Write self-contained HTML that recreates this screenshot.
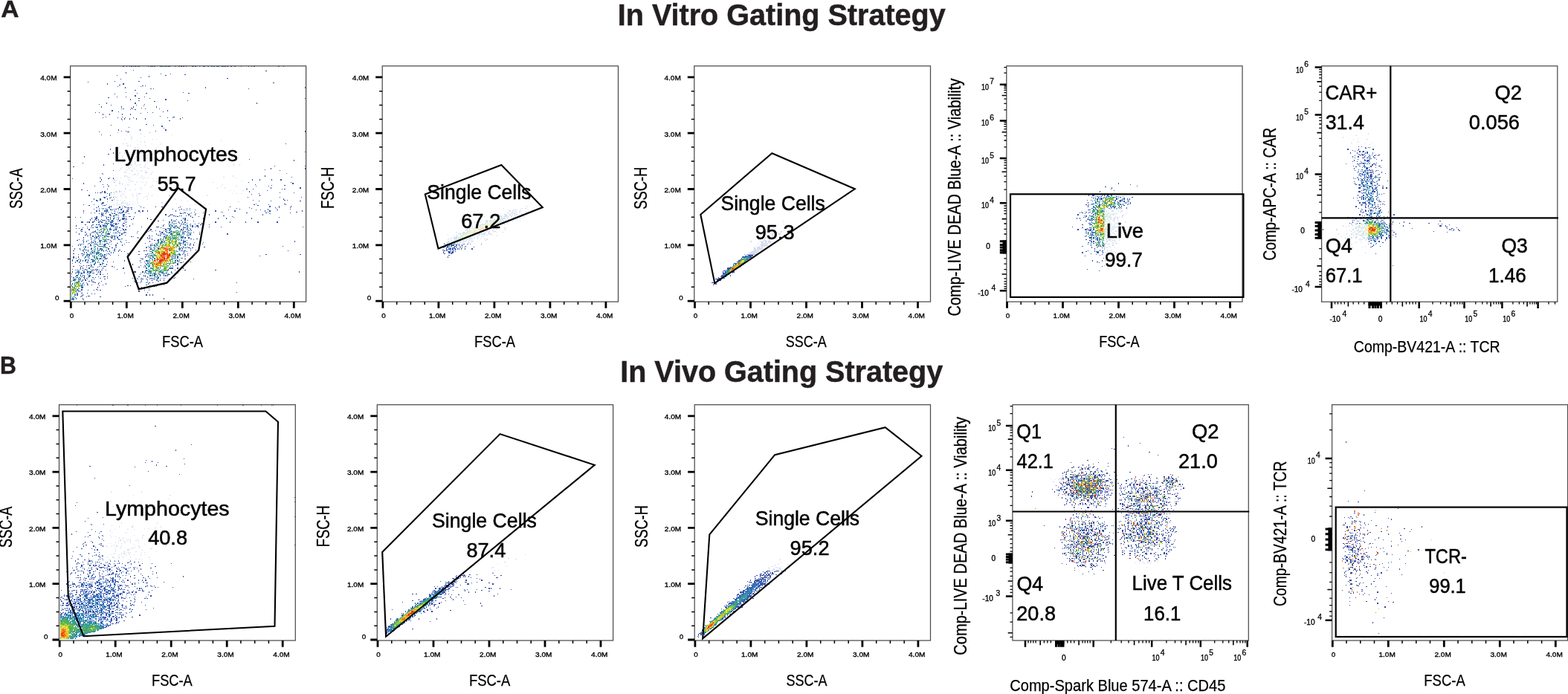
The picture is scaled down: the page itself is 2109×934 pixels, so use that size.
<!DOCTYPE html>
<html lang="en"><head><meta charset="utf-8"><title>Gating Strategy</title>
<style>html,body{margin:0;padding:0;background:#fff}body{width:2109px;height:934px;overflow:hidden}svg{display:block}</style></head>
<body>
<svg width="2109" height="934" viewBox="0 0 2109 934" font-family='"Liberation Sans", sans-serif'>
<style>.t{font-size:9.9px;stroke:#000;stroke-width:.35px}.g{font-size:28.1px;stroke:#000;stroke-width:.5px}.a{font-size:22.3px;stroke:#000;stroke-width:.25px}.v{font-size:23.4px;stroke:#000;stroke-width:.3px}.e{font-size:10.2px;stroke:#000;stroke-width:.35px}.x{font-size:10.3px;stroke:#000;stroke-width:.3px}</style>
<rect width="2109" height="934" fill="#fff"/>
<g font-weight="bold" fill="#231f20" stroke="#231f20" stroke-width=".5">
<text x="830.78" y="33.6" font-size="41.2" textLength="440.98" lengthAdjust="spacingAndGlyphs">In Vitro Gating Strategy</text>
<text x="834.28" y="514.4" font-size="40.8" textLength="433.93" lengthAdjust="spacingAndGlyphs">In Vivo Gating Strategy</text>
<text x="1.31" y="22.8" font-size="31.8" textLength="24.25" lengthAdjust="spacingAndGlyphs">A</text>
<text x="0.1" y="502.5" font-size="32.4" textLength="21.9" lengthAdjust="spacingAndGlyphs">B</text>
</g>
<g stroke-width="1" fill="none"><path stroke="#384698" d="M204 89.5h1M250 89.5h1M298 89.5h1M338 89.5h1M381 89.5h1M357 95.5h2M222 101.5h2M305 105.5h2M162 106.5h1M154 109.5h1M118 110.5h1M367 111.5h2M160 114.5h2M206 119.5h1M334 119.5h1M169 124.5h1M246 124.5h1M196 125.5h2M253 125.5h2M154 126.5h1M145 131.5h2M186 132.5h2M201 132.5h1M252 135.5h1M207 136.5h2M133 140.5h1M183 141.5h1M193 142.5h1M176 145.5h2M190 145.5h1M163 146.5h1M178 146.5h1M195 146.5h1M214 146.5h1M181 147.5h2M219 150.5h1M128 151.5h1M133 151.5h1M205 151.5h1M164 157.5h1M233 157.5h2M138 158.5h1M158 158.5h1M168 158.5h1M179 158.5h1M149 168.5h1M169 176.5h1M410 176.5h1M133 177.5h1M173 177.5h1M158 178.5h1M136 181.5h1M148 182.5h1M194 183.5h1M167 187.5h1M205 187.5h1M184 189.5h1M297 189.5h1M170 192.5h1M384 193.5h1M185 194.5h1M215 194.5h1M185 198.5h1M210 198.5h1M181 202.5h2M191 202.5h2M171 203.5h2M179 204.5h1M410 204.5h1M179 207.5h1M204 207.5h1M185 208.5h1M159 209.5h1M191 209.5h2M198 209.5h1M176 212.5h2M181 212.5h2M217 212.5h2M260 212.5h1M165 213.5h2M167 214.5h1M335 214.5h1M181 218.5h2M111 219.5h1M152 220.5h1M180 220.5h1M181 220.5h2M314 220.5h1M195 224.5h1M164 225.5h1M170 225.5h1M169 228.5h1M178 228.5h1M356 228.5h1M170 229.5h1M190 229.5h1M195 229.5h1M376 229.5h1M178 230.5h1M190 230.5h1M137 233.5h1M174 233.5h1M185 233.5h1M181 234.5h2M202 234.5h2M185 235.5h1M193 238.5h1M300 238.5h2M152 239.5h1M188 239.5h1M199 239.5h1M97 240.5h1M157 240.5h1M160 244.5h2M178 244.5h1M153 245.5h1M173 245.5h1M196 245.5h2M334 245.5h1M391 245.5h1M138 248.5h1M144 248.5h1M164 248.5h1M171 248.5h2M195 248.5h1M343 248.5h1M155 249.5h2M194 249.5h1M205 249.5h1M365 249.5h1M382 249.5h2M127 250.5h1M145 250.5h2M297 250.5h1M139 251.5h1M202 251.5h2M144 254.5h1M331 254.5h2M154 255.5h1M190 255.5h1M117 256.5h1M326 256.5h2M359 256.5h1M128 259.5h1M140 259.5h2M158 260.5h1M164 260.5h1M178 260.5h1M312 260.5h1M318 260.5h1M147 261.5h1M199 261.5h1M253 261.5h2M338 261.5h1M154 264.5h1M169 264.5h1M198 264.5h1M152 265.5h1M155 265.5h2M157 265.5h1M179 265.5h1M333 265.5h1M376 265.5h1M405 265.5h1M129 269.5h2M134 269.5h2M150 269.5h2M167 269.5h1M243 269.5h2M382 269.5h2M386 269.5h1M131 270.5h1M157 270.5h1M252 270.5h1M364 270.5h1M403 270.5h2M320 271.5h2M136 274.5h1M137 274.5h1M170 274.5h1M171 274.5h2M237 274.5h1M266 274.5h1M281 274.5h1M112 275.5h1M157 275.5h1M262 275.5h1M274 275.5h2M341 275.5h2M361 275.5h1M119 276.5h2M138 276.5h1M140 276.5h2M186 276.5h2M255 276.5h1M346 276.5h2M160 279.5h2M169 279.5h1M193 279.5h1M370 279.5h1M139 280.5h1M164 280.5h1M338 280.5h1M126 281.5h1M155 281.5h2M171 281.5h2M173 281.5h1M232 281.5h1M322 281.5h1M360 281.5h1M390 281.5h1M149 282.5h1M163 282.5h1M241 282.5h1M247 282.5h1M344 282.5h1M350 282.5h1M188 285.5h1M247 285.5h1M261 285.5h1M398 285.5h2M112 286.5h1M136 286.5h1M160 286.5h2M248 286.5h2M273 286.5h1M390 286.5h1M133 287.5h1M138 287.5h1M142 287.5h1M153 287.5h1M162 287.5h1M173 287.5h1M152 290.5h1M233 290.5h2M241 290.5h1M300 290.5h2M142 291.5h1M236 291.5h1M238 291.5h2M267 291.5h1M312 291.5h1M101 292.5h1M143 292.5h1M148 292.5h1M375 292.5h1M121 295.5h1M132 295.5h1M136 295.5h1M248 295.5h2M121 296.5h1M138 296.5h1M230 296.5h1M248 296.5h2M127 297.5h1M212 297.5h2M260 297.5h1M165 300.5h2M167 300.5h1M235 300.5h1M241 300.5h1M267 300.5h1M271 300.5h1M155 301.5h2M243 301.5h2M262 301.5h1M129 302.5h2M144 302.5h1M155 302.5h2M164 302.5h1M211 305.5h1M246 305.5h1M262 305.5h1M266 305.5h1M124 306.5h2M160 306.5h2M216 306.5h1M102 307.5h1M117 307.5h1M137 307.5h1M201 310.5h1M209 310.5h1M257 310.5h1M185 311.5h1M199 311.5h1M214 311.5h1M248 311.5h2M102 312.5h1M114 312.5h2M168 312.5h1M196 312.5h2M247 312.5h1M252 312.5h1M268 312.5h1M215 313.5h1M217 313.5h2M114 316.5h2M160 316.5h2M168 316.5h1M212 316.5h2M271 316.5h1M117 317.5h1M124 317.5h2M132 317.5h1M200 317.5h1M201 317.5h1M153 318.5h1M154 321.5h1M256 321.5h1M106 322.5h1M112 322.5h1M152 322.5h1M159 322.5h1M212 322.5h2M103 323.5h2M118 323.5h1M173 326.5h1M261 326.5h1M157 327.5h1M209 327.5h1M107 328.5h1M112 328.5h1M246 328.5h1M147 331.5h1M199 331.5h1M380 331.5h1M118 332.5h1M155 332.5h2M246 332.5h1M252 332.5h1M253 333.5h2M267 333.5h1M111 336.5h1M154 336.5h1M263 336.5h1M111 337.5h1M194 337.5h1M256 337.5h1M387 337.5h1M139 338.5h1M163 338.5h1M167 338.5h1M186 338.5h2M247 338.5h1M251 338.5h1M98 341.5h2M171 341.5h2M200 341.5h1M252 341.5h1M119 342.5h2M186 342.5h2M195 342.5h1M245 342.5h1M357 342.5h2M111 343.5h1M111 344.5h1M349 344.5h1M102 347.5h1M142 347.5h1M245 347.5h1M140 348.5h2M191 348.5h2M248 348.5h2M144 352.5h1M152 352.5h1M256 352.5h1M101 353.5h1M242 353.5h1M243 353.5h2M250 354.5h1M112 357.5h1M122 357.5h1M98 358.5h2M139 358.5h1M140 358.5h2M150 358.5h2M122 359.5h1M186 359.5h2M235 363.5h1M248 363.5h2M241 364.5h1M167 367.5h1M96 368.5h1M144 368.5h1M188 369.5h1M225 369.5h1M139 372.5h1M140 372.5h2M144 372.5h1M198 372.5h1M128 373.5h1M116 374.5h1M190 374.5h1M221 374.5h1M113 375.5h1M185 375.5h1M201 375.5h1M227 375.5h2M136 378.5h1M189 378.5h1M124 379.5h2M133 380.5h1M185 380.5h1M205 380.5h1M318 380.5h1M123 383.5h1M220 383.5h1M133 384.5h1M171 384.5h2M201 384.5h1M168 385.5h1M205 385.5h1M207 385.5h2M194 388.5h1M109 389.5h2M103 390.5h2M105 390.5h1M118 390.5h1M131 390.5h1M194 390.5h1M200 390.5h1M117 394.5h1M123 395.5h1M127 395.5h1M109 398.5h2M119 398.5h2M108 399.5h1M116 399.5h1M112 403.5h1"/><path stroke="#3851a4" d="M170 89.5h1M174 89.5h1M176 89.5h2M179 89.5h1M215 89.5h1M226 89.5h1M243 89.5h2M246 89.5h1M263 89.5h1M273 89.5h1M305 89.5h2M310 89.5h2M334 89.5h1M341 89.5h2M179 94.5h1M216 99.5h1M229 99.5h1M248 100.5h2M157 101.5h1M195 115.5h1M181 121.5h2M184 125.5h1M157 130.5h1M169 130.5h1M194 130.5h1M410 132.5h1M194 140.5h1M149 141.5h1M175 147.5h1M159 150.5h1M189 152.5h1M215 156.5h1M142 157.5h1M225 158.5h1M232 158.5h1M245 158.5h1M164 161.5h1M206 168.5h1M163 176.5h1M209 176.5h1M171 177.5h2M410 177.5h1M201 178.5h1M175 181.5h1M231 181.5h1M176 187.5h2M170 193.5h1M181 198.5h2M219 202.5h1M194 203.5h1M214 204.5h1M145 207.5h2M220 209.5h1M157 212.5h1M194 212.5h1M196 212.5h2M193 213.5h1M165 217.5h2M180 217.5h1M188 217.5h1M194 217.5h1M159 218.5h1M167 219.5h1M198 219.5h1M211 219.5h1M272 219.5h1M206 223.5h1M369 223.5h1M410 223.5h1M98 224.5h2M193 224.5h1M194 224.5h1M173 225.5h1M175 225.5h1M188 225.5h1M190 225.5h1M198 225.5h1M152 229.5h1M176 229.5h2M183 229.5h1M185 230.5h1M188 230.5h1M178 235.5h1M180 235.5h1M171 238.5h2M175 238.5h1M392 238.5h1M134 239.5h2M147 239.5h1M162 239.5h1M173 239.5h1M195 239.5h1M317 239.5h1M145 240.5h2M191 240.5h2M155 243.5h2M174 243.5h1M325 243.5h1M134 244.5h2M206 244.5h1M210 244.5h1M183 245.5h1M286 245.5h1M181 248.5h2M299 248.5h1M174 249.5h1M204 249.5h1M317 249.5h1M168 254.5h1M340 254.5h1M379 254.5h1M109 255.5h2M168 255.5h1M175 256.5h1M309 256.5h1M131 259.5h1M136 259.5h1M149 259.5h1M246 259.5h1M184 260.5h1M186 260.5h2M189 260.5h1M325 260.5h1M348 260.5h1M154 261.5h1M165 261.5h2M186 261.5h2M143 264.5h1M184 264.5h1M139 265.5h1M149 265.5h1M140 266.5h2M169 266.5h1M185 266.5h1M157 269.5h1M159 269.5h1M167 270.5h1M184 270.5h1M348 270.5h1M123 271.5h1M174 271.5h1M158 274.5h1M382 274.5h2M160 275.5h2M174 275.5h1M384 275.5h1M157 276.5h1M171 276.5h2M147 279.5h1M176 279.5h2M240 279.5h1M375 279.5h1M133 280.5h1M137 280.5h1M158 280.5h1M159 280.5h1M251 280.5h1M255 280.5h1M142 281.5h1M153 281.5h1M162 281.5h1M176 281.5h2M243 281.5h2M251 282.5h1M255 282.5h1M262 282.5h1M149 285.5h1M164 285.5h1M165 285.5h2M169 285.5h1M299 285.5h1M360 285.5h1M122 286.5h1M127 286.5h1M154 286.5h1M163 286.5h1M164 286.5h1M181 286.5h2M242 286.5h1M357 286.5h2M150 287.5h2M246 287.5h1M252 287.5h1M137 290.5h1M139 290.5h1M149 290.5h1M153 290.5h1M227 290.5h2M250 290.5h1M256 290.5h1M136 291.5h1M165 291.5h2M169 291.5h1M173 291.5h1M174 291.5h1M175 291.5h1M226 291.5h1M108 292.5h1M145 292.5h2M258 292.5h2M145 295.5h2M157 295.5h1M165 295.5h2M176 295.5h2M202 295.5h2M230 295.5h1M237 295.5h1M132 296.5h1M140 296.5h2M150 296.5h2M160 296.5h2M252 296.5h1M126 297.5h1M134 297.5h2M145 297.5h2M152 297.5h1M160 297.5h2M155 300.5h2M251 300.5h1M178 301.5h1M256 301.5h1M114 302.5h2M133 302.5h1M138 302.5h1M220 302.5h1M269 302.5h2M155 305.5h2M157 305.5h1M170 305.5h1M190 305.5h1M212 305.5h2M236 305.5h1M258 305.5h2M281 305.5h1M297 305.5h1M407 305.5h1M122 306.5h1M247 306.5h1M106 307.5h1M143 307.5h1M225 307.5h1M241 307.5h1M246 307.5h1M255 307.5h1M128 310.5h1M139 310.5h1M159 310.5h1M162 310.5h1M224 310.5h1M109 311.5h2M126 311.5h1M136 311.5h1M124 312.5h2M217 312.5h2M224 312.5h1M260 312.5h1M129 313.5h2M138 313.5h1M154 313.5h1M167 313.5h1M224 313.5h1M253 313.5h2M128 316.5h1M215 316.5h1M224 316.5h1M256 316.5h1M118 317.5h1M134 317.5h2M204 317.5h1M215 317.5h1M143 318.5h1M220 318.5h1M246 318.5h1M163 321.5h1M189 321.5h1M200 321.5h1M216 321.5h1M122 322.5h1M154 322.5h1M148 323.5h1M169 323.5h1M207 323.5h2M211 323.5h1M122 326.5h1M124 326.5h2M170 326.5h1M250 326.5h1M252 326.5h1M195 327.5h1M118 328.5h1M129 328.5h2M134 328.5h2M210 328.5h1M252 328.5h1M134 331.5h2M139 332.5h1M201 332.5h1M274 332.5h2M150 333.5h2M196 333.5h2M200 333.5h1M246 333.5h1M258 333.5h2M118 336.5h1M133 336.5h1M138 336.5h1M98 337.5h2M136 337.5h1M153 337.5h1M193 337.5h1M196 337.5h2M245 337.5h1M112 338.5h1M147 338.5h1M159 338.5h1M111 341.5h1M132 341.5h1M136 341.5h1M198 341.5h1M241 341.5h1M105 342.5h1M118 342.5h1M403 342.5h2M159 343.5h1M200 343.5h1M242 343.5h1M252 343.5h1M134 344.5h2M248 344.5h2M144 347.5h1M201 347.5h1M202 347.5h2M207 347.5h2M133 348.5h1M142 348.5h1M108 349.5h1M116 349.5h1M201 349.5h1M194 352.5h1M106 353.5h1M118 353.5h1M133 353.5h1M189 353.5h1M236 353.5h1M108 354.5h1M138 354.5h1M199 354.5h1M232 354.5h1M107 357.5h1M116 357.5h1M236 357.5h1M133 358.5h1M195 358.5h1M124 359.5h2M131 359.5h1M153 359.5h1M129 362.5h2M157 362.5h1M101 363.5h1M113 363.5h1M116 363.5h1M133 363.5h1M289 363.5h2M123 364.5h1M124 364.5h2M102 367.5h1M194 367.5h1M236 367.5h1M134 368.5h2M199 368.5h1M117 369.5h1M129 369.5h2M138 369.5h1M101 372.5h1M119 372.5h2M186 372.5h2M195 372.5h1M103 373.5h2M107 373.5h1M118 373.5h1M124 373.5h2M198 373.5h1M235 373.5h1M178 374.5h1M202 374.5h2M204 374.5h1M211 374.5h1M100 375.5h1M126 375.5h1M189 375.5h1M211 375.5h1M260 375.5h1M96 378.5h1M109 378.5h2M119 378.5h2M123 378.5h1M126 379.5h1M181 379.5h2M201 380.5h1M117 383.5h1M138 383.5h1M196 383.5h2M175 384.5h1M211 384.5h1M200 388.5h1M129 389.5h2M109 390.5h2M126 390.5h1M134 390.5h2M198 393.5h1M318 393.5h1M109 394.5h2M134 399.5h2M101 400.5h1"/><path stroke="#385cb0" d="M165 89.5h2M181 89.5h2M184 89.5h1M186 89.5h2M199 89.5h1M205 89.5h1M207 89.5h2M224 89.5h1M227 89.5h2M240 89.5h1M241 89.5h1M247 89.5h1M258 89.5h2M262 89.5h1M274 89.5h2M284 89.5h2M299 89.5h1M302 89.5h1M315 89.5h2M324 89.5h1M374 89.5h1M189 104.5h1M186 109.5h2M191 115.5h2M158 116.5h1M189 116.5h1M227 162.5h2M196 167.5h2M173 171.5h1M220 172.5h1M210 187.5h1M165 193.5h2M183 202.5h1M196 203.5h2M210 204.5h1M199 207.5h1M164 209.5h1M159 212.5h1M174 213.5h1M174 217.5h1M175 219.5h1M183 223.5h1M307 223.5h1M178 224.5h1M241 225.5h1M160 229.5h2M175 229.5h1M214 239.5h1M152 240.5h1M205 240.5h1M176 243.5h2M215 244.5h1M168 249.5h1M361 250.5h1M318 251.5h1M257 254.5h1M382 254.5h2M174 255.5h1M160 256.5h2M314 256.5h1M134 259.5h2M153 259.5h1M376 259.5h1M395 259.5h1M144 260.5h1M147 260.5h1M188 260.5h1M163 264.5h1M168 264.5h1M196 264.5h2M140 265.5h2M164 265.5h1M193 265.5h1M147 266.5h1M162 269.5h1M303 269.5h1M340 269.5h1M154 270.5h1M164 271.5h1M163 274.5h1M174 274.5h1M178 274.5h1M126 275.5h1M153 275.5h1M163 276.5h1M165 276.5h2M145 279.5h2M171 279.5h2M173 279.5h1M335 279.5h1M390 279.5h1M318 280.5h1M163 281.5h1M143 282.5h1M144 282.5h1M148 282.5h1M159 282.5h1M162 282.5h1M307 282.5h1M360 282.5h1M372 282.5h2M143 285.5h1M158 285.5h1M297 285.5h1M138 286.5h1M142 286.5h1M168 286.5h1M170 286.5h1M331 286.5h2M136 287.5h1M242 287.5h1M243 287.5h2M255 287.5h1M263 287.5h1M154 290.5h1M159 290.5h1M129 291.5h2M152 291.5h1M167 291.5h1M256 291.5h1M127 292.5h1M129 292.5h2M314 292.5h1M127 295.5h1M128 295.5h1M159 295.5h1M164 295.5h1M168 295.5h1M170 295.5h1M137 296.5h1M139 296.5h1M219 296.5h1M231 296.5h1M243 296.5h2M143 297.5h1M150 297.5h2M158 297.5h1M233 297.5h2M235 297.5h1M236 297.5h1M142 300.5h1M145 300.5h2M153 300.5h1M159 300.5h1M237 300.5h1M247 300.5h1M133 301.5h1M140 301.5h2M143 301.5h1M149 301.5h1M158 301.5h1M230 301.5h1M271 301.5h1M124 302.5h2M132 302.5h1M150 302.5h2M169 302.5h1M229 302.5h1M246 302.5h1M248 302.5h2M251 302.5h1M281 302.5h1M117 305.5h1M128 305.5h1M134 305.5h2M158 305.5h1M210 305.5h1M252 305.5h1M111 306.5h1M139 306.5h1M148 306.5h1M233 306.5h2M248 306.5h2M147 307.5h1M164 307.5h1M219 307.5h1M226 307.5h1M229 307.5h1M235 307.5h1M108 310.5h1M133 310.5h1M152 310.5h1M167 310.5h1M245 310.5h1M253 310.5h2M128 311.5h1M137 311.5h1M143 311.5h1M157 311.5h1M204 311.5h1M215 311.5h1M222 311.5h2M229 311.5h1M231 311.5h1M246 311.5h1M134 312.5h2M139 312.5h1M159 312.5h1M167 312.5h1M229 312.5h1M250 312.5h1M123 313.5h1M126 313.5h1M152 313.5h1M160 313.5h2M169 313.5h1M184 313.5h1M226 313.5h1M246 313.5h1M121 316.5h1M132 316.5h1M225 316.5h1M241 316.5h1M253 316.5h2M139 317.5h1M150 317.5h2M252 317.5h1M124 318.5h2M145 318.5h2M148 318.5h1M154 318.5h1M176 318.5h2M179 318.5h1M221 318.5h1M240 318.5h1M243 318.5h2M132 321.5h1M159 321.5h1M204 321.5h1M240 321.5h1M257 321.5h1M264 321.5h2M142 322.5h1M145 322.5h2M160 322.5h2M204 322.5h1M241 322.5h1M260 322.5h1M134 323.5h2M136 323.5h1M212 323.5h2M243 323.5h2M251 323.5h1M112 326.5h1M128 326.5h1M131 326.5h1M147 326.5h1M240 326.5h1M246 326.5h1M247 326.5h1M273 326.5h1M123 327.5h1M143 327.5h1M144 327.5h1M158 327.5h1M204 327.5h1M128 328.5h1M140 328.5h2M142 328.5h1M167 328.5h1M248 328.5h2M272 328.5h1M128 331.5h1M112 332.5h1M126 332.5h1M127 332.5h1M207 332.5h2M241 332.5h1M143 333.5h1M250 333.5h1M112 336.5h1M114 336.5h2M136 336.5h1M153 336.5h1M160 336.5h2M206 336.5h1M118 337.5h1M123 337.5h1M139 337.5h1M142 337.5h1M147 337.5h1M159 337.5h1M243 337.5h2M247 337.5h1M248 337.5h2M126 338.5h1M144 338.5h1M204 338.5h1M237 338.5h1M109 341.5h2M121 341.5h1M123 341.5h1M129 341.5h2M145 341.5h2M246 341.5h1M122 342.5h1M137 342.5h1M140 342.5h2M147 342.5h1M241 342.5h1M242 342.5h1M248 342.5h2M117 343.5h1M127 343.5h1M137 343.5h1M140 343.5h2M148 343.5h1M206 343.5h1M241 343.5h1M116 344.5h1M119 344.5h2M124 344.5h2M136 344.5h1M138 344.5h1M196 344.5h2M199 344.5h1M236 344.5h1M134 347.5h2M189 347.5h1M238 347.5h2M106 348.5h1M131 348.5h1M134 348.5h2M136 348.5h1M138 348.5h1M143 348.5h1M190 348.5h1M231 348.5h1M97 349.5h1M118 349.5h1M123 349.5h1M124 349.5h2M241 349.5h1M101 352.5h1M124 352.5h2M131 352.5h1M200 352.5h1M240 352.5h1M246 352.5h1M128 353.5h1M198 353.5h1M235 353.5h1M127 354.5h1M128 354.5h1M195 354.5h1M238 354.5h2M118 357.5h1M189 357.5h1M194 357.5h1M231 357.5h1M122 358.5h1M201 358.5h1M229 358.5h1M232 358.5h1M108 359.5h1M116 359.5h1M193 359.5h1M97 362.5h1M108 362.5h1M114 362.5h2M122 362.5h1M124 362.5h2M128 362.5h1M226 362.5h1M106 363.5h1M111 363.5h1M127 363.5h1M136 363.5h1M137 363.5h1M142 363.5h1M226 363.5h1M105 364.5h1M117 364.5h1M129 364.5h2M196 364.5h2M225 364.5h1M101 367.5h1M105 367.5h1M108 367.5h1M109 367.5h2M112 367.5h1M113 367.5h1M117 367.5h1M121 367.5h1M124 367.5h2M126 367.5h1M207 367.5h2M217 367.5h2M231 367.5h1M238 367.5h2M119 368.5h2M180 368.5h1M205 368.5h1M212 368.5h2M219 368.5h1M221 368.5h1M226 368.5h1M105 369.5h1M134 369.5h2M207 369.5h2M215 369.5h1M220 369.5h1M226 369.5h1M227 369.5h2M96 372.5h1M113 372.5h1M132 372.5h1M112 373.5h1M113 373.5h1M212 373.5h2M144 374.5h1M184 374.5h1M212 374.5h2M219 374.5h1M107 375.5h1M117 375.5h1M140 375.5h2M191 375.5h2M206 375.5h1M207 375.5h2M106 378.5h1M180 378.5h1M212 378.5h2M190 379.5h1M198 379.5h1M112 380.5h1M116 380.5h1M127 380.5h1M128 380.5h1M188 380.5h1M200 380.5h1M96 383.5h1M118 383.5h1M111 384.5h1M118 398.5h1M96 403.5h1"/><path stroke="#3485ba" d="M202 89.5h2M219 89.5h1M221 89.5h1M235 89.5h1M260 89.5h1M268 89.5h1M279 89.5h2M287 89.5h1M288 89.5h1M291 89.5h1M292 89.5h1M293 89.5h1M294 89.5h1M303 89.5h1M375 89.5h1M202 119.5h2M186 135.5h2M165 146.5h2M198 151.5h1M170 182.5h1M188 186.5h1M216 193.5h1M201 217.5h1M385 233.5h1M138 234.5h1M154 245.5h1M191 245.5h2M261 250.5h1M344 250.5h1M169 254.5h1M181 255.5h2M148 266.5h1M168 266.5h1M129 270.5h2M129 279.5h2M175 279.5h1M142 280.5h1M147 280.5h1M371 280.5h1M138 281.5h1M144 281.5h1M148 281.5h1M133 282.5h1M150 282.5h2M257 286.5h1M154 287.5h1M159 287.5h1M362 287.5h2M148 290.5h1M236 290.5h1M243 290.5h2M180 291.5h1M154 292.5h1M157 292.5h1M159 292.5h1M144 295.5h1M148 295.5h1M152 295.5h1M162 295.5h1M129 296.5h2M169 296.5h1M167 297.5h1M144 301.5h1M152 301.5h1M227 301.5h2M246 301.5h1M149 302.5h1M255 302.5h1M129 305.5h2M131 305.5h1M136 305.5h1M142 305.5h1M152 305.5h1M233 305.5h2M235 305.5h1M238 305.5h2M247 305.5h1M250 305.5h1M129 306.5h2M131 306.5h1M230 306.5h1M240 306.5h1M252 306.5h1M266 306.5h1M139 307.5h1M155 307.5h2M157 307.5h1M221 307.5h1M251 307.5h1M252 307.5h1M144 310.5h1M153 310.5h1M230 310.5h1M242 310.5h1M127 311.5h1M139 311.5h1M158 311.5h1M230 311.5h1M236 311.5h1M240 311.5h1M252 311.5h1M131 312.5h1M142 312.5h1M148 312.5h1M219 312.5h1M227 312.5h2M233 312.5h2M137 313.5h1M155 313.5h2M227 313.5h2M245 313.5h1M247 313.5h1M257 313.5h1M137 316.5h1M153 316.5h1M222 316.5h2M242 316.5h1M251 316.5h1M121 317.5h1M137 317.5h1M144 317.5h1M149 317.5h1M153 317.5h1M160 317.5h2M221 317.5h1M224 317.5h1M237 317.5h1M128 318.5h1M132 318.5h1M140 318.5h2M144 318.5h1M158 318.5h1M242 318.5h1M245 318.5h1M123 321.5h1M128 321.5h1M143 321.5h1M164 321.5h1M215 321.5h1M219 321.5h1M229 321.5h1M230 321.5h1M237 321.5h1M127 322.5h1M232 322.5h1M111 323.5h1M216 323.5h1M246 323.5h1M163 326.5h1M212 326.5h2M215 326.5h1M216 326.5h1M220 326.5h1M119 327.5h2M126 327.5h1M216 327.5h1M242 327.5h1M243 327.5h2M246 327.5h1M256 327.5h1M109 328.5h2M121 328.5h1M133 328.5h1M137 328.5h1M149 328.5h1M255 328.5h1M256 328.5h1M97 331.5h1M114 331.5h2M122 331.5h1M132 331.5h1M133 331.5h1M136 331.5h1M137 331.5h1M209 331.5h1M214 331.5h1M236 331.5h1M246 331.5h1M114 332.5h2M138 332.5h1M202 332.5h2M210 332.5h1M131 333.5h1M144 333.5h1M206 333.5h1M212 333.5h2M241 333.5h1M243 333.5h2M248 333.5h2M255 333.5h1M108 336.5h1M127 336.5h1M137 336.5h1M143 336.5h1M201 336.5h1M204 336.5h1M241 336.5h1M127 337.5h1M133 337.5h1M235 337.5h1M241 337.5h1M118 338.5h1M123 338.5h1M127 338.5h1M154 338.5h1M201 338.5h1M238 338.5h2M117 341.5h1M126 341.5h1M143 341.5h1M202 341.5h2M113 342.5h1M117 342.5h1M129 342.5h2M134 342.5h2M196 342.5h2M198 342.5h1M207 342.5h2M233 342.5h2M236 342.5h1M238 342.5h2M240 342.5h1M132 343.5h1M139 343.5h1M143 343.5h1M171 343.5h2M204 343.5h1M235 343.5h1M117 344.5h1M132 344.5h1M202 344.5h2M204 344.5h1M205 344.5h1M238 344.5h2M98 347.5h2M113 347.5h1M119 347.5h2M127 347.5h1M131 347.5h1M233 347.5h2M235 347.5h1M204 348.5h1M207 348.5h2M105 349.5h1M114 349.5h2M122 349.5h1M128 349.5h1M229 349.5h1M231 349.5h1M107 352.5h1M117 352.5h1M123 352.5h1M128 352.5h1M198 352.5h1M121 353.5h1M131 353.5h1M137 353.5h1M200 353.5h1M97 354.5h1M139 354.5h1M198 354.5h1M229 354.5h1M119 357.5h2M123 357.5h1M198 357.5h1M200 357.5h1M205 357.5h1M220 357.5h1M225 357.5h1M109 358.5h2M136 358.5h1M200 358.5h1M195 359.5h1M131 362.5h1M103 363.5h2M196 363.5h2M212 363.5h2M217 363.5h2M195 364.5h1M202 364.5h2M216 364.5h1M122 367.5h1M131 367.5h1M189 367.5h1M196 367.5h2M219 367.5h1M222 367.5h2M230 367.5h1M105 368.5h1M109 368.5h2M200 368.5h1M207 368.5h2M214 368.5h1M224 368.5h1M214 369.5h1M209 372.5h1M211 372.5h1M98 373.5h2M102 373.5h1M106 373.5h1M207 373.5h2M210 373.5h1M98 374.5h2M113 374.5h1M134 374.5h2M205 374.5h1M216 374.5h1M233 374.5h2M102 375.5h1M106 375.5h1M108 375.5h1M196 375.5h2M105 378.5h1M100 379.5h1M103 380.5h2M196 380.5h2M109 383.5h2M113 383.5h1M101 384.5h1M109 384.5h2M210 385.5h1M105 388.5h1M103 394.5h2M97 395.5h1M103 395.5h2M96 399.5h1M98 403.5h2"/><path stroke="#3ca08c" d="M216 89.5h1M217 89.5h2M222 89.5h2M236 89.5h1M300 89.5h2M204 193.5h1M185 244.5h1M189 244.5h1M142 259.5h1M179 269.5h1M344 274.5h1M143 275.5h1M162 285.5h1M165 290.5h2M144 300.5h1M149 300.5h1M232 300.5h1M148 301.5h1M226 301.5h1M233 301.5h2M148 302.5h1M143 305.5h1M229 305.5h1M241 305.5h1M142 306.5h1M154 306.5h1M229 306.5h1M238 306.5h2M148 307.5h1M227 307.5h2M237 307.5h1M240 307.5h1M220 310.5h1M227 310.5h2M237 310.5h1M145 311.5h2M233 311.5h2M242 311.5h1M128 312.5h1M133 312.5h1M138 312.5h1M238 312.5h2M242 312.5h1M245 312.5h1M256 312.5h1M133 313.5h1M145 313.5h2M157 313.5h1M165 313.5h2M230 313.5h1M231 313.5h1M233 313.5h2M241 313.5h1M138 316.5h1M142 316.5h1M230 316.5h1M231 316.5h1M238 316.5h2M240 316.5h1M243 316.5h2M140 317.5h2M142 317.5h1M155 317.5h2M227 317.5h2M231 317.5h1M233 317.5h2M246 317.5h1M129 318.5h2M131 318.5h1M224 318.5h1M229 318.5h1M231 318.5h1M235 318.5h1M237 318.5h1M222 321.5h2M232 321.5h1M233 321.5h2M133 322.5h1M138 322.5h1M139 322.5h1M140 322.5h2M144 322.5h1M215 322.5h1M219 322.5h1M229 322.5h1M247 322.5h1M126 323.5h1M133 323.5h1M142 323.5h1M219 323.5h1M224 323.5h1M237 323.5h1M240 323.5h1M217 326.5h2M222 326.5h2M227 326.5h2M241 326.5h1M242 326.5h1M211 327.5h1M240 327.5h1M127 328.5h1M145 328.5h2M211 328.5h1M215 328.5h1M216 328.5h1M222 328.5h2M231 328.5h1M235 328.5h1M242 328.5h1M260 328.5h1M212 331.5h2M140 332.5h2M114 333.5h2M123 333.5h1M142 333.5h1M220 333.5h1M237 333.5h1M116 336.5h1M131 336.5h1M205 336.5h1M210 336.5h1M124 337.5h2M131 337.5h1M207 337.5h2M209 337.5h1M202 338.5h2M235 338.5h1M134 341.5h2M206 341.5h1M240 341.5h1M112 342.5h1M116 342.5h1M205 342.5h1M119 343.5h2M231 343.5h1M127 344.5h1M137 344.5h1M201 344.5h1M209 344.5h1M232 344.5h1M205 347.5h1M231 347.5h1M236 347.5h1M243 347.5h2M123 348.5h1M129 348.5h2M131 349.5h1M204 349.5h1M205 349.5h1M230 349.5h1M235 349.5h1M237 349.5h1M106 352.5h1M229 352.5h1M235 352.5h1M116 353.5h1M117 353.5h1M202 354.5h2M225 354.5h1M226 354.5h1M227 354.5h2M230 354.5h1M226 357.5h1M142 358.5h1M199 358.5h1M204 358.5h1M219 358.5h1M199 359.5h1M200 359.5h1M215 359.5h1M225 359.5h1M117 362.5h1M199 362.5h1M201 362.5h1M204 362.5h1M205 362.5h1M214 362.5h1M219 362.5h1M131 363.5h1M199 363.5h1M206 363.5h1M209 363.5h1M210 363.5h1M211 363.5h1M225 363.5h1M111 364.5h1M122 364.5h1M200 364.5h1M201 364.5h1M207 364.5h2M219 364.5h1M222 364.5h2M106 367.5h1M202 367.5h2M206 367.5h1M198 368.5h1M202 368.5h2M205 369.5h1M109 372.5h2M200 373.5h1M105 374.5h1M108 374.5h1M101 375.5h1M105 375.5h1M103 379.5h2M106 379.5h1M101 380.5h1M108 384.5h1M96 385.5h1M97 385.5h1M107 385.5h1M109 385.5h2M100 388.5h1M106 388.5h1M97 389.5h1M103 389.5h2M96 390.5h1M97 390.5h1M98 390.5h2M102 393.5h1M101 395.5h1M100 399.5h1M97 400.5h1M97 403.5h1"/><path stroke="#5ab252" d="M144 271.5h1M145 285.5h2M147 297.5h1M143 300.5h1M238 310.5h2M235 312.5h1M240 312.5h1M142 313.5h1M143 313.5h1M236 313.5h1M143 316.5h1M235 316.5h1M236 316.5h1M133 317.5h1M232 317.5h1M235 317.5h1M150 318.5h2M222 318.5h2M226 318.5h1M138 321.5h1M226 321.5h1M235 321.5h1M225 322.5h1M226 322.5h1M227 322.5h2M235 322.5h1M236 322.5h1M238 322.5h2M243 322.5h2M140 323.5h2M222 323.5h2M134 326.5h2M229 326.5h1M230 326.5h1M235 326.5h1M236 326.5h1M215 327.5h1M217 327.5h2M221 327.5h1M227 327.5h2M231 327.5h1M241 327.5h1M236 328.5h1M237 328.5h1M241 328.5h1M138 331.5h1M140 331.5h2M232 331.5h1M238 331.5h2M128 332.5h1M196 332.5h2M217 332.5h2M220 332.5h1M240 332.5h1M235 333.5h1M142 336.5h1M205 337.5h1M211 337.5h1M233 337.5h2M237 337.5h1M131 338.5h1M209 338.5h1M210 338.5h1M131 341.5h1M231 341.5h1M232 341.5h1M233 341.5h2M133 342.5h1M235 342.5h1M116 343.5h1M202 343.5h2M207 343.5h2M209 343.5h1M232 343.5h1M237 343.5h1M207 344.5h2M230 344.5h1M233 344.5h2M129 347.5h2M127 348.5h1M232 348.5h1M226 352.5h1M232 352.5h1M202 353.5h2M204 353.5h1M205 353.5h1M220 353.5h1M233 353.5h2M137 354.5h1M201 354.5h1M204 354.5h1M224 354.5h1M233 354.5h2M201 357.5h1M217 357.5h2M224 357.5h1M205 358.5h1M209 358.5h1M221 358.5h1M206 359.5h1M224 359.5h1M206 362.5h1M209 362.5h1M220 362.5h1M201 363.5h1M214 363.5h1M216 363.5h1M220 363.5h1M221 363.5h1M222 363.5h2M224 363.5h1M198 364.5h1M205 364.5h1M210 364.5h1M211 364.5h1M215 364.5h1M221 364.5h1M220 367.5h1M224 367.5h1M201 368.5h1M209 368.5h1M108 369.5h1M209 369.5h1M210 369.5h1M102 379.5h1M105 379.5h1M102 380.5h1M105 380.5h1M100 383.5h1M96 384.5h1M100 384.5h1M106 384.5h1M107 384.5h1M101 385.5h1M103 385.5h2M101 388.5h1M96 389.5h1M101 389.5h1M101 390.5h1M98 399.5h2"/><path stroke="#94c83f" d="M149 296.5h1M140 306.5h2M236 310.5h1M231 312.5h1M237 312.5h1M237 313.5h1M238 313.5h2M233 316.5h2M236 321.5h1M217 322.5h2M227 323.5h2M229 323.5h1M230 323.5h1M231 323.5h1M232 323.5h1M236 323.5h1M224 326.5h1M232 326.5h1M212 327.5h2M224 327.5h1M229 327.5h1M235 327.5h1M236 327.5h1M219 328.5h1M226 328.5h1M232 328.5h1M240 328.5h1M217 331.5h2M226 331.5h1M237 331.5h1M142 332.5h1M219 332.5h1M235 332.5h1M237 332.5h1M211 333.5h1M214 333.5h1M215 333.5h1M230 333.5h1M211 336.5h1M219 336.5h1M232 336.5h1M237 336.5h1M132 337.5h1M206 337.5h1M212 337.5h2M230 337.5h1M232 337.5h1M212 338.5h2M214 338.5h1M215 338.5h1M217 338.5h2M219 338.5h1M232 338.5h1M212 341.5h2M235 341.5h1M211 342.5h1M214 342.5h1M215 342.5h1M211 343.5h1M215 343.5h1M229 344.5h1M235 344.5h1M210 348.5h1M230 348.5h1M207 349.5h2M227 349.5h2M205 352.5h1M206 352.5h1M209 352.5h1M220 352.5h1M231 352.5h1M210 353.5h1M211 353.5h1M212 353.5h2M224 353.5h1M229 353.5h1M232 353.5h1M219 354.5h1M221 354.5h1M195 357.5h1M216 357.5h1M206 358.5h1M210 358.5h1M215 358.5h1M217 358.5h2M220 358.5h1M222 358.5h2M226 358.5h1M212 359.5h2M221 359.5h1M222 359.5h2M221 362.5h1M222 362.5h2M207 363.5h2M204 364.5h1M206 364.5h1M209 364.5h1M220 364.5h1M210 368.5h1M212 372.5h2M107 380.5h1M102 383.5h1M105 383.5h1M105 384.5h1M100 385.5h1M102 385.5h1M96 388.5h1M98 388.5h2M102 388.5h1M100 390.5h1M97 393.5h1M98 393.5h2M96 394.5h1M97 394.5h1M100 394.5h1"/><path stroke="#f0e137" d="M237 316.5h1M225 318.5h1M224 321.5h1M225 323.5h1M219 326.5h1M226 326.5h1M233 326.5h2M237 326.5h1M232 327.5h1M237 327.5h1M224 328.5h1M225 328.5h1M233 328.5h2M238 328.5h2M220 331.5h1M221 331.5h1M225 331.5h1M229 331.5h1M230 331.5h1M231 331.5h1M233 331.5h2M240 331.5h1M225 332.5h1M230 332.5h1M219 333.5h1M225 333.5h1M212 336.5h2M215 336.5h1M226 336.5h1M233 336.5h2M210 337.5h1M216 337.5h1M219 337.5h1M221 337.5h1M231 337.5h1M207 338.5h2M211 338.5h1M216 338.5h1M233 338.5h2M229 341.5h1M230 341.5h1M236 341.5h1M230 342.5h1M232 342.5h1M212 343.5h2M229 343.5h1M212 344.5h2M212 347.5h2M227 347.5h2M225 348.5h1M227 348.5h2M225 349.5h1M210 352.5h1M230 352.5h1M207 353.5h2M222 353.5h2M205 354.5h1M209 354.5h1M217 354.5h2M222 354.5h2M207 358.5h2M216 358.5h1M224 358.5h1M207 359.5h2M211 359.5h1M220 359.5h1M210 362.5h1M211 362.5h1M224 362.5h1M209 367.5h1M106 380.5h1M101 383.5h1M103 384.5h2M105 385.5h1M106 385.5h1M100 393.5h1M98 394.5h2M100 395.5h1"/><path stroke="#f4ab29" d="M236 312.5h1M227 328.5h2M222 331.5h2M224 331.5h1M232 332.5h1M233 332.5h2M216 333.5h1M227 333.5h2M233 333.5h2M216 336.5h1M222 336.5h2M231 336.5h1M217 337.5h2M224 337.5h1M225 337.5h1M221 338.5h1M230 338.5h1M209 341.5h1M215 341.5h1M226 342.5h1M229 342.5h1M210 343.5h1M214 343.5h1M224 343.5h1M210 344.5h1M215 344.5h1M217 347.5h2M219 348.5h1M209 349.5h1M210 349.5h1M226 349.5h1M217 352.5h2M222 352.5h2M216 353.5h1M221 353.5h1M206 354.5h1M211 357.5h1M214 357.5h1"/><path stroke="#ef7020" d="M225 321.5h1M227 331.5h2M226 332.5h1M229 332.5h1M221 333.5h1M222 333.5h2M229 333.5h1M231 333.5h1M232 333.5h1M225 336.5h1M227 336.5h2M229 336.5h1M230 336.5h1M229 337.5h1M220 338.5h1M225 338.5h1M214 341.5h1M216 342.5h1M217 342.5h2M224 342.5h1M217 343.5h2M224 344.5h1M225 344.5h1M226 344.5h1M214 347.5h1M219 347.5h1M212 348.5h2M215 348.5h1M216 348.5h1M217 348.5h2M212 349.5h2M214 349.5h1M215 349.5h1M220 349.5h1M222 349.5h2M224 349.5h1M212 352.5h2M206 353.5h1M214 353.5h1M217 353.5h2M207 354.5h2M210 354.5h1M211 354.5h1M212 354.5h2M215 354.5h1M206 357.5h1M209 357.5h1M212 357.5h2M211 358.5h1M209 359.5h1M106 383.5h1M98 389.5h2"/><path stroke="#e4321c" d="M224 332.5h1M217 333.5h2M224 336.5h1M222 337.5h2M227 337.5h2M224 338.5h1M217 341.5h2M219 341.5h1M220 341.5h1M221 341.5h1M222 341.5h2M224 341.5h1M225 341.5h1M227 341.5h2M219 342.5h1M220 342.5h1M221 342.5h1M222 342.5h2M225 342.5h1M227 342.5h2M216 343.5h1M219 343.5h1M220 343.5h1M221 343.5h1M225 343.5h1M226 343.5h1M227 343.5h2M216 344.5h1M217 344.5h2M220 344.5h1M222 344.5h2M227 344.5h2M211 347.5h1M215 347.5h1M220 347.5h1M221 347.5h1M222 347.5h2M224 347.5h1M225 347.5h1M226 347.5h1M211 348.5h1M220 348.5h1M221 348.5h1M224 348.5h1M211 349.5h1M216 349.5h1M217 349.5h2M219 349.5h1M221 349.5h1M214 352.5h1M215 352.5h1M216 352.5h1M215 353.5h1M214 354.5h1M216 354.5h1M215 357.5h1M210 359.5h1"/></g>
<g stroke-width="2" fill="none"><path stroke="#384698" d="M144 113h1M165 113h2M168 118h1M345 139h1M136 144h1M163 144h1M179 144h1M225 149h1M138 154h1M167 160h1M183 160h1M195 160h1M242 160h1M189 180h1M189 201h1M199 201h1M152 206h1M220 206h1M299 206h1M176 216h2M395 216h1M139 222h1M175 222h1M188 222h1M322 222h1M199 227h1M364 227h1M410 227h1M204 232h1M167 237h1M190 237h1M313 237h1M356 237h1M136 242h1M173 242h1M339 242h1M349 242h1M365 242h1M112 247h1M160 247h2M393 247h2M292 253h1M302 253h1M364 253h1M403 253h2M137 258h1M155 258h2M160 258h2M163 258h1M167 258h1M335 258h1M147 263h1M162 263h1M178 263h1M227 263h2M278 263h1M144 268h1M168 273h1M132 278h1M147 278h1M149 278h1M189 278h1M209 278h1M242 278h1M309 278h1M112 284h1M191 284h2M362 284h2M406 284h1M138 289h1M148 289h1M167 289h1M222 289h2M281 289h1M128 294h1M167 294h1M179 294h1M198 294h1M273 294h1M304 294h1M117 299h1M119 299h2M137 299h1M169 299h1M240 299h1M289 299h2M330 299h1M346 299h2M372 299h2M102 304h1M219 304h1M237 304h1M266 304h1M222 309h2M246 309h1M252 309h1M256 309h1M106 315h1M121 315h1M219 315h1M268 315h1M112 320h1M149 320h1M185 320h1M253 320h2M149 325h1M201 325h1M396 325h1M108 330h1M202 330h2M260 330h1M107 335h1M122 335h1M245 335h1M105 346h1M139 346h1M103 351h2M108 351h1M111 351h1M118 351h1M196 351h2M134 356h2M178 356h1M238 356h2M111 361h1M232 361h1M238 361h2M246 361h1M97 366h1M117 366h1M180 366h1M181 366h2M230 366h1M402 366h1M215 371h1M111 377h1M114 377h2M123 377h1M204 377h1M132 382h1M111 387h1M107 392h1M186 392h2M111 397h1M196 397h2M201 397h1M205 397h1M102 402h1M220 402h1"/><path stroke="#3851a4" d="M169 98h1M200 103h1M276 118h1M181 129h2M222 134h2M143 139h1M210 144h1M150 149h2M147 154h1M164 154h1M175 154h1M174 160h1M159 175h1M188 175h1M222 175h2M194 191h1M171 196h2M175 196h1M195 196h1M184 201h1M210 201h1M167 206h1M190 206h1M113 211h1M173 216h1M194 216h1M170 222h1M173 222h1M195 222h1M314 222h1M173 227h1M180 227h1M167 232h1M169 232h1M195 232h1M196 232h2M153 242h1M214 242h1M377 242h2M164 247h1M168 253h1M189 253h1M140 258h2M157 258h1M183 263h1M204 263h1M349 263h1M126 268h1M134 268h2M184 268h1M235 268h1M381 268h1M137 273h1M157 273h1M164 273h1M185 273h1M217 273h2M160 278h2M168 278h1M217 278h2M391 278h1M129 284h2M133 284h1M144 284h1M170 284h1M171 284h2M186 284h2M198 284h1M236 284h1M147 289h1M229 289h1M231 289h1M123 294h1M129 294h2M143 294h1M153 294h1M165 294h2M169 294h1M246 294h1M248 294h2M293 294h1M338 294h1M109 299h2M124 299h2M227 299h2M245 299h1M309 299h1M123 304h1M134 304h2M150 304h2M165 304h2M174 304h1M153 309h1M169 309h1M145 315h2M163 315h1M229 315h1M255 315h1M129 320h2M154 320h1M248 320h2M112 325h1M116 325h1M123 325h1M128 325h1M143 325h1M162 325h1M122 330h1M131 330h1M155 330h2M164 330h1M207 330h2M242 330h1M100 335h1M123 335h1M134 335h2M202 335h2M242 335h1M247 340h1M98 346h2M195 346h1M205 346h1M232 346h1M97 351h1M139 351h1M167 351h1M238 351h2M143 356h1M108 361h1M119 361h2M138 361h1M165 361h2M106 366h1M113 366h1M121 366h1M134 366h2M191 366h2M195 366h1M111 371h1M193 371h1M195 371h1M207 371h2M98 377h2M215 377h1M97 382h1M111 382h1M131 387h1M190 387h1M111 402h1"/><path stroke="#385cb0" d="M410 118h1M175 134h1M181 139h2M163 160h1M217 170h2M176 185h2M189 191h1M148 201h1M160 206h2M176 222h2M185 222h1M162 227h1M170 237h1M119 263h2M198 268h1M138 273h1M170 273h1M167 278h1M362 278h2M375 278h1M140 284h2M143 284h1M154 284h1M165 284h2M289 284h2M315 284h2M356 284h1M136 289h1M165 289h2M253 289h2M262 289h1M353 289h1M159 294h1M164 294h1M132 299h1M133 299h1M148 299h1M149 299h1M231 299h1M138 304h1M139 304h1M140 304h2M149 304h1M227 304h2M235 304h1M242 304h1M258 304h2M264 304h2M109 309h2M119 309h2M131 309h1M147 309h1M149 309h1M155 309h2M165 309h2M168 309h1M202 309h2M243 309h2M116 315h1M131 315h1M144 315h1M147 315h1M164 315h1M210 315h1M216 315h1M221 315h1M230 315h1M241 315h1M247 315h1M305 315h2M122 320h1M127 320h1M133 320h1M138 320h1M157 320h1M158 320h1M198 320h1M201 320h1M220 320h1M140 325h2M217 325h2M246 325h1M248 325h2M105 330h1M121 330h1M140 330h2M205 330h1M219 330h1M238 330h2M255 330h1M113 335h1M131 335h1M145 335h2M154 335h1M212 335h2M241 335h1M113 340h1M116 340h1M131 340h1M149 340h1M205 340h1M118 346h1M126 346h1M140 346h2M235 346h1M238 346h2M114 351h2M188 351h1M235 351h1M126 356h1M196 361h2M229 361h1M230 361h1M112 366h1M122 366h1M132 366h1M214 366h1M103 371h2M108 371h1M113 371h1M119 371h2M201 371h1M202 371h2M205 371h1M211 371h1M220 371h1M222 371h2M225 371h1M100 377h1M107 377h1M220 377h1M100 382h1M117 382h1M142 382h1M199 382h1M109 387h2M105 392h1M100 397h1M103 397h2"/><path stroke="#3485ba" d="M181 201h2M164 211h1M183 211h1M168 237h1M153 268h1M139 273h1M163 273h1M137 289h1M148 294h1M111 299h1M136 299h1M142 299h1M150 299h2M248 299h2M142 304h1M152 304h1M153 304h1M232 304h1M251 304h1M252 304h1M148 309h1M229 309h1M136 315h1M142 315h1M245 315h1M256 315h1M222 320h2M243 320h2M245 320h1M134 325h2M138 325h1M212 325h2M220 325h1M247 325h1M139 330h1M211 330h1M137 335h1M240 335h1M256 335h1M124 340h2M127 340h1M132 340h1M152 340h1M204 340h1M114 346h2M199 346h1M230 346h1M258 346h2M124 351h2M126 351h1M127 351h1M138 351h1M199 351h1M201 351h1M236 351h1M199 356h1M201 356h1M202 361h2M215 361h1M227 361h2M231 361h1M105 366h1M200 366h1M201 366h1M209 366h1M215 366h1M102 371h1M121 371h1M105 377h1M190 377h1M198 377h1M211 377h1M100 387h1M102 392h1M101 397h1M97 402h1M98 402h2"/><path stroke="#3ca08c" d="M142 284h1M155 289h2M157 289h1M152 294h1M143 304h1M230 304h1M231 304h1M256 304h1M136 309h1M139 309h1M144 309h1M227 309h2M250 309h1M237 315h1M238 315h2M240 315h1M252 315h1M150 320h2M231 320h1M233 320h2M236 320h1M246 320h1M126 325h1M133 325h1M235 325h1M126 330h1M248 330h2M126 335h1M128 335h1M136 335h1M207 335h2M121 340h1M123 340h1M129 340h2M133 340h1M129 346h2M136 346h1M206 346h1M132 351h1M198 351h1M229 351h1M122 356h1M127 356h1M137 356h1M196 356h2M205 356h1M205 361h1M221 361h1M103 366h2M118 366h1M119 366h2M199 366h1M202 366h2M216 366h1M217 366h2M219 366h1M210 377h1M108 382h1M97 387h1"/><path stroke="#5ab252" d="M165 273h2M164 278h1M140 309h2M231 315h1M232 315h1M227 320h2M229 320h1M235 320h1M221 325h1M236 325h1M237 325h1M210 330h1M215 330h1M221 330h1M233 330h2M215 335h1M227 335h2M230 340h1M235 340h1M127 346h1M201 346h1M210 346h1M205 351h1M225 351h1M232 351h1M241 351h1M204 356h1M220 356h1M211 361h1M212 361h2M222 361h2M224 366h1M101 377h1M96 392h1M96 402h1"/><path stroke="#94c83f" d="M134 309h2M140 320h2M226 320h1M232 320h1M237 320h1M238 320h2M216 325h1M226 325h1M227 325h2M230 325h1M231 325h1M222 330h2M227 330h2M226 335h1M229 335h1M209 340h1M211 340h1M217 340h2M229 340h1M231 340h1M233 340h2M214 346h1M219 356h1M222 356h2M224 356h1M227 356h2M204 361h1M206 361h1M210 361h1M220 361h1M212 366h2M102 382h1M103 382h2M105 382h1M98 387h2M102 387h1M105 387h1M101 392h1M96 397h1"/><path stroke="#f0e137" d="M143 309h1M225 320h1M225 325h1M233 325h2M225 330h1M231 330h1M216 335h1M217 335h2M233 335h2M215 340h1M216 340h1M226 340h1M232 340h1M212 346h2M221 351h1M214 356h1M221 356h1M209 361h1M100 392h1"/><path stroke="#f4ab29" d="M224 320h1M232 325h1M217 330h2M224 330h1M226 330h1M237 330h1M214 335h1M219 335h1M231 335h1M232 335h1M210 340h1M222 340h2M225 340h1M211 346h1M215 346h1M216 346h1M224 346h1M227 346h2M209 351h1M219 351h1M224 351h1M227 351h2M206 356h1M207 356h2M209 356h1M212 356h2M215 356h1M106 382h1M98 392h2"/><path stroke="#ef7020" d="M220 335h1M221 335h1M222 335h2M224 335h1M225 335h1M230 335h1M212 340h2M219 340h1M224 340h1M217 346h2M220 346h1M222 351h2M211 356h1M216 356h1"/><path stroke="#e4321c" d="M214 340h1M220 340h1M221 340h1M219 346h1M221 346h1M225 346h1M226 346h1M207 351h2M211 351h1M214 351h1M215 351h1M216 351h1M217 351h2M220 351h1M210 356h1"/></g>
<rect x="153.3" y="178.4" width="174.8" height="99.6" fill="#fff" opacity="0.8"/>
<rect x="94.6" y="88.8" width="317" height="317.3" fill="none" stroke="#4d4d4d" stroke-width="1.25"/>
<path d="M85.6 405.1H94.6M85.6 329.8H94.6M85.6 254.5H94.6M85.6 179.2H94.6M85.6 103.9H94.6" stroke="#000" stroke-width="2.8" fill="none"/>
<path d="M90.6 386.3H94.6M90.6 367.5H94.6M90.6 348.6H94.6M90.6 311H94.6M90.6 292.2H94.6M90.6 273.3H94.6M90.6 235.7H94.6M90.6 216.9H94.6M90.6 198H94.6M90.6 160.4H94.6M90.6 141.6H94.6M90.6 122.7H94.6" stroke="#000" stroke-width="1.5" fill="none"/>
<text class="t" x="76.6" y="334.1" text-anchor="end" textLength="22.4" lengthAdjust="spacingAndGlyphs">1.0M</text>
<text class="t" x="76.6" y="258.8" text-anchor="end" textLength="22.4" lengthAdjust="spacingAndGlyphs">2.0M</text>
<text class="t" x="76.6" y="183.5" text-anchor="end" textLength="22.4" lengthAdjust="spacingAndGlyphs">3.0M</text>
<text class="t" x="76.6" y="108.2" text-anchor="end" textLength="22.4" lengthAdjust="spacingAndGlyphs">4.0M</text>
<text class="t" x="79.6" y="403.8" text-anchor="end">0</text>
<path d="M95.3 406.1V414.8M170.3 406.1V414.8M245.3 406.1V414.8M320.3 406.1V414.8M395.3 406.1V414.8" stroke="#000" stroke-width="2.8" fill="none"/>
<path d="M114 406.1V410.1M132.8 406.1V410.1M151.6 406.1V410.1M189.1 406.1V410.1M207.8 406.1V410.1M226.6 406.1V410.1M264.1 406.1V410.1M282.8 406.1V410.1M301.6 406.1V410.1M339.1 406.1V410.1M357.8 406.1V410.1M376.6 406.1V410.1" stroke="#000" stroke-width="1.5" fill="none"/>
<text class="t" x="168.6" y="428" text-anchor="middle" textLength="22.4" lengthAdjust="spacingAndGlyphs">1.0M</text>
<text class="t" x="243.6" y="428" text-anchor="middle" textLength="22.4" lengthAdjust="spacingAndGlyphs">2.0M</text>
<text class="t" x="318.6" y="428" text-anchor="middle" textLength="22.4" lengthAdjust="spacingAndGlyphs">3.0M</text>
<text class="t" x="393.6" y="428" text-anchor="middle" textLength="22.4" lengthAdjust="spacingAndGlyphs">4.0M</text>
<text class="t" x="96.4" y="428" text-anchor="middle">0</text>
<polygon points="239.6,252.9 277.1,281.5 267.2,336.9 224.4,380.6 186.6,389.1 171.6,345.8" fill="none" stroke="#000" stroke-width="2.3" stroke-linejoin="miter"/>
<text x="153.5" y="217.2" class="g" textLength="166.43" lengthAdjust="spacingAndGlyphs">Lymphocytes</text>
<text x="211.69" y="256.8" class="g" textLength="51.73" lengthAdjust="spacingAndGlyphs">55.7</text>
<text x="218.12" y="467.3" class="a" textLength="54.91" lengthAdjust="spacingAndGlyphs">FSC-A</text>
<text class="v" transform="translate(30.4 280.77) rotate(-90)" textLength="54.27" lengthAdjust="spacingAndGlyphs">SSC-A</text>
<g stroke-width="1" fill="none"><path stroke="#384698" d="M714 274.5h1M677 280.5h1M701 280.5h2M706 280.5h2M684 282.5h1M695 282.5h1M698 285.5h1M706 285.5h2M692 290.5h1M704 291.5h1M659 292.5h2M688 295.5h1M658 296.5h1M699 297.5h1M678 307.5h1M667 312.5h1M675 312.5h2M613 316.5h2M654 316.5h2M662 316.5h1M667 317.5h1M646 321.5h1M606 322.5h1M623 328.5h2M628 328.5h2M626 331.5h1M625 332.5h1M612 336.5h1M597 337.5h2M610 337.5h1M608 338.5h2"/><path stroke="#3851a4" d="M692 282.5h1M693 282.5h1M700 282.5h1M690 285.5h2M694 285.5h1M682 286.5h1M683 286.5h1M687 286.5h1M688 286.5h1M692 286.5h1M668 290.5h1M673 290.5h1M674 290.5h1M700 290.5h1M651 291.5h1M663 291.5h1M693 291.5h1M695 291.5h1M670 292.5h2M688 292.5h1M690 292.5h2M694 292.5h1M705 292.5h1M683 295.5h1M684 295.5h1M689 295.5h1M690 295.5h2M659 296.5h2M694 296.5h1M651 297.5h1M654 297.5h2M679 297.5h1M680 297.5h2M688 297.5h1M689 297.5h1M631 300.5h1M678 300.5h1M682 300.5h1M678 301.5h1M634 305.5h2M638 305.5h1M679 305.5h1M631 306.5h1M662 306.5h1M679 306.5h1M631 307.5h1M626 310.5h1M662 310.5h1M663 310.5h1M657 311.5h1M658 311.5h1M664 311.5h1M665 311.5h2M613 312.5h2M623 312.5h2M657 312.5h1M657 313.5h1M658 313.5h1M602 316.5h1M647 316.5h1M669 316.5h1M610 317.5h1M615 317.5h1M641 317.5h1M642 317.5h1M613 318.5h2M643 318.5h1M647 318.5h1M649 318.5h2M603 321.5h2M610 321.5h1M642 321.5h1M651 321.5h1M652 321.5h1M654 321.5h2M602 322.5h1M654 322.5h2M631 323.5h1M636 323.5h1M652 323.5h1M653 323.5h1M620 326.5h1M630 326.5h1M596 327.5h1M597 327.5h2M622 327.5h1M637 327.5h1M597 328.5h2M615 328.5h1M617 328.5h1M632 328.5h1M647 328.5h1M597 331.5h2M606 331.5h1M611 331.5h1M621 331.5h1M597 332.5h2M601 332.5h1M613 332.5h2M618 332.5h2M637 332.5h1M596 333.5h1M621 333.5h1M600 336.5h1M601 336.5h1M602 336.5h1M600 337.5h1M596 338.5h1M602 338.5h1M603 338.5h2M612 338.5h1M597 341.5h2M606 341.5h1M607 341.5h1M603 343.5h2"/><path stroke="#385cb0" d="M690 282.5h2M695 285.5h1M699 285.5h1M684 287.5h1M690 287.5h2M692 287.5h1M693 287.5h1M701 287.5h2M672 290.5h1M684 290.5h1M687 290.5h1M688 290.5h1M673 291.5h1M677 291.5h1M678 291.5h1M683 291.5h1M687 291.5h1M684 292.5h1M679 295.5h1M654 296.5h2M677 296.5h1M679 296.5h1M653 297.5h1M656 297.5h1M677 297.5h1M673 300.5h1M677 300.5h1M673 301.5h1M677 301.5h1M682 301.5h1M646 302.5h1M669 302.5h1M672 302.5h1M678 302.5h1M639 305.5h2M664 305.5h1M669 305.5h1M665 306.5h2M628 307.5h2M632 307.5h1M634 307.5h2M628 310.5h2M654 310.5h2M656 310.5h1M627 312.5h1M663 312.5h1M617 313.5h1M621 313.5h1M622 313.5h1M623 313.5h2M651 313.5h1M652 313.5h1M656 313.5h1M620 316.5h1M642 316.5h1M644 316.5h2M651 316.5h1M634 321.5h2M628 322.5h2M607 323.5h1M627 323.5h1M633 323.5h1M600 326.5h1M601 326.5h1M617 326.5h1M618 326.5h2M631 326.5h1M603 327.5h2M630 327.5h1M602 328.5h1M612 328.5h1M596 331.5h1M599 331.5h1M601 331.5h1M602 331.5h1M607 331.5h1M612 331.5h1M602 332.5h1M603 332.5h2M611 332.5h1M600 333.5h1M601 333.5h1M606 333.5h1M610 333.5h1M611 333.5h1M595 336.5h1M596 336.5h1M605 336.5h1M606 337.5h1M605 338.5h1"/><path stroke="#3485ba" d="M689 285.5h1M689 286.5h1M687 287.5h1M679 290.5h1M680 290.5h2M682 290.5h1M672 291.5h1M674 291.5h1M680 291.5h2M688 291.5h1M673 292.5h1M674 292.5h1M678 292.5h1M680 292.5h2M664 295.5h1M665 295.5h2M669 295.5h1M670 295.5h2M662 296.5h1M663 296.5h1M658 297.5h1M659 297.5h2M653 300.5h1M648 301.5h1M649 301.5h2M667 302.5h1M642 305.5h1M659 306.5h2M663 306.5h1M637 307.5h1M657 307.5h1M659 307.5h2M631 310.5h1M653 310.5h1M628 311.5h2M630 311.5h1M654 311.5h2M628 312.5h2M649 312.5h2M652 312.5h1M625 313.5h1M646 313.5h1M639 316.5h2M617 317.5h1M637 318.5h1M612 321.5h1M630 321.5h1M631 321.5h1M632 321.5h1M633 321.5h1M627 322.5h1M632 322.5h1M602 326.5h1M603 326.5h2M606 326.5h1M607 326.5h1M611 326.5h1M613 326.5h2M615 326.5h1M601 327.5h1M605 327.5h1M610 327.5h1M611 327.5h1M615 327.5h1M601 328.5h1M603 328.5h2M606 328.5h1M607 328.5h1M610 328.5h1M611 328.5h1M608 333.5h2M608 336.5h2"/><path stroke="#3ca08c" d="M679 291.5h1M682 292.5h1M672 295.5h1M674 295.5h1M675 295.5h2M664 296.5h1M665 296.5h2M668 296.5h1M669 296.5h1M670 296.5h2M672 296.5h1M673 296.5h1M675 296.5h2M661 297.5h1M673 297.5h1M674 297.5h1M656 300.5h1M669 300.5h1M651 301.5h1M652 301.5h1M653 301.5h1M669 301.5h1M647 302.5h1M648 302.5h1M665 302.5h2M661 305.5h1M662 305.5h1M639 306.5h2M641 306.5h1M658 306.5h1M638 307.5h1M658 307.5h1M632 310.5h1M651 310.5h1M631 311.5h1M649 311.5h2M651 311.5h1M630 312.5h1M647 312.5h1M644 313.5h2M647 313.5h1M621 316.5h1M622 316.5h1M620 317.5h1M621 317.5h1M633 317.5h1M636 317.5h1M637 317.5h1M618 318.5h2M620 318.5h1M633 318.5h1M634 318.5h2M636 318.5h1M611 321.5h1M613 321.5h2M617 321.5h1M627 321.5h1M612 322.5h1M613 322.5h2M615 322.5h1M626 322.5h1M610 323.5h1M611 323.5h1M612 323.5h1M613 323.5h2M621 323.5h1M622 323.5h1M623 323.5h2M608 326.5h2M610 326.5h1M612 326.5h1M616 326.5h1M602 327.5h1M606 327.5h1M607 327.5h1"/><path stroke="#5ab252" d="M673 295.5h1M667 296.5h1M674 296.5h1M662 297.5h1M663 297.5h1M664 297.5h1M665 297.5h2M667 297.5h1M672 297.5h1M663 300.5h1M665 300.5h2M654 301.5h2M656 301.5h1M667 301.5h1M668 301.5h1M649 302.5h2M651 302.5h1M652 302.5h1M663 302.5h1M664 302.5h1M644 305.5h2M646 305.5h1M659 305.5h2M642 306.5h1M653 306.5h1M657 306.5h1M639 307.5h2M653 307.5h1M654 307.5h2M656 307.5h1M633 310.5h1M632 311.5h1M647 311.5h1M648 311.5h1M644 312.5h2M646 312.5h1M626 313.5h1M627 313.5h1M628 313.5h2M641 313.5h1M642 313.5h1M634 316.5h2M636 316.5h1M637 316.5h1M638 316.5h1M621 318.5h1M622 318.5h1M631 318.5h1M632 318.5h1M620 321.5h1M625 321.5h1M626 321.5h1M611 322.5h1M618 322.5h2M620 322.5h1M621 322.5h1M622 322.5h1M623 322.5h2M615 323.5h1M616 323.5h1M617 323.5h1M608 327.5h2"/><path stroke="#94c83f" d="M668 297.5h1M669 297.5h1M658 300.5h1M659 300.5h2M664 300.5h1M667 300.5h1M668 300.5h1M663 301.5h1M664 301.5h1M665 301.5h2M653 302.5h1M654 302.5h2M658 305.5h1M643 306.5h1M656 306.5h1M641 307.5h1M652 307.5h1M634 310.5h2M649 310.5h2M633 311.5h1M644 311.5h2M631 312.5h1M641 312.5h1M642 312.5h1M630 313.5h1M631 313.5h1M623 316.5h2M626 316.5h1M633 316.5h1M622 317.5h1M623 317.5h2M626 317.5h1M630 317.5h1M631 317.5h1M632 317.5h1M625 318.5h1M628 318.5h2M630 318.5h1M616 321.5h1M618 321.5h2M621 321.5h1M622 321.5h1M623 321.5h2M616 322.5h1M617 322.5h1M618 323.5h2M620 323.5h1"/><path stroke="#f0e137" d="M661 300.5h1M662 300.5h1M657 301.5h1M658 301.5h1M661 301.5h1M656 302.5h1M657 302.5h1M659 302.5h2M661 302.5h1M662 302.5h1M647 305.5h1M649 305.5h2M652 305.5h1M653 305.5h1M657 305.5h1M652 306.5h1M654 306.5h2M642 307.5h1M651 307.5h1M636 310.5h1M637 310.5h1M648 310.5h1M634 311.5h2M636 311.5h1M641 311.5h1M642 311.5h1M643 311.5h1M632 312.5h1M643 312.5h1M639 313.5h2M625 316.5h1M628 316.5h2M630 316.5h1M631 316.5h1M628 317.5h2M623 318.5h2M626 318.5h1M627 318.5h1"/><path stroke="#f4ab29" d="M659 301.5h2M658 302.5h1M651 305.5h1M654 305.5h2M656 305.5h1M646 306.5h1M643 307.5h1M639 310.5h2M641 310.5h1M642 310.5h1M643 310.5h1M644 310.5h2M646 310.5h1M647 310.5h1M646 311.5h1M633 312.5h1M634 312.5h2M632 313.5h1M633 313.5h1M627 316.5h1M632 316.5h1M625 317.5h1M627 317.5h1"/><path stroke="#ef7020" d="M648 305.5h1M647 306.5h1M648 306.5h1M651 306.5h1M644 307.5h2M647 307.5h1M649 307.5h2M638 310.5h1M638 311.5h1M639 311.5h2M636 312.5h1M638 312.5h1M639 312.5h2M634 313.5h2M636 313.5h1M638 313.5h1"/><path stroke="#e4321c" d="M649 306.5h2M646 307.5h1M648 307.5h1M637 311.5h1M637 312.5h1M637 313.5h1"/></g>
<g stroke-width="2" fill="none"><path stroke="#384698" d="M638 299h1M663 309h1M679 309h1M659 315h2M638 320h1M625 335h1M602 346h1"/><path stroke="#3851a4" d="M711 268h2M708 278h1M685 284h2M693 284h1M699 284h1M670 289h2M695 289h1M698 289h1M705 289h1M659 294h2M661 294h1M693 294h1M699 294h1M646 299h1M680 299h2M683 299h1M667 309h1M616 315h1M618 315h2M657 315h1M607 320h1M610 320h1M612 320h1M642 320h1M602 325h1M626 325h1M634 325h2M599 330h1M601 330h1M621 330h1M615 335h1M617 335h1M634 335h2M596 340h1M603 340h2M605 340h1M607 340h1M608 340h2"/><path stroke="#385cb0" d="M689 284h1M678 289h1M679 289h1M680 289h2M685 289h2M689 289h1M692 289h1M694 289h1M701 289h2M675 294h2M677 294h1M682 294h1M653 299h1M675 299h2M677 299h1M679 299h1M642 304h1M669 304h1M626 309h1M627 309h1M658 309h1M644 315h2M649 315h2M652 315h1M611 320h1M613 320h2M621 325h1M623 325h2M630 325h1M603 330h2M607 330h1M608 330h2M610 330h1M613 330h2M617 330h1M600 335h1M603 335h2M605 335h1M606 335h1M608 335h2M611 335h1M612 335h1M620 335h1"/><path stroke="#3485ba" d="M668 294h1M670 294h2M673 294h1M678 294h1M679 294h1M654 299h2M673 299h1M674 299h1M644 304h2M665 304h2M668 304h1M631 309h1M656 309h1M643 315h1M647 315h1M648 315h1M651 315h1M615 320h1M631 320h1M603 325h2M606 325h1M608 325h2M610 325h1M618 325h2"/><path stroke="#3ca08c" d="M672 294h1M674 294h1M670 299h2M672 299h1M646 304h1M664 304h1M653 309h1M654 309h2M622 315h1M623 315h2M642 315h1M616 320h1M632 320h1M633 320h1M611 325h1M615 325h1M617 325h1M606 330h1"/><path stroke="#5ab252" d="M658 299h1M661 299h1M669 299h1M659 304h2M662 304h1M663 304h1M636 309h1M637 309h1M652 309h1M625 315h1M626 315h1M617 320h1M618 320h2M621 320h1M622 320h1M626 320h1M628 320h2M630 320h1M612 325h1M616 325h1"/><path stroke="#94c83f" d="M659 299h2M662 299h1M663 299h1M664 299h1M668 299h1M647 304h1M648 304h1M649 304h2M661 304h1M639 309h2M627 315h1M628 315h2M638 315h1M620 320h1M625 320h1M627 320h1"/><path stroke="#f0e137" d="M665 299h2M667 299h1M651 304h1M652 304h1M653 304h1M657 304h1M658 304h1M638 309h1M642 309h1M651 309h1M630 315h1M631 315h1M634 315h2M636 315h1M637 315h1M623 320h2"/><path stroke="#f4ab29" d="M654 304h2M656 304h1M641 309h1M643 309h1M649 309h2M632 315h1M633 315h1"/><path stroke="#ef7020" d="M647 309h1M648 309h1"/><path stroke="#e4321c" d="M644 309h2M646 309h1"/></g>
<rect x="573.3" y="229.3" width="150" height="99" fill="#fff" opacity="0.8"/>
<rect x="514.2" y="88.8" width="317.3" height="317.3" fill="none" stroke="#4d4d4d" stroke-width="1.25"/>
<path d="M505.2 405.1H514.2M505.2 329.8H514.2M505.2 254.5H514.2M505.2 179.2H514.2M505.2 103.9H514.2" stroke="#000" stroke-width="2.8" fill="none"/>
<path d="M510.2 386.3H514.2M510.2 367.5H514.2M510.2 348.6H514.2M510.2 311H514.2M510.2 292.2H514.2M510.2 273.3H514.2M510.2 235.7H514.2M510.2 216.9H514.2M510.2 198H514.2M510.2 160.4H514.2M510.2 141.6H514.2M510.2 122.7H514.2" stroke="#000" stroke-width="1.5" fill="none"/>
<text class="t" x="496.2" y="334.1" text-anchor="end" textLength="22.4" lengthAdjust="spacingAndGlyphs">1.0M</text>
<text class="t" x="496.2" y="258.8" text-anchor="end" textLength="22.4" lengthAdjust="spacingAndGlyphs">2.0M</text>
<text class="t" x="496.2" y="183.5" text-anchor="end" textLength="22.4" lengthAdjust="spacingAndGlyphs">3.0M</text>
<text class="t" x="496.2" y="108.2" text-anchor="end" textLength="22.4" lengthAdjust="spacingAndGlyphs">4.0M</text>
<text class="t" x="499.2" y="403.8" text-anchor="end">0</text>
<path d="M514.9 406.1V414.8M589.9 406.1V414.8M664.9 406.1V414.8M739.9 406.1V414.8M814.9 406.1V414.8" stroke="#000" stroke-width="2.8" fill="none"/>
<path d="M533.7 406.1V410.1M552.4 406.1V410.1M571.2 406.1V410.1M608.7 406.1V410.1M627.4 406.1V410.1M646.2 406.1V410.1M683.7 406.1V410.1M702.4 406.1V410.1M721.2 406.1V410.1M758.7 406.1V410.1M777.4 406.1V410.1M796.2 406.1V410.1" stroke="#000" stroke-width="1.5" fill="none"/>
<text class="t" x="588.2" y="428" text-anchor="middle" textLength="22.4" lengthAdjust="spacingAndGlyphs">1.0M</text>
<text class="t" x="663.2" y="428" text-anchor="middle" textLength="22.4" lengthAdjust="spacingAndGlyphs">2.0M</text>
<text class="t" x="738.2" y="428" text-anchor="middle" textLength="22.4" lengthAdjust="spacingAndGlyphs">3.0M</text>
<text class="t" x="813.2" y="428" text-anchor="middle" textLength="22.4" lengthAdjust="spacingAndGlyphs">4.0M</text>
<text class="t" x="516" y="428" text-anchor="middle">0</text>
<polygon points="571.8,261.4 674.4,222 729.8,279.1 589.5,334.5" fill="none" stroke="#000" stroke-width="2.1" stroke-linejoin="miter"/>
<text x="574.36" y="268.1" class="g" textLength="140.03" lengthAdjust="spacingAndGlyphs">Single Cells</text>
<text x="620.18" y="306.8" class="g" textLength="53.17" lengthAdjust="spacingAndGlyphs">67.2</text>
<text x="638.12" y="467.3" class="a" textLength="54.91" lengthAdjust="spacingAndGlyphs">FSC-A</text>
<text class="v" transform="translate(449.2 280.9) rotate(-90)" textLength="56.29" lengthAdjust="spacingAndGlyphs">FSC-H</text>
<g stroke-width="1" fill="none"><path stroke="#384698" d="M1054 301.5h1M1040 306.5h2M1050 311.5h2M1032 312.5h1M1050 312.5h2M1035 313.5h2M1037 313.5h1M1033 316.5h1M1044 316.5h1M1038 317.5h1M1035 318.5h2M1042 318.5h1M1043 318.5h1M1028 321.5h1M1032 321.5h1M1039 321.5h1M1019 322.5h2M1027 322.5h1M1027 323.5h1M1029 323.5h2M1034 323.5h1M1024 326.5h2M1029 326.5h2M1035 326.5h2M1026 327.5h1M1027 327.5h1M1029 327.5h2M1033 327.5h1M1016 331.5h1M1021 331.5h1M1023 331.5h1M1024 331.5h2M1026 331.5h1M1027 331.5h1M1028 331.5h1M1021 332.5h1M1013 333.5h1M1014 333.5h2M1019 333.5h2M1022 333.5h1M1024 333.5h2M1014 336.5h2M1022 336.5h1M1023 337.5h1M1011 338.5h1M1013 338.5h1M1016 338.5h1M1019 338.5h2M1008 341.5h1M1001 342.5h1M1004 342.5h2M1009 342.5h2M1016 342.5h1M1008 343.5h1M1011 344.5h1M991 352.5h1M987 354.5h1M988 354.5h2M996 358.5h1M972 367.5h1M973 367.5h2M976 369.5h1M966 373.5h1M962 375.5h2M965 375.5h1M966 375.5h1M967 375.5h2M964 378.5h1M957 380.5h2M959 380.5h1M959 383.5h1"/><path stroke="#3851a4" d="M1053 297.5h1M1038 306.5h1M1054 310.5h1M1040 313.5h2M1047 313.5h1M1038 316.5h1M1033 318.5h1M1038 318.5h1M1034 322.5h1M1028 323.5h1M1026 326.5h1M1033 326.5h1M1024 327.5h2M1031 327.5h1M1032 327.5h1M1035 327.5h2M1019 328.5h2M1027 328.5h1M1028 328.5h1M1031 328.5h1M1018 332.5h1M1019 332.5h2M1022 332.5h1M1024 332.5h2M1018 333.5h1M1021 333.5h1M1014 337.5h2M1016 337.5h1M1018 337.5h1M1019 337.5h2M1012 338.5h1M1014 338.5h2M1007 341.5h1M1012 341.5h1M1017 341.5h1M1002 342.5h1M1007 342.5h1M1012 342.5h1M1009 343.5h2M1002 344.5h1M1007 344.5h1M997 347.5h1M997 348.5h1M1001 353.5h1M1000 354.5h1M978 362.5h2M990 362.5h1M976 363.5h1M980 363.5h1M973 364.5h2M975 364.5h1M977 364.5h1M975 367.5h1M972 368.5h1M975 369.5h1M977 369.5h1M970 372.5h1M971 372.5h1M972 372.5h1M970 373.5h1M972 373.5h1M967 374.5h2M969 374.5h1M970 374.5h1M969 375.5h1M965 378.5h1"/><path stroke="#385cb0" d="M1033 310.5h1M1039 316.5h1M1040 316.5h2M1022 317.5h1M1031 317.5h1M1034 318.5h1M1028 327.5h1M1023 328.5h1M1024 328.5h2M1032 331.5h1M1017 336.5h1M1019 336.5h2M1013 337.5h1M1017 337.5h1M1017 338.5h1M1009 341.5h2M1013 341.5h1M1014 341.5h2M1006 342.5h1M1011 342.5h1M1014 342.5h2M1006 343.5h1M1007 343.5h1M1011 343.5h1M1012 343.5h1M1003 344.5h1M1008 344.5h1M1009 344.5h2M1012 344.5h1M1008 347.5h1M1006 348.5h1M995 349.5h1M1004 349.5h2M992 352.5h1M1000 353.5h1M990 354.5h1M982 359.5h1M995 359.5h1M978 363.5h2M976 367.5h1M982 367.5h1M985 367.5h1M973 368.5h2M980 368.5h1M980 369.5h1M969 372.5h1M975 372.5h1M976 372.5h1M971 373.5h1M966 374.5h1M971 374.5h1M973 374.5h2M964 375.5h1"/><path stroke="#3485ba" d="M1016 336.5h1M1011 341.5h1M1008 342.5h1M1013 342.5h1M1004 344.5h2M1006 344.5h1M1006 347.5h1M998 348.5h2M1004 348.5h2M996 349.5h1M1003 349.5h1M993 352.5h2M1001 352.5h1M998 354.5h2M986 357.5h1M996 357.5h1M995 358.5h1M992 359.5h1M980 362.5h1M975 368.5h1M976 368.5h1M972 369.5h1M973 372.5h2"/><path stroke="#3ca08c" d="M1000 347.5h1M1001 347.5h1M1002 347.5h1M1007 347.5h1M997 349.5h1M1000 349.5h1M1002 349.5h1M991 354.5h1M987 357.5h1M995 357.5h1M985 358.5h1M986 358.5h1M993 358.5h2M983 359.5h2M981 362.5h1M988 362.5h2M981 363.5h1M987 363.5h1M978 364.5h2M977 367.5h1M980 367.5h1M981 367.5h1M977 368.5h1M978 368.5h2M973 369.5h2"/><path stroke="#5ab252" d="M1003 347.5h1M1004 347.5h2M1001 348.5h1M1003 348.5h1M998 349.5h2M1001 349.5h1M1000 352.5h1M992 353.5h1M993 353.5h2M993 357.5h2M986 363.5h1M980 364.5h1M985 364.5h1M978 367.5h2"/><path stroke="#94c83f" d="M1000 348.5h1M995 352.5h1M998 353.5h2M992 354.5h1M996 354.5h1M997 354.5h1M990 359.5h1M991 359.5h1M982 362.5h1M981 364.5h1"/><path stroke="#f0e137" d="M1002 348.5h1M997 352.5h1M998 352.5h2M995 353.5h1M997 353.5h1M990 357.5h1M992 357.5h1M991 358.5h1M985 359.5h1M986 359.5h1M987 362.5h1M982 364.5h1M983 364.5h2"/><path stroke="#f4ab29" d="M996 352.5h1M995 354.5h1M988 357.5h2M987 358.5h1M988 358.5h2M990 358.5h1M992 358.5h1M988 359.5h2M983 362.5h2M986 362.5h1M982 363.5h1M985 363.5h1"/><path stroke="#ef7020" d="M996 353.5h1M987 359.5h1M983 363.5h2"/><path stroke="#e4321c" d="M993 354.5h2M991 357.5h1M985 362.5h1"/></g>
<g stroke-width="2" fill="none"><path stroke="#384698" d="M1039 315h1M1047 315h1M1048 315h1M1049 315h1M1029 320h2M1032 320h1M1034 320h1M1038 320h1M1009 325h2M1022 325h1M1024 325h2M1029 325h2M1033 325h1M1035 325h2M1023 330h1M1028 330h1M1031 330h1M1014 335h2M1021 335h1M1023 335h1M1024 335h2M1027 335h1M1011 340h1M1017 340h1M998 356h2M980 361h1M972 366h1M985 366h1M987 366h1M982 371h1M965 377h1M966 377h1M967 377h2M969 377h1M960 382h1"/><path stroke="#3851a4" d="M1023 315h1M1038 315h1M1027 320h1M1027 325h1M1031 325h1M1034 325h1M1024 330h2M1027 330h1M1029 330h2M1019 335h2M1009 340h2M1018 340h1M1000 346h1M1009 346h2M993 351h2M986 356h1M978 361h2M981 361h1M975 366h1M976 371h1M962 382h2"/><path stroke="#385cb0" d="M1039 320h1M1026 330h1M1032 330h1M1016 335h1M1018 335h1M1022 335h1M1007 340h1M1012 340h1M1013 340h1M1014 340h2M998 346h2M1002 346h1M1008 346h1M982 361h1M991 361h1M976 366h1M986 366h1M970 371h1M971 371h1M972 371h1M964 377h1"/><path stroke="#3485ba" d="M1016 340h1M1003 346h1M1004 346h2M1006 346h1M1003 351h1M997 356h1M978 366h2M983 366h2M973 371h2M975 371h1"/><path stroke="#3ca08c" d="M1001 346h1M1007 346h1M995 351h1M996 351h1M988 356h2"/><path stroke="#5ab252" d="M1001 351h1M1002 351h1M990 356h1M996 356h1M983 361h2M977 366h1M980 366h1M981 366h1M982 366h1"/><path stroke="#94c83f" d="M997 351h1M988 361h2M990 361h1"/><path stroke="#f0e137" d="M998 351h2M1000 351h1M991 356h1"/><path stroke="#f4ab29" d="M992 356h1M995 356h1M987 361h1"/><path stroke="#ef7020" d="M993 356h2"/><path stroke="#e4321c" d="M985 361h1M986 361h1"/></g>
<rect x="968.4" y="244.6" width="149.7" height="98.1" fill="#fff" opacity="0.8"/>
<rect x="933.8" y="88.8" width="317.7" height="317.3" fill="none" stroke="#4d4d4d" stroke-width="1.25"/>
<path d="M924.8 405.1H933.8M924.8 329.8H933.8M924.8 254.5H933.8M924.8 179.2H933.8M924.8 103.9H933.8" stroke="#000" stroke-width="2.8" fill="none"/>
<path d="M929.8 386.3H933.8M929.8 367.5H933.8M929.8 348.6H933.8M929.8 311H933.8M929.8 292.2H933.8M929.8 273.3H933.8M929.8 235.7H933.8M929.8 216.9H933.8M929.8 198H933.8M929.8 160.4H933.8M929.8 141.6H933.8M929.8 122.7H933.8" stroke="#000" stroke-width="1.5" fill="none"/>
<text class="t" x="915.8" y="334.1" text-anchor="end" textLength="22.4" lengthAdjust="spacingAndGlyphs">1.0M</text>
<text class="t" x="915.8" y="258.8" text-anchor="end" textLength="22.4" lengthAdjust="spacingAndGlyphs">2.0M</text>
<text class="t" x="915.8" y="183.5" text-anchor="end" textLength="22.4" lengthAdjust="spacingAndGlyphs">3.0M</text>
<text class="t" x="915.8" y="108.2" text-anchor="end" textLength="22.4" lengthAdjust="spacingAndGlyphs">4.0M</text>
<text class="t" x="918.8" y="403.8" text-anchor="end">0</text>
<path d="M934.5 406.1V414.8M1009.5 406.1V414.8M1084.5 406.1V414.8M1159.5 406.1V414.8M1234.5 406.1V414.8" stroke="#000" stroke-width="2.8" fill="none"/>
<path d="M953.2 406.1V410.1M972 406.1V410.1M990.8 406.1V410.1M1028.2 406.1V410.1M1047 406.1V410.1M1065.8 406.1V410.1M1103.2 406.1V410.1M1122 406.1V410.1M1140.8 406.1V410.1M1178.2 406.1V410.1M1197 406.1V410.1M1215.8 406.1V410.1" stroke="#000" stroke-width="1.5" fill="none"/>
<text class="t" x="1007.8" y="428" text-anchor="middle" textLength="22.4" lengthAdjust="spacingAndGlyphs">1.0M</text>
<text class="t" x="1082.8" y="428" text-anchor="middle" textLength="22.4" lengthAdjust="spacingAndGlyphs">2.0M</text>
<text class="t" x="1157.8" y="428" text-anchor="middle" textLength="22.4" lengthAdjust="spacingAndGlyphs">3.0M</text>
<text class="t" x="1232.8" y="428" text-anchor="middle" textLength="22.4" lengthAdjust="spacingAndGlyphs">4.0M</text>
<text class="t" x="935.6" y="428" text-anchor="middle">0</text>
<polygon points="942.3,288.8 1038.4,206.2 1149.8,254.3 961.3,381.1" fill="none" stroke="#000" stroke-width="2.1" stroke-linejoin="miter"/>
<text x="969.45" y="283.4" class="g" textLength="140.34" lengthAdjust="spacingAndGlyphs">Single Cells</text>
<text x="1015.66" y="321.5" class="g" textLength="52.88" lengthAdjust="spacingAndGlyphs">95.3</text>
<text x="1056.72" y="467.3" class="a" textLength="54.98" lengthAdjust="spacingAndGlyphs">SSC-A</text>
<text class="v" transform="translate(869.8 281.7) rotate(-90)" textLength="57.07" lengthAdjust="spacingAndGlyphs">SSC-H</text>
<g stroke-width="1" fill="none"><path stroke="#384698" d="M1520 248.5h1M1486 251.5h2M1498 256.5h1M1491 264.5h2M1501 264.5h2M1506 265.5h2M1522 265.5h2M1473 266.5h1M1480 266.5h2M1462 269.5h1M1506 269.5h2M1505 270.5h1M1509 270.5h1M1470 274.5h2M1520 274.5h1M1460 275.5h2M1464 275.5h1M1510 275.5h1M1516 275.5h1M1498 279.5h1M1499 279.5h1M1504 279.5h1M1498 281.5h1M1499 281.5h1M1464 282.5h1M1490 282.5h1M1501 282.5h2M1460 285.5h2M1468 287.5h1M1515 287.5h1M1460 290.5h2M1468 290.5h1M1509 290.5h1M1457 292.5h1M1459 292.5h1M1501 292.5h2M1509 292.5h1M1453 296.5h1M1469 296.5h1M1498 296.5h1M1464 300.5h1M1505 301.5h1M1455 302.5h2M1465 302.5h2M1442 305.5h1M1500 305.5h1M1503 305.5h1M1455 306.5h2M1509 307.5h1M1500 310.5h1M1498 311.5h1M1500 311.5h1M1501 311.5h2M1496 313.5h2M1494 316.5h1M1500 316.5h1M1468 318.5h1M1493 318.5h1M1488 321.5h1M1505 321.5h1M1460 322.5h2M1465 323.5h2M1464 326.5h1M1488 326.5h1M1500 327.5h1M1501 327.5h2M1463 328.5h1M1491 328.5h2M1468 333.5h1M1482 333.5h1M1488 333.5h1M1499 333.5h1M1479 336.5h1M1489 336.5h1M1489 337.5h1M1494 337.5h1M1498 338.5h1M1482 342.5h1M1494 343.5h1M1459 344.5h1M1495 347.5h1M1498 348.5h1M1475 352.5h2M1478 353.5h1M1482 358.5h1M1462 362.5h1"/><path stroke="#3851a4" d="M1529 250.5h1M1478 264.5h1M1468 265.5h1M1477 265.5h1M1485 265.5h1M1470 266.5h2M1472 269.5h1M1500 270.5h1M1511 270.5h2M1473 271.5h1M1503 271.5h1M1511 271.5h2M1517 271.5h2M1503 274.5h1M1510 274.5h1M1479 275.5h1M1473 276.5h1M1474 276.5h1M1478 276.5h1M1498 276.5h1M1511 276.5h2M1472 279.5h1M1468 280.5h1M1473 280.5h1M1508 280.5h1M1486 281.5h2M1494 282.5h1M1490 285.5h1M1455 286.5h2M1464 286.5h1M1500 286.5h1M1459 287.5h1M1498 287.5h1M1501 287.5h2M1458 290.5h1M1465 290.5h2M1509 291.5h1M1464 292.5h1M1493 292.5h1M1503 292.5h1M1505 292.5h1M1468 295.5h1M1470 295.5h2M1486 295.5h2M1503 295.5h1M1468 296.5h1M1503 296.5h1M1501 300.5h2M1508 300.5h1M1503 301.5h1M1467 302.5h1M1498 302.5h1M1504 302.5h1M1496 305.5h2M1491 306.5h2M1499 306.5h1M1462 307.5h1M1493 307.5h1M1498 307.5h1M1465 310.5h2M1467 310.5h1M1504 311.5h1M1468 312.5h1M1493 312.5h1M1460 313.5h2M1467 313.5h1M1469 313.5h1M1470 316.5h2M1489 317.5h1M1491 317.5h2M1495 317.5h1M1504 317.5h1M1515 317.5h1M1459 318.5h1M1494 318.5h1M1490 321.5h1M1473 322.5h1M1488 322.5h1M1491 323.5h2M1496 323.5h2M1505 323.5h1M1473 326.5h1M1467 327.5h1M1470 327.5h2M1485 328.5h1M1477 331.5h1M1479 331.5h1M1491 331.5h2M1475 332.5h2M1485 332.5h1M1489 333.5h1M1493 333.5h1M1494 336.5h1M1472 337.5h1M1479 337.5h1M1483 337.5h1M1472 338.5h1M1475 338.5h2M1489 338.5h1M1467 341.5h1M1489 341.5h1M1484 347.5h1M1478 364.5h1"/><path stroke="#385cb0" d="M1494 254.5h1M1503 261.5h1M1475 264.5h2M1480 264.5h2M1488 264.5h1M1490 264.5h1M1488 265.5h1M1498 265.5h1M1477 266.5h1M1483 266.5h1M1484 266.5h1M1504 266.5h1M1479 269.5h1M1499 269.5h1M1500 269.5h1M1508 269.5h1M1469 270.5h1M1506 270.5h2M1516 270.5h1M1506 271.5h2M1468 274.5h1M1478 274.5h1M1488 274.5h1M1495 274.5h1M1478 275.5h1M1491 275.5h2M1506 275.5h2M1463 276.5h1M1479 276.5h1M1515 279.5h1M1491 280.5h2M1515 280.5h1M1485 281.5h1M1515 281.5h1M1465 282.5h2M1470 282.5h2M1454 285.5h1M1506 285.5h2M1452 286.5h1M1494 287.5h1M1468 291.5h1M1491 291.5h2M1500 291.5h1M1470 292.5h2M1462 295.5h1M1464 295.5h1M1473 295.5h1M1465 296.5h2M1486 296.5h2M1493 296.5h1M1460 297.5h2M1489 297.5h1M1465 300.5h2M1470 300.5h2M1494 300.5h1M1503 300.5h1M1467 301.5h1M1489 301.5h1M1493 302.5h1M1494 302.5h1M1490 305.5h1M1495 305.5h1M1501 305.5h2M1515 305.5h1M1465 306.5h2M1504 306.5h1M1486 307.5h2M1494 307.5h1M1464 310.5h1M1469 310.5h1M1494 310.5h1M1488 311.5h1M1495 311.5h1M1469 312.5h1M1463 313.5h1M1473 313.5h1M1506 313.5h2M1467 316.5h1M1468 316.5h1M1469 316.5h1M1503 316.5h1M1460 317.5h2M1474 317.5h1M1464 318.5h1M1474 318.5h1M1474 321.5h1M1475 321.5h2M1478 321.5h1M1491 321.5h2M1496 321.5h2M1498 321.5h1M1475 322.5h2M1494 322.5h1M1475 323.5h2M1484 323.5h1M1489 323.5h1M1499 323.5h1M1483 327.5h1M1486 327.5h2M1478 328.5h1M1490 328.5h1M1483 331.5h1M1484 331.5h1M1468 332.5h1M1463 337.5h1M1460 338.5h2M1474 342.5h1M1479 343.5h1"/><path stroke="#3485ba" d="M1473 264.5h1M1504 264.5h1M1478 266.5h1M1486 266.5h2M1491 266.5h2M1501 266.5h2M1511 266.5h2M1467 269.5h1M1509 269.5h1M1517 269.5h2M1482 270.5h1M1491 270.5h2M1477 271.5h1M1478 271.5h1M1479 271.5h1M1499 271.5h1M1500 274.5h1M1517 274.5h2M1467 275.5h1M1469 275.5h1M1488 275.5h1M1494 275.5h1M1503 275.5h1M1508 275.5h1M1485 276.5h1M1470 279.5h2M1473 279.5h1M1489 279.5h1M1494 279.5h1M1469 280.5h1M1494 280.5h1M1498 280.5h1M1501 280.5h2M1505 280.5h1M1470 281.5h2M1474 281.5h1M1484 281.5h1M1493 281.5h1M1494 281.5h1M1465 285.5h2M1469 285.5h1M1488 285.5h1M1474 286.5h1M1472 287.5h1M1473 287.5h1M1469 290.5h1M1510 290.5h1M1467 291.5h1M1486 291.5h2M1489 291.5h1M1499 292.5h1M1463 295.5h1M1465 295.5h2M1494 295.5h1M1496 295.5h2M1498 295.5h1M1467 296.5h1M1499 296.5h1M1473 297.5h1M1496 297.5h2M1469 300.5h1M1491 300.5h2M1499 301.5h1M1468 302.5h1M1491 302.5h2M1472 305.5h1M1493 305.5h1M1467 306.5h1M1468 307.5h1M1460 311.5h2M1468 311.5h1M1463 312.5h1M1470 313.5h2M1489 313.5h1M1491 313.5h2M1473 316.5h1M1475 316.5h2M1489 316.5h1M1490 317.5h1M1485 318.5h1M1499 318.5h1M1494 321.5h1M1501 321.5h2M1468 322.5h1M1478 322.5h1M1480 322.5h2M1493 322.5h1M1493 323.5h1M1498 323.5h1M1463 326.5h1M1477 326.5h1M1482 326.5h1M1483 326.5h1M1496 326.5h2M1478 327.5h1M1496 327.5h2M1455 331.5h2M1493 332.5h1M1482 337.5h1M1474 338.5h1M1477 338.5h1M1485 357.5h1"/><path stroke="#3ca08c" d="M1495 264.5h1M1510 264.5h1M1489 265.5h1M1494 265.5h1M1496 265.5h2M1499 265.5h1M1500 265.5h1M1496 266.5h2M1483 269.5h1M1489 269.5h1M1473 270.5h1M1484 270.5h1M1495 270.5h1M1498 270.5h1M1475 271.5h2M1485 271.5h1M1490 271.5h1M1469 274.5h1M1475 274.5h2M1482 274.5h1M1483 274.5h1M1505 274.5h1M1493 275.5h1M1498 275.5h1M1482 276.5h1M1491 276.5h2M1494 276.5h1M1504 276.5h1M1479 279.5h1M1506 279.5h2M1483 280.5h1M1473 281.5h1M1482 281.5h1M1501 281.5h2M1506 281.5h2M1463 282.5h1M1482 282.5h1M1470 285.5h2M1473 285.5h1M1475 285.5h2M1482 285.5h1M1495 285.5h1M1469 286.5h1M1473 286.5h1M1482 286.5h1M1490 286.5h1M1479 287.5h1M1486 287.5h2M1489 287.5h1M1490 287.5h1M1496 287.5h2M1473 290.5h1M1480 290.5h2M1483 290.5h1M1489 290.5h1M1491 290.5h2M1460 291.5h2M1469 291.5h1M1475 291.5h2M1485 291.5h1M1494 291.5h1M1473 292.5h1M1486 292.5h2M1491 292.5h2M1495 292.5h1M1474 295.5h1M1485 295.5h1M1491 295.5h2M1472 296.5h1M1474 296.5h1M1490 296.5h1M1488 297.5h1M1472 300.5h1M1493 300.5h1M1491 301.5h2M1483 302.5h1M1489 302.5h1M1495 302.5h1M1470 305.5h2M1475 305.5h2M1499 305.5h1M1488 306.5h1M1496 307.5h2M1473 310.5h1M1474 310.5h1M1489 310.5h1M1473 311.5h1M1486 311.5h2M1490 311.5h1M1470 312.5h2M1472 312.5h1M1489 312.5h1M1464 313.5h1M1475 313.5h2M1485 313.5h1M1488 313.5h1M1490 313.5h1M1465 316.5h2M1477 316.5h1M1480 316.5h2M1486 316.5h2M1468 317.5h1M1486 317.5h2M1472 318.5h1M1488 318.5h1M1470 321.5h2M1479 321.5h1M1489 321.5h1M1467 322.5h1M1483 322.5h1M1478 323.5h1M1468 326.5h1M1478 326.5h1M1479 326.5h1M1474 327.5h1M1477 327.5h1M1486 328.5h2M1480 331.5h2M1486 332.5h2M1482 338.5h1"/><path stroke="#5ab252" d="M1493 265.5h1M1490 266.5h1M1494 266.5h1M1475 269.5h2M1486 269.5h2M1491 269.5h2M1496 269.5h2M1475 270.5h2M1486 270.5h2M1494 270.5h1M1483 271.5h1M1484 271.5h1M1489 271.5h1M1493 271.5h1M1486 274.5h2M1494 274.5h1M1498 274.5h1M1499 274.5h1M1506 274.5h2M1480 275.5h2M1484 275.5h1M1496 275.5h2M1504 275.5h1M1477 276.5h1M1490 276.5h1M1493 276.5h1M1505 276.5h1M1475 279.5h2M1485 279.5h1M1495 279.5h1M1477 280.5h1M1480 281.5h2M1473 282.5h1M1474 282.5h1M1475 282.5h2M1478 282.5h1M1477 285.5h1M1484 285.5h1M1475 286.5h2M1479 286.5h1M1480 286.5h2M1491 286.5h2M1474 287.5h1M1475 287.5h2M1483 287.5h1M1484 287.5h1M1482 290.5h1M1486 290.5h2M1488 290.5h1M1493 290.5h1M1470 291.5h2M1482 291.5h1M1483 291.5h1M1484 291.5h1M1488 291.5h1M1484 292.5h1M1488 292.5h1M1484 295.5h1M1489 295.5h1M1485 296.5h1M1474 297.5h1M1484 297.5h1M1490 297.5h1M1491 297.5h2M1473 300.5h1M1474 300.5h1M1482 300.5h1M1472 301.5h1M1474 301.5h1M1482 301.5h1M1485 301.5h1M1486 302.5h2M1468 305.5h1M1473 305.5h1M1474 305.5h1M1477 305.5h1M1484 305.5h1M1486 305.5h2M1488 305.5h1M1470 306.5h2M1473 306.5h1M1486 306.5h2M1490 306.5h1M1470 307.5h2M1474 307.5h1M1488 307.5h1M1474 311.5h1M1473 312.5h1M1477 312.5h1M1486 312.5h2M1472 313.5h1M1474 313.5h1M1479 313.5h1M1479 316.5h1M1482 316.5h1M1484 317.5h1M1480 318.5h2M1483 318.5h1M1468 321.5h1M1483 321.5h1M1484 321.5h1M1479 322.5h1M1491 322.5h2M1475 326.5h2M1484 327.5h1M1475 328.5h2M1482 328.5h1M1484 328.5h1M1489 328.5h1"/><path stroke="#94c83f" d="M1493 266.5h1M1491 271.5h2M1485 274.5h1M1493 274.5h1M1485 275.5h1M1495 275.5h1M1483 276.5h1M1486 276.5h2M1489 276.5h1M1477 279.5h1M1478 279.5h1M1484 279.5h1M1480 280.5h2M1485 280.5h1M1479 281.5h1M1479 285.5h1M1480 285.5h2M1477 286.5h1M1484 286.5h1M1485 286.5h1M1491 287.5h2M1474 292.5h1M1490 292.5h1M1475 295.5h2M1475 296.5h2M1477 296.5h1M1482 296.5h1M1477 297.5h1M1486 297.5h2M1475 300.5h2M1479 301.5h1M1486 301.5h2M1472 302.5h1M1475 302.5h2M1478 302.5h1M1479 305.5h1M1482 305.5h1M1475 306.5h2M1477 306.5h1M1479 306.5h1M1483 306.5h1M1493 306.5h1M1475 307.5h2M1482 310.5h1M1485 310.5h1M1477 311.5h1M1482 311.5h1M1484 311.5h1M1485 311.5h1M1478 312.5h1M1483 313.5h1M1485 316.5h1M1477 317.5h1M1479 317.5h1M1485 317.5h1M1480 321.5h2M1479 323.5h1M1482 323.5h1"/><path stroke="#f0e137" d="M1495 266.5h1M1485 270.5h1M1489 270.5h1M1495 271.5h1M1491 274.5h2M1480 279.5h2M1479 280.5h1M1477 281.5h1M1478 281.5h1M1472 282.5h1M1478 290.5h1M1479 290.5h1M1474 291.5h1M1479 291.5h1M1490 291.5h1M1475 292.5h2M1482 292.5h1M1479 296.5h1M1485 297.5h1M1485 300.5h1M1475 301.5h2M1480 301.5h2M1470 302.5h2M1480 302.5h2M1482 302.5h1M1485 305.5h1M1480 306.5h2M1472 307.5h1M1479 307.5h1M1484 307.5h1M1477 310.5h1M1482 312.5h1M1484 316.5h1M1483 317.5h1"/><path stroke="#f4ab29" d="M1488 269.5h1M1493 269.5h1M1486 271.5h2M1494 271.5h1M1484 276.5h1M1488 276.5h1M1482 280.5h1M1478 285.5h1M1472 286.5h1M1478 286.5h1M1479 292.5h1M1479 295.5h1M1482 295.5h1M1478 297.5h1M1479 297.5h1M1480 297.5h2M1483 300.5h1M1477 301.5h1M1477 302.5h1M1484 302.5h1M1478 305.5h1M1480 305.5h2M1483 310.5h1M1479 311.5h1M1483 311.5h1M1483 312.5h1M1485 312.5h1M1484 313.5h1"/><path stroke="#ef7020" d="M1478 291.5h1M1477 292.5h1M1480 295.5h2M1483 296.5h1M1477 300.5h1M1479 300.5h1M1480 300.5h2M1483 301.5h1M1485 302.5h1M1478 310.5h1M1479 310.5h1M1480 312.5h2"/><path stroke="#e4321c" d="M1478 292.5h1M1477 295.5h1M1478 295.5h1M1478 296.5h1M1480 296.5h2M1482 297.5h1M1484 300.5h1M1480 307.5h2M1482 307.5h1M1483 307.5h1M1475 310.5h2M1480 310.5h2M1479 312.5h1"/></g>
<g stroke-width="2" fill="none"><path stroke="#384698" d="M1469 263h1M1485 263h1M1489 263h1M1501 268h2M1496 284h2M1509 284h1M1449 289h2M1510 289h1M1499 294h1M1503 294h1M1513 299h1M1505 304h1M1449 309h2M1467 309h1M1489 309h1M1504 309h1M1469 315h1M1493 315h1M1465 320h2M1467 320h1M1495 320h1M1500 320h1M1467 330h1M1474 330h1M1479 330h1M1496 330h2M1477 340h1M1469 351h1"/><path stroke="#3851a4" d="M1495 253h1M1479 258h1M1464 263h1M1490 263h1M1475 268h2M1480 268h2M1516 268h1M1513 273h1M1520 273h1M1463 278h1M1488 278h1M1496 278h2M1508 278h1M1488 284h1M1504 284h1M1508 284h1M1494 294h1M1504 299h1M1463 309h1M1511 309h2M1467 315h1M1499 315h1M1467 325h1M1470 325h2M1477 325h1M1500 325h1M1472 335h1M1483 340h1M1493 340h1M1482 351h1M1486 351h2M1489 351h1"/><path stroke="#385cb0" d="M1504 247h1M1470 263h2M1494 263h1M1509 268h1M1511 268h2M1519 268h1M1463 273h1M1473 273h1M1515 273h1M1478 278h1M1505 278h1M1482 284h1M1495 284h1M1473 289h1M1477 289h1M1448 294h1M1452 294h1M1468 294h1M1498 294h1M1468 299h1M1459 309h1M1460 309h2M1470 309h2M1490 309h1M1463 315h1M1470 320h2M1478 320h1M1489 320h1M1516 320h1M1488 325h1M1485 335h1M1455 340h2M1475 340h2M1499 351h1M1490 361h1"/><path stroke="#3485ba" d="M1482 263h1M1478 268h1M1474 273h1M1498 273h1M1499 273h1M1503 273h1M1470 278h2M1494 278h1M1499 278h1M1500 278h1M1475 284h2M1488 289h1M1496 289h2M1499 289h1M1463 294h1M1474 294h1M1499 299h1M1488 304h1M1493 304h1M1465 309h2M1486 309h2M1488 309h1M1491 309h2M1494 309h1M1486 315h2M1489 315h1M1475 320h2M1486 320h2M1479 325h1M1489 325h1M1495 325h1M1477 330h1M1484 330h1M1485 330h1M1486 340h2M1500 340h1"/><path stroke="#3ca08c" d="M1495 263h1M1473 268h1M1482 268h1M1494 268h1M1478 273h1M1483 273h1M1485 273h1M1486 273h2M1489 273h1M1504 273h1M1474 278h1M1477 278h1M1493 278h1M1469 284h1M1472 284h1M1477 284h1M1480 284h2M1483 284h1M1484 284h1M1485 284h1M1470 289h2M1484 289h1M1485 289h1M1489 289h1M1493 289h1M1494 289h1M1469 294h1M1484 294h1M1493 294h1M1484 299h1M1477 304h1M1480 304h2M1498 304h1M1496 309h2M1473 315h1M1477 315h1M1480 315h2M1490 315h1M1468 320h1M1473 320h1M1468 325h1M1482 325h1M1482 330h1"/><path stroke="#5ab252" d="M1488 268h1M1489 268h1M1495 268h1M1479 278h1M1490 278h1M1470 284h2M1479 284h1M1475 289h2M1490 289h1M1467 294h1M1485 294h1M1489 294h1M1490 294h1M1474 299h1M1485 299h1M1488 299h1M1469 304h1M1475 304h2M1482 304h1M1482 315h1M1483 315h1M1484 315h1M1483 320h1M1484 320h1M1498 325h1M1483 330h1"/><path stroke="#94c83f" d="M1486 268h2M1491 268h2M1493 268h1M1496 268h2M1495 273h1M1496 273h2M1505 273h1M1475 278h2M1479 289h1M1472 294h1M1479 294h1M1473 299h1M1475 299h2M1479 299h1M1491 299h2M1473 304h1M1483 304h1M1485 309h1M1474 315h1M1479 315h1M1485 315h1M1482 320h1M1475 330h2"/><path stroke="#f0e137" d="M1490 268h1M1493 273h1M1484 278h1M1486 278h2M1489 278h1M1478 284h1M1478 289h1M1482 289h1M1475 294h2M1483 294h1M1478 304h1M1485 304h1M1475 309h2M1479 309h1M1484 309h1M1475 315h2"/><path stroke="#f4ab29" d="M1488 273h1M1494 273h1M1483 278h1M1485 278h1M1498 278h1M1483 289h1M1478 294h1M1482 294h1M1480 299h2M1483 299h1M1474 304h1M1477 309h1M1478 309h1M1483 309h1"/><path stroke="#ef7020" d="M1477 294h1M1478 299h1M1484 304h1M1480 309h2"/><path stroke="#e4321c" d="M1477 299h1M1482 309h1"/></g>
<rect x="1485.4" y="280.8" width="60.7" height="99.3" fill="#fff" opacity="0.8"/>
<rect x="1353.8" y="88.8" width="317.2" height="317.3" fill="none" stroke="#4d4d4d" stroke-width="1.25"/>
<path d="M1344.8 113.8H1353.8M1344.8 162.5H1353.8M1344.8 213.1H1353.8M1344.8 273.3H1353.8M1344.8 391.2H1353.8" stroke="#000" stroke-width="2.5" fill="none"/>
<path d="M1350.4 98.2H1353.8M1350.4 90.6H1353.8M1350.4 255.2H1353.8M1350.4 244.6H1353.8M1350.4 237.1H1353.8M1350.4 226.5H1353.8M1350.4 222.4H1353.8M1350.4 218.9H1353.8M1350.4 215.9H1353.8M1350.4 197.9H1353.8M1350.4 189H1353.8M1350.4 182.6H1353.8M1350.4 173.7H1353.8M1350.4 170.3H1353.8M1350.4 167.4H1353.8M1350.4 164.8H1353.8M1350.4 147.8H1353.8M1350.4 139.3H1353.8M1350.4 133.2H1353.8M1350.4 124.6H1353.8M1350.4 121.3H1353.8M1350.4 118.5H1353.8M1350.4 116H1353.8M1350.4 277H1353.8M1350.4 280.4H1353.8M1350.4 283.7H1353.8M1350.4 287.5H1353.8M1350.4 301H1353.8M1350.4 308.3H1353.8M1350.4 315H1353.8M1350.4 347.8H1353.8M1350.4 355.1H1353.8M1350.4 362.6H1353.8M1350.4 374.8H1353.8M1350.4 378.8H1353.8M1350.4 382.1H1353.8M1350.4 385.7H1353.8M1350.4 388.4H1353.8" stroke="#000" stroke-width="1.3" fill="none"/>
<path d="M1347.6 231.2H1353.8M1347.6 177.7H1353.8M1347.6 128.5H1353.8M1347.6 294.6H1353.8M1347.6 369H1353.8" stroke="#000" stroke-width="1.6" fill="none"/>
<rect x="1348.6" y="323.4" width="5.2" height="18" fill="#000"/>
<path d="M1344.8 324.8H1353.8M1344.8 329.4H1353.8M1344.8 333H1353.8M1344.8 336.8H1353.8M1344.8 340H1353.8" stroke="#000" stroke-width="3.0" fill="none"/>
<text class="e" x="1330" y="120.6" text-anchor="end" textLength="10" lengthAdjust="spacingAndGlyphs">10</text>
<text class="x" x="1331.3" y="113.4">7</text>
<text class="e" x="1330" y="169.3" text-anchor="end" textLength="10" lengthAdjust="spacingAndGlyphs">10</text>
<text class="x" x="1331.3" y="162.1">6</text>
<text class="e" x="1330" y="219.9" text-anchor="end" textLength="10" lengthAdjust="spacingAndGlyphs">10</text>
<text class="x" x="1331.3" y="212.7">5</text>
<text class="e" x="1330" y="280.1" text-anchor="end" textLength="10" lengthAdjust="spacingAndGlyphs">10</text>
<text class="x" x="1331.3" y="272.9">4</text>
<text class="e" x="1329.8" y="398.1" text-anchor="end" textLength="14.6" lengthAdjust="spacingAndGlyphs">-10</text>
<text class="x" x="1333.4" y="390.9">4</text>
<text class="e" x="1331.8" y="335.4" text-anchor="end">0</text>
<path d="M1354.5 406.1V414.8M1429.5 406.1V414.8M1504.5 406.1V414.8M1579.5 406.1V414.8M1654.5 406.1V414.8" stroke="#000" stroke-width="2.8" fill="none"/>
<path d="M1373.2 406.1V410.1M1392 406.1V410.1M1410.8 406.1V410.1M1448.2 406.1V410.1M1467 406.1V410.1M1485.8 406.1V410.1M1523.2 406.1V410.1M1542 406.1V410.1M1560.8 406.1V410.1M1598.2 406.1V410.1M1617 406.1V410.1M1635.8 406.1V410.1" stroke="#000" stroke-width="1.5" fill="none"/>
<text class="t" x="1427.8" y="428" text-anchor="middle" textLength="22.4" lengthAdjust="spacingAndGlyphs">1.0M</text>
<text class="t" x="1502.8" y="428" text-anchor="middle" textLength="22.4" lengthAdjust="spacingAndGlyphs">2.0M</text>
<text class="t" x="1577.8" y="428" text-anchor="middle" textLength="22.4" lengthAdjust="spacingAndGlyphs">3.0M</text>
<text class="t" x="1652.8" y="428" text-anchor="middle" textLength="22.4" lengthAdjust="spacingAndGlyphs">4.0M</text>
<text class="t" x="1355.6" y="428" text-anchor="middle">0</text>
<rect x="1359" y="261.3" width="313.4" height="138.6" fill="none" stroke="#000" stroke-width="2.2"/>
<text x="1487.68" y="319.6" class="g" textLength="50.39" lengthAdjust="spacingAndGlyphs">Live</text>
<text x="1486.01" y="358.9" class="g" textLength="50.88" lengthAdjust="spacingAndGlyphs">99.7</text>
<text x="1478.13" y="467.3" class="a" textLength="54.39" lengthAdjust="spacingAndGlyphs">FSC-A</text>
<text class="v" transform="translate(1292.2 425.58) rotate(-90)" textLength="320.02" lengthAdjust="spacingAndGlyphs">Comp-LIVE DEAD Blue-A :: Viability</text>
<g stroke-width="1" fill="none"><path stroke="#384698" d="M1838 187.5h2M1836 193.5h1M1836 198.5h1M1840 198.5h1M1842 198.5h1M1837 199.5h1M1819 202.5h1M1822 203.5h1M1828 203.5h2M1833 203.5h2M1828 204.5h2M1827 207.5h1M1850 208.5h1M1854 208.5h2M1822 209.5h1M1853 209.5h1M1832 212.5h1M1838 212.5h2M1842 212.5h1M1826 214.5h1M1830 217.5h1M1841 220.5h1M1847 220.5h1M1843 223.5h2M1854 223.5h2M1823 224.5h2M1843 224.5h2M1835 225.5h1M1857 225.5h1M1822 229.5h1M1851 229.5h1M1853 229.5h1M1830 230.5h1M1830 233.5h1M1840 233.5h1M1825 239.5h1M1822 240.5h1M1866 243.5h1M1851 244.5h1M1823 248.5h2M1831 250.5h1M1831 256.5h1M1833 256.5h2M1836 259.5h1M1861 260.5h1M1828 265.5h2M1838 265.5h2M1820 266.5h1M1854 269.5h2M1827 270.5h1M1861 271.5h1M1842 274.5h1M1841 275.5h1M1853 275.5h1M1846 279.5h1M1856 279.5h1M1850 280.5h1M1851 280.5h1M1854 280.5h2M1856 282.5h1M1858 285.5h1M1830 292.5h1M1833 292.5h2M1869 292.5h2M1853 296.5h1M1810 305.5h1M1946 305.5h1M1959 306.5h1M1815 310.5h1M1872 310.5h1M1962 310.5h2M1928 311.5h1M1874 312.5h2M1819 313.5h1M1820 317.5h1M1804 318.5h1M1877 318.5h1M1810 321.5h1M1815 321.5h1M1828 322.5h2M1830 326.5h1M1859 326.5h2M1836 331.5h1M1856 331.5h1M1819 333.5h1M1850 341.5h1"/><path stroke="#3851a4" d="M1833 171.5h2M1823 182.5h2M1820 187.5h1M1817 192.5h2M1845 192.5h1M1827 197.5h1M1836 199.5h1M1838 204.5h2M1831 207.5h1M1832 207.5h1M1835 207.5h1M1833 208.5h2M1845 208.5h1M1830 209.5h1M1832 209.5h1M1836 209.5h1M1848 209.5h2M1822 212.5h1M1833 212.5h2M1848 212.5h2M1835 214.5h1M1851 214.5h1M1819 217.5h1M1825 217.5h1M1841 217.5h1M1830 219.5h1M1831 219.5h1M1836 219.5h1M1851 219.5h1M1828 220.5h2M1848 220.5h2M1820 223.5h1M1835 223.5h1M1856 223.5h1M1841 225.5h1M1850 225.5h1M1827 228.5h1M1831 228.5h1M1832 228.5h1M1842 228.5h1M1838 229.5h2M1840 229.5h1M1843 229.5h2M1827 230.5h1M1850 230.5h1M1838 233.5h2M1847 233.5h1M1863 233.5h1M1835 234.5h1M1836 234.5h1M1854 234.5h2M1828 235.5h2M1843 235.5h2M1826 238.5h1M1843 238.5h2M1820 239.5h1M1835 239.5h1M1836 239.5h1M1854 239.5h2M1830 240.5h1M1847 240.5h1M1821 244.5h1M1841 244.5h1M1845 244.5h1M1832 245.5h1M1828 248.5h2M1850 249.5h1M1854 249.5h2M1859 250.5h2M1830 251.5h1M1833 254.5h2M1848 254.5h2M1851 256.5h1M1843 259.5h2M1852 259.5h1M1837 260.5h1M1845 260.5h1M1847 260.5h1M1852 260.5h1M1858 261.5h1M1831 264.5h1M1846 264.5h1M1850 264.5h1M1831 265.5h1M1825 266.5h1M1841 271.5h1M1856 271.5h1M1857 271.5h1M1830 275.5h1M1831 275.5h1M1837 275.5h1M1856 275.5h1M1862 275.5h1M1846 276.5h1M1837 279.5h1M1827 280.5h1M1841 280.5h1M1831 281.5h1M1832 282.5h1M1836 282.5h1M1842 282.5h1M1850 282.5h1M1857 282.5h1M1830 285.5h1M1833 285.5h2M1852 285.5h1M1832 286.5h1M1845 286.5h1M1848 286.5h2M1857 286.5h1M1837 287.5h1M1848 287.5h2M1832 290.5h1M1835 290.5h1M1851 291.5h1M1854 291.5h2M1866 291.5h1M1812 292.5h2M1819 292.5h1M1842 295.5h1M1819 296.5h1M1821 296.5h1M1833 296.5h2M1827 297.5h1M1833 297.5h2M1936 297.5h2M1815 300.5h1M1825 300.5h1M1828 300.5h2M1858 300.5h1M1882 300.5h1M1895 300.5h2M1921 300.5h2M1817 301.5h2M1868 301.5h1M1872 301.5h1M1934 301.5h1M1939 301.5h1M1823 305.5h2M1866 305.5h1M1869 305.5h2M1945 305.5h1M1823 306.5h2M1823 307.5h2M1899 307.5h1M1946 307.5h1M1952 307.5h2M1811 310.5h1M1823 310.5h2M1954 310.5h1M1817 311.5h2M1821 311.5h1M1862 311.5h1M1866 311.5h1M1869 311.5h2M1826 312.5h1M1827 312.5h1M1859 312.5h2M1821 313.5h1M1828 316.5h2M1873 316.5h1M1825 317.5h1M1830 317.5h1M1823 318.5h2M1832 318.5h1M1843 318.5h2M1857 318.5h1M1830 321.5h1M1837 321.5h1M1843 321.5h2M1858 321.5h1M1852 322.5h1M1863 322.5h1M1836 323.5h1M1847 323.5h1M1863 323.5h1M1823 326.5h2M1843 327.5h2M1851 327.5h1M1817 328.5h2M1840 328.5h1"/><path stroke="#385cb0" d="M1826 186.5h1M1842 194.5h1M1831 197.5h1M1826 202.5h1M1832 204.5h1M1833 204.5h2M1828 208.5h2M1832 208.5h1M1841 208.5h1M1842 209.5h1M1841 213.5h1M1842 214.5h1M1838 217.5h2M1840 218.5h1M1832 219.5h1M1833 219.5h2M1835 219.5h1M1842 219.5h1M1825 220.5h1M1826 220.5h1M1833 220.5h2M1833 223.5h2M1836 224.5h1M1832 225.5h1M1838 225.5h2M1841 228.5h1M1845 228.5h1M1835 229.5h1M1836 229.5h1M1836 230.5h1M1846 230.5h1M1828 233.5h2M1832 233.5h1M1832 234.5h1M1838 234.5h2M1843 234.5h2M1845 234.5h1M1827 235.5h1M1832 235.5h1M1840 235.5h1M1853 235.5h1M1835 238.5h1M1838 238.5h2M1841 238.5h1M1848 238.5h2M1856 238.5h1M1838 239.5h2M1840 239.5h1M1841 239.5h1M1843 239.5h2M1827 240.5h1M1843 240.5h2M1846 240.5h1M1830 243.5h1M1840 243.5h1M1846 243.5h1M1852 243.5h1M1831 244.5h1M1847 244.5h1M1831 245.5h1M1833 245.5h2M1837 245.5h1M1848 245.5h2M1827 248.5h1M1836 248.5h1M1845 248.5h1M1852 248.5h1M1828 249.5h2M1833 249.5h2M1848 249.5h2M1842 250.5h1M1846 250.5h1M1842 251.5h1M1852 251.5h1M1835 254.5h1M1836 254.5h1M1846 254.5h1M1850 254.5h1M1835 255.5h1M1837 255.5h1M1851 255.5h1M1852 255.5h1M1837 256.5h1M1846 256.5h1M1847 256.5h1M1831 259.5h1M1833 259.5h2M1840 259.5h1M1841 259.5h1M1832 260.5h1M1837 261.5h1M1841 261.5h1M1846 261.5h1M1832 264.5h1M1836 264.5h1M1840 264.5h1M1851 264.5h1M1833 265.5h2M1841 265.5h1M1853 265.5h1M1831 266.5h1M1837 266.5h1M1846 266.5h1M1852 266.5h1M1826 269.5h1M1841 269.5h1M1842 269.5h1M1852 269.5h1M1838 270.5h2M1843 270.5h2M1845 270.5h1M1836 271.5h1M1845 271.5h1M1846 271.5h1M1854 271.5h2M1836 274.5h1M1837 274.5h1M1859 274.5h2M1832 275.5h1M1845 275.5h1M1846 275.5h1M1848 275.5h2M1831 276.5h1M1840 276.5h1M1836 279.5h1M1843 279.5h2M1848 279.5h2M1847 280.5h1M1843 282.5h2M1845 282.5h1M1867 285.5h1M1842 286.5h1M1847 287.5h1M1841 290.5h1M1851 290.5h1M1853 290.5h1M1856 290.5h1M1845 291.5h1M1861 291.5h1M1840 292.5h1M1841 292.5h1M1838 295.5h2M1843 295.5h2M1851 296.5h1M1858 296.5h1M1825 297.5h1M1835 297.5h1M1850 297.5h1M1857 297.5h1M1854 300.5h2M1859 300.5h2M1862 300.5h1M1863 300.5h1M1823 301.5h2M1856 301.5h1M1857 301.5h1M1861 301.5h1M1826 302.5h1M1854 302.5h2M1859 302.5h2M1864 302.5h2M1949 302.5h1M1864 305.5h2M1866 306.5h1M1868 306.5h1M1867 307.5h1M1826 310.5h1M1864 310.5h2M1866 310.5h1M1867 310.5h1M1867 311.5h1M1862 312.5h1M1864 312.5h2M1946 312.5h1M1863 313.5h1M1868 313.5h1M1820 316.5h1M1856 316.5h1M1859 316.5h2M1867 316.5h1M1868 316.5h1M1815 317.5h1M1831 317.5h1M1837 317.5h1M1852 317.5h1M1859 317.5h2M1868 317.5h1M1850 318.5h1M1854 318.5h2M1858 318.5h1M1867 318.5h1M1869 318.5h2M1841 321.5h1M1848 321.5h2M1853 321.5h1M1831 322.5h1M1837 322.5h1M1850 322.5h1M1830 323.5h1M1843 323.5h2M1848 323.5h2M1850 328.5h1M1845 331.5h1M1832 332.5h1M1873 357.5h1"/><path stroke="#3485ba" d="M1843 213.5h2M1810 220.5h1M1838 220.5h2M1828 223.5h2M1835 224.5h1M1837 225.5h1M1837 228.5h1M1842 229.5h1M1846 229.5h1M1832 230.5h1M1835 230.5h1M1831 234.5h1M1833 235.5h2M1835 235.5h1M1850 238.5h1M1850 239.5h1M1833 240.5h2M1832 243.5h1M1833 243.5h2M1836 243.5h1M1837 243.5h1M1845 243.5h1M1836 244.5h1M1843 244.5h2M1843 245.5h2M1838 249.5h2M1840 249.5h1M1845 249.5h1M1833 250.5h2M1836 250.5h1M1841 250.5h1M1843 250.5h2M1833 251.5h2M1835 251.5h1M1838 251.5h2M1843 251.5h2M1850 251.5h1M1840 254.5h1M1838 255.5h2M1842 255.5h1M1846 255.5h1M1847 255.5h1M1842 256.5h1M1835 259.5h1M1843 260.5h2M1838 261.5h2M1842 261.5h1M1852 261.5h1M1854 261.5h2M1845 264.5h1M1843 265.5h2M1833 266.5h2M1836 266.5h1M1843 266.5h2M1840 269.5h1M1845 269.5h1M1846 270.5h1M1847 270.5h1M1843 274.5h2M1836 276.5h1M1845 276.5h1M1854 285.5h2M1843 286.5h2M1854 286.5h2M1843 287.5h2M1851 287.5h1M1852 287.5h1M1853 287.5h1M1854 287.5h2M1842 290.5h1M1843 291.5h2M1838 292.5h2M1840 295.5h1M1852 295.5h1M1838 296.5h2M1840 296.5h1M1845 296.5h1M1847 296.5h1M1859 296.5h2M1841 297.5h1M1846 297.5h1M1836 300.5h1M1851 300.5h1M1831 301.5h1M1850 301.5h1M1858 301.5h1M1831 302.5h1M1848 302.5h2M1862 302.5h1M1826 305.5h1M1827 305.5h1M1831 305.5h1M1863 305.5h1M1826 306.5h1M1821 307.5h1M1859 307.5h2M1861 307.5h1M1863 307.5h1M1830 310.5h1M1858 310.5h1M1859 310.5h2M1861 310.5h1M1827 311.5h1M1830 311.5h1M1868 311.5h1M1822 312.5h1M1828 312.5h2M1853 312.5h1M1856 312.5h1M1858 312.5h1M1833 313.5h2M1854 313.5h2M1862 313.5h1M1822 316.5h1M1830 316.5h1M1835 316.5h1M1851 317.5h1M1856 317.5h1M1857 317.5h1M1846 318.5h1M1852 318.5h1M1835 321.5h1M1846 321.5h1M1864 321.5h2M1832 322.5h1M1841 322.5h1M1847 322.5h1M1845 323.5h1M1846 331.5h1M1843 332.5h2"/><path stroke="#3ca08c" d="M1851 238.5h1M1852 238.5h1M1837 244.5h1M1838 244.5h2M1846 245.5h1M1832 248.5h1M1833 248.5h2M1837 248.5h1M1835 249.5h1M1835 250.5h1M1837 250.5h1M1841 251.5h1M1840 256.5h1M1840 260.5h1M1841 260.5h1M1842 265.5h1M1845 265.5h1M1847 269.5h1M1850 286.5h1M1843 292.5h2M1836 297.5h1M1840 297.5h1M1838 300.5h2M1841 300.5h1M1848 300.5h2M1852 300.5h1M1836 301.5h1M1847 301.5h1M1853 301.5h1M1854 301.5h2M1833 302.5h2M1836 302.5h1M1837 302.5h1M1840 302.5h1M1841 302.5h1M1828 305.5h2M1835 305.5h1M1854 305.5h2M1857 305.5h1M1859 305.5h2M1862 305.5h1M1827 306.5h1M1831 306.5h1M1857 306.5h1M1830 307.5h1M1833 307.5h2M1856 307.5h1M1857 307.5h1M1825 310.5h1M1828 310.5h2M1832 310.5h1M1828 311.5h2M1832 311.5h1M1852 311.5h1M1854 311.5h2M1832 313.5h1M1857 313.5h1M1858 313.5h1M1831 316.5h1M1833 316.5h2M1857 316.5h1M1832 317.5h1M1840 317.5h1M1841 317.5h1M1842 317.5h1M1845 317.5h1M1846 317.5h1M1847 317.5h1M1850 317.5h1M1841 318.5h1M1838 321.5h2M1840 321.5h1M1840 322.5h1"/><path stroke="#5ab252" d="M1841 270.5h1M1845 297.5h1M1835 300.5h1M1837 300.5h1M1840 300.5h1M1843 300.5h2M1837 301.5h1M1838 301.5h2M1851 301.5h1M1835 302.5h1M1847 302.5h1M1851 302.5h1M1852 302.5h1M1856 302.5h1M1833 305.5h2M1853 305.5h1M1858 305.5h1M1828 306.5h2M1832 306.5h1M1833 306.5h2M1835 306.5h1M1852 306.5h1M1853 306.5h1M1854 306.5h2M1859 306.5h2M1831 307.5h1M1832 307.5h1M1858 307.5h1M1835 310.5h1M1833 311.5h2M1836 311.5h1M1856 311.5h1M1857 311.5h1M1833 312.5h2M1836 313.5h1M1840 316.5h1M1846 316.5h1M1848 316.5h2M1858 316.5h1M1853 317.5h1M1847 318.5h1"/><path stroke="#94c83f" d="M1842 300.5h1M1845 300.5h1M1842 301.5h1M1843 301.5h2M1852 301.5h1M1845 302.5h1M1846 302.5h1M1836 305.5h1M1848 305.5h2M1830 306.5h1M1836 306.5h1M1835 307.5h1M1852 307.5h1M1854 307.5h2M1856 310.5h1M1835 311.5h1M1835 312.5h1M1836 312.5h1M1837 312.5h1M1852 312.5h1M1854 312.5h2M1842 313.5h1M1845 313.5h1M1851 313.5h1M1852 313.5h1M1837 316.5h1M1838 316.5h2M1841 316.5h1M1845 316.5h1M1850 316.5h1M1852 316.5h1"/><path stroke="#f0e137" d="M1847 300.5h1M1845 301.5h1M1842 302.5h1M1843 302.5h2M1838 305.5h2M1840 305.5h1M1841 305.5h1M1847 305.5h1M1851 305.5h1M1852 305.5h1M1837 306.5h1M1840 306.5h1M1852 310.5h1M1853 310.5h1M1838 311.5h2M1842 311.5h1M1846 311.5h1M1850 311.5h1M1845 312.5h1M1846 312.5h1M1847 312.5h1M1850 312.5h1M1851 312.5h1M1840 313.5h1M1841 313.5h1M1847 313.5h1M1850 313.5h1"/><path stroke="#f4ab29" d="M1837 305.5h1M1845 305.5h1M1846 305.5h1M1838 306.5h2M1841 306.5h1M1842 306.5h1M1847 306.5h1M1836 307.5h1M1837 307.5h1M1838 307.5h2M1847 307.5h1M1848 307.5h2M1850 307.5h1M1836 310.5h1M1837 310.5h1M1841 310.5h1M1851 310.5h1M1841 311.5h1M1843 311.5h2M1848 311.5h2M1851 311.5h1M1840 312.5h1M1842 312.5h1M1848 312.5h2M1837 313.5h1M1838 313.5h2M1843 313.5h2M1846 313.5h1"/><path stroke="#ef7020" d="M1842 305.5h1M1843 305.5h2M1850 305.5h1M1846 306.5h1M1848 306.5h2M1850 306.5h1M1840 307.5h1M1841 307.5h1M1843 307.5h2M1845 307.5h1M1851 307.5h1M1838 310.5h2M1840 310.5h1M1845 310.5h1M1848 310.5h2M1840 311.5h1M1845 311.5h1M1847 311.5h1M1843 312.5h2"/><path stroke="#e4321c" d="M1843 306.5h2M1845 306.5h1M1842 307.5h1M1846 307.5h1M1843 310.5h2M1846 310.5h1M1847 310.5h1M1841 312.5h1"/></g>
<g stroke-width="2" fill="none"><path stroke="#384698" d="M1826 191h1M1812 201h2M1847 201h1M1816 206h1M1826 211h1M1847 211h1M1821 216h1M1835 216h1M1838 227h2M1832 242h1M1828 253h2M1850 253h1M1864 253h2M1827 258h1M1828 273h2M1836 278h1M1853 278h1M1830 284h1M1836 284h1M1828 289h2M1838 289h2M1823 294h2M1852 294h1M1857 294h1M1806 304h1M1887 304h1M1951 309h1M1800 315h1M1811 315h1M1817 315h2M1877 315h1M1809 320h1"/><path stroke="#3851a4" d="M1840 180h1M1846 201h1M1835 211h1M1842 211h1M1858 216h1M1845 222h1M1846 222h1M1850 222h1M1843 232h2M1846 232h1M1858 232h1M1830 237h1M1837 237h1M1843 237h2M1850 237h1M1831 242h1M1835 242h1M1843 247h2M1845 247h1M1846 253h1M1859 253h2M1828 258h2M1846 258h1M1848 258h2M1826 263h1M1833 263h2M1831 268h1M1840 268h1M1836 273h1M1840 273h1M1850 278h1M1840 284h1M1843 284h2M1845 294h1M1847 294h1M1850 294h1M1851 294h1M1862 294h1M1819 299h1M1853 299h1M1861 299h1M1873 299h1M1888 299h1M1814 304h1M1819 304h1M1936 304h2M1944 304h1M1779 309h1M1797 309h2M1819 309h1M1949 309h1M1955 309h1M1823 315h2M1825 315h1M1823 320h2M1833 320h2M1853 320h1M1864 320h2M1868 320h1M1841 325h1M1854 325h2M1836 340h1"/><path stroke="#385cb0" d="M1806 185h1M1827 201h1M1825 206h1M1836 206h1M1838 206h2M1819 211h1M1827 211h1M1840 211h1M1836 216h1M1838 216h2M1840 216h1M1841 216h1M1835 222h1M1821 227h1M1833 232h2M1841 232h1M1835 237h1M1840 237h1M1842 237h1M1845 237h1M1827 242h1M1838 242h2M1842 242h1M1845 242h1M1854 242h2M1822 247h1M1831 247h1M1832 247h1M1838 247h2M1852 247h1M1827 253h1M1841 253h1M1845 253h1M1845 258h1M1852 258h1M1852 263h1M1833 268h2M1836 268h1M1842 268h1M1851 268h1M1833 273h2M1835 273h1M1842 273h1M1848 273h2M1823 278h2M1840 278h1M1837 284h1M1846 284h1M1856 284h1M1841 289h1M1874 289h2M1830 294h1M1846 294h1M1848 299h2M1868 304h1M1869 304h2M1938 304h1M1820 309h1M1961 309h1M1827 315h1M1856 315h1M1858 315h1M1817 320h2M1835 320h1M1840 320h1M1842 320h1M1852 320h1M1857 320h1M1858 320h1M1850 325h1M1847 330h1"/><path stroke="#3485ba" d="M1846 206h1M1827 222h1M1837 227h1M1826 232h1M1836 232h1M1838 232h2M1838 253h2M1851 253h1M1837 258h1M1840 258h1M1838 263h2M1843 263h2M1843 268h2M1832 273h1M1841 273h1M1845 278h1M1854 284h2M1843 289h2M1852 289h1M1841 294h1M1861 294h1M1842 299h1M1857 299h1M1827 304h1M1828 304h2M1832 304h1M1854 304h2M1856 304h1M1862 304h1M1826 309h1M1827 309h1M1864 309h2M1866 309h1M1833 315h2M1854 315h2M1864 315h2M1838 320h2M1846 320h1M1847 320h1M1851 320h1M1848 325h2"/><path stroke="#3ca08c" d="M1847 258h1M1841 268h1M1846 268h1M1847 268h1M1853 289h1M1837 299h1M1838 299h2M1850 299h1M1858 304h1M1861 304h1M1858 309h1M1862 309h1M1831 315h1M1832 315h1M1845 320h1"/><path stroke="#5ab252" d="M1841 299h1M1843 299h2M1845 299h1M1835 304h1M1837 304h1M1838 304h2M1852 304h1M1853 304h1M1831 309h1M1852 309h1M1836 315h1M1847 315h1M1848 315h2M1852 315h1M1857 315h1"/><path stroke="#94c83f" d="M1846 299h1M1840 304h1M1846 304h1M1850 304h1M1832 309h1M1843 309h2M1854 309h2M1856 309h1M1837 315h1M1838 315h2M1840 315h1M1841 315h1M1843 315h2M1845 315h1M1850 315h1"/><path stroke="#f0e137" d="M1841 304h1M1842 304h1M1845 304h1M1851 304h1M1835 309h1M1853 309h1M1842 315h1M1846 315h1M1851 315h1"/><path stroke="#f4ab29" d="M1838 309h2M1840 309h1M1850 309h1"/><path stroke="#ef7020" d="M1847 304h1M1836 309h1M1841 309h1"/><path stroke="#e4321c" d="M1837 309h1M1842 309h1M1845 309h1M1846 309h1M1847 309h1M1848 309h2"/></g>
<rect x="1781.4" y="95.4" width="78.6" height="99.4" fill="#fff" opacity="0.8"/>
<rect x="1781.4" y="301.4" width="59.1" height="99.4" fill="#fff" opacity="0.8"/>
<rect x="1777.6" y="88.8" width="317.2" height="317.4" fill="none" stroke="#4d4d4d" stroke-width="1.25"/>
<path d="M1768.6 90.6H1777.6M1768.6 154.6H1777.6M1768.6 234.4H1777.6M1768.6 386.1H1777.6" stroke="#000" stroke-width="2.5" fill="none"/>
<path d="M1774.2 210.4H1777.6M1774.2 196.3H1777.6M1774.2 186.4H1777.6M1774.2 172.3H1777.6M1774.2 167H1777.6M1774.2 162.3H1777.6M1774.2 158.3H1777.6M1774.2 135.3H1777.6M1774.2 124.1H1777.6M1774.2 116.1H1777.6M1774.2 104.8H1777.6M1774.2 100.5H1777.6M1774.2 96.8H1777.6M1774.2 93.5H1777.6M1774.2 237.7H1777.6M1774.2 241.3H1777.6M1774.2 244.9H1777.6M1774.2 249.5H1777.6M1774.2 255H1777.6M1774.2 272.2H1777.6M1774.2 285.9H1777.6M1774.2 382.8H1777.6M1774.2 379.2H1777.6M1774.2 375.6H1777.6M1774.2 371H1777.6M1774.2 365.5H1777.6M1774.2 348.3H1777.6M1774.2 334.6H1777.6" stroke="#000" stroke-width="1.3" fill="none"/>
<path d="M1771.4 178.6H1777.6M1771.4 109.9H1777.6M1771.4 262.6H1777.6M1771.4 357.9H1777.6" stroke="#000" stroke-width="1.6" fill="none"/>
<rect x="1772.4" y="298" width="5.2" height="23.7" fill="#000"/>
<path d="M1768.6 299.4H1777.6M1768.6 304.2H1777.6M1768.6 310H1777.6M1768.6 315.6H1777.6M1768.6 320.3H1777.6" stroke="#000" stroke-width="3.0" fill="none"/>
<text class="e" x="1753" y="97.6" text-anchor="end" textLength="10" lengthAdjust="spacingAndGlyphs">10</text>
<text class="x" x="1754.3" y="90.4">6</text>
<text class="e" x="1753" y="161.6" text-anchor="end" textLength="10" lengthAdjust="spacingAndGlyphs">10</text>
<text class="x" x="1754.3" y="154.4">5</text>
<text class="e" x="1753" y="241.4" text-anchor="end" textLength="10" lengthAdjust="spacingAndGlyphs">10</text>
<text class="x" x="1754.3" y="234.2">4</text>
<text class="e" x="1752" y="393.2" text-anchor="end" textLength="14.6" lengthAdjust="spacingAndGlyphs">-10</text>
<text class="x" x="1756" y="386">4</text>
<text class="e" x="1755" y="314.2" text-anchor="end">0</text>
<path d="M1791 406.2V414.9M1908.7 406.2V414.9M1969.5 406.2V414.9M2020.4 406.2V414.9M2068.6 406.2V414.9" stroke="#000" stroke-width="2.5" fill="none"/>
<path d="M2083 406.2V409.6M2091.5 406.2V409.6M1927 406.2V409.6M1937.7 406.2V409.6M1945.3 406.2V409.6M1956 406.2V409.6M1960.1 406.2V409.6M1963.6 406.2V409.6M1966.7 406.2V409.6M1984.8 406.2V409.6M1993.8 406.2V409.6M2000.1 406.2V409.6M2009.1 406.2V409.6M2012.5 406.2V409.6M2015.5 406.2V409.6M2018.1 406.2V409.6M2034.9 406.2V409.6M2043.4 406.2V409.6M2049.4 406.2V409.6M2057.9 406.2V409.6M2061.1 406.2V409.6M2063.9 406.2V409.6M2066.4 406.2V409.6M1795.5 406.2V409.6M1799.5 406.2V409.6M1803.7 406.2V409.6M1808.3 406.2V409.6M1820.1 406.2V409.6M1827.4 406.2V409.6M1834.7 406.2V409.6M1904.2 406.2V409.6M1900.2 406.2V409.6M1896 406.2V409.6M1891.4 406.2V409.6M1879.6 406.2V409.6M1872.3 406.2V409.6M1865 406.2V409.6" stroke="#000" stroke-width="1.3" fill="none"/>
<path d="M1951.2 406.2V412.4M2005.1 406.2V412.4M2054.1 406.2V412.4M1813.4 406.2V412.4M1886.3 406.2V412.4" stroke="#000" stroke-width="1.6" fill="none"/>
<rect x="1840.5" y="406.2" width="18.4" height="5.2" fill="#000"/>
<path d="M1842 406.2V414.9M1846.5 406.2V414.9M1850 406.2V414.9M1853.5 406.2V414.9M1857.5 406.2V414.9" stroke="#000" stroke-width="3.0" fill="none"/>
<text class="e" x="1803" y="432.7" text-anchor="end" textLength="14.6" lengthAdjust="spacingAndGlyphs">-10</text>
<text class="x" x="1805.6" y="425.5">4</text>
<text class="e" x="1919.5" y="432.7" text-anchor="end" textLength="10" lengthAdjust="spacingAndGlyphs">10</text>
<text class="x" x="1920.8" y="425.5">4</text>
<text class="e" x="1980.3" y="432.7" text-anchor="end" textLength="10" lengthAdjust="spacingAndGlyphs">10</text>
<text class="x" x="1981.6" y="425.5">5</text>
<text class="e" x="2031.2" y="432.7" text-anchor="end" textLength="10" lengthAdjust="spacingAndGlyphs">10</text>
<text class="x" x="2032.5" y="425.5">6</text>
<text class="e" x="1856.7" y="433" text-anchor="middle">0</text>
<path d="M1870.3 88.8L1870.3 406.2" stroke="#000" stroke-width="2.2"/>
<path d="M1777.6 293.4L2095.8 293.4" stroke="#000" stroke-width="2.2"/>
<text x="1782.56" y="133.8" class="g" textLength="69.73" lengthAdjust="spacingAndGlyphs">CAR+</text>
<text x="1782.64" y="173.6" class="g" textLength="52.18" lengthAdjust="spacingAndGlyphs">31.4</text>
<text x="2010.45" y="133.8" class="g" textLength="36.51" lengthAdjust="spacingAndGlyphs">Q2</text>
<text x="1975.86" y="173.6" class="g" textLength="68.15" lengthAdjust="spacingAndGlyphs">0.056</text>
<text x="1782.66" y="339.9" class="g" textLength="36.18" lengthAdjust="spacingAndGlyphs">Q4</text>
<text x="1782.67" y="379.6" class="g" textLength="49.83" lengthAdjust="spacingAndGlyphs">67.1</text>
<text x="2019.39" y="339.9" class="g" textLength="35.32" lengthAdjust="spacingAndGlyphs">Q3</text>
<text x="2002.09" y="379.6" class="g" textLength="50.8" lengthAdjust="spacingAndGlyphs">1.46</text>
<text x="1820.85" y="474" class="a" textLength="196.83" lengthAdjust="spacingAndGlyphs">Comp-BV421-A :: TCR</text>
<text class="v" transform="translate(1716 350.65) rotate(-90)" textLength="179.03" lengthAdjust="spacingAndGlyphs">Comp-APC-A :: CAR</text>
<g stroke-width="1" fill="none"><path stroke="#384698" d="M257 598.5h1M195 622.5h1M212 622.5h1M248 624.5h1M181 628.5h1M127 643.5h1M228 666.5h2M226 671.5h1M148 675.5h1M396 675.5h1M130 689.5h2M138 696.5h1M114 701.5h1M150 707.5h1M123 712.5h1M154 712.5h1M102 715.5h1M118 716.5h1M120 720.5h2M148 720.5h1M211 725.5h1M175 727.5h1M111 732.5h1M133 732.5h1M153 733.5h1M396 733.5h1M103 736.5h1M187 736.5h2M161 737.5h2M204 737.5h1M123 738.5h1M202 738.5h2M182 742.5h2M210 742.5h1M194 743.5h1M160 746.5h1M127 747.5h1M154 751.5h1M119 752.5h1M173 753.5h1M201 753.5h1M111 756.5h1M150 763.5h1M97 764.5h1M202 764.5h2M128 768.5h1M176 768.5h1M156 769.5h2M137 772.5h1M205 772.5h1M108 773.5h1M191 774.5h1M104 777.5h2M108 777.5h1M148 777.5h1M211 777.5h1M112 783.5h1M220 783.5h1M204 789.5h1M92 790.5h1M94 790.5h2M168 790.5h1M173 790.5h1M174 804.5h1M170 809.5h1M195 814.5h1"/><path stroke="#3851a4" d="M103 545.5h1M151 545.5h2M195 545.5h1M211 545.5h1M243 545.5h1M292 545.5h1M351 545.5h1M367 545.5h1M208 573.5h2M247 617.5h1M196 619.5h1M120 627.5h2M223 627.5h2M199 634.5h1M241 638.5h1M174 653.5h1M179 666.5h1M396 669.5h1M171 674.5h2M215 674.5h1M190 675.5h1M103 676.5h1M101 680.5h1M151 681.5h2M142 685.5h1M170 689.5h1M173 690.5h1M190 694.5h1M396 695.5h1M118 697.5h1M122 705.5h1M139 705.5h1M123 706.5h1M179 707.5h1M208 710.5h2M194 711.5h1M199 711.5h1M171 712.5h2M180 712.5h1M201 712.5h1M128 715.5h1M150 716.5h1M168 716.5h1M232 716.5h1M133 717.5h1M170 717.5h1M223 717.5h2M137 720.5h1M180 720.5h1M138 721.5h1M191 721.5h1M216 721.5h1M114 722.5h1M118 722.5h1M132 722.5h1M149 722.5h1M155 722.5h1M205 722.5h1M137 725.5h1M165 725.5h1M170 725.5h1M173 725.5h1M185 725.5h1M199 725.5h1M161 726.5h2M175 726.5h1M200 726.5h1M139 727.5h1M161 727.5h2M171 727.5h2M182 727.5h2M185 727.5h1M122 728.5h1M159 728.5h1M166 728.5h2M186 728.5h1M135 731.5h2M148 731.5h1M159 731.5h1M163 731.5h1M195 732.5h1M115 733.5h2M135 733.5h2M180 733.5h1M128 736.5h1M144 736.5h1M181 736.5h1M154 737.5h1M177 737.5h2M180 737.5h1M109 738.5h2M176 738.5h1M98 742.5h1M155 742.5h1M166 742.5h2M127 743.5h1M133 743.5h1M169 743.5h1M173 743.5h1M175 743.5h1M190 743.5h1M107 746.5h1M108 746.5h1M129 746.5h1M133 746.5h1M149 746.5h1M180 746.5h1M189 746.5h1M195 746.5h1M137 747.5h1M163 747.5h1M169 747.5h1M190 747.5h1M97 748.5h1M109 748.5h2M124 748.5h1M132 748.5h1M133 748.5h1M138 748.5h1M159 748.5h1M96 751.5h1M137 751.5h1M159 751.5h1M104 752.5h2M134 752.5h1M182 752.5h2M187 752.5h2M113 753.5h1M114 753.5h1M132 753.5h1M138 753.5h1M146 753.5h2M158 753.5h1M191 753.5h1M118 756.5h1M124 756.5h1M128 756.5h1M130 756.5h2M133 756.5h1M173 756.5h1M180 756.5h1M181 756.5h1M186 756.5h1M104 757.5h2M160 757.5h1M171 757.5h2M103 758.5h1M106 758.5h1M118 758.5h1M122 758.5h1M135 758.5h2M146 758.5h2M153 758.5h1M160 758.5h1M164 758.5h1M191 758.5h1M204 758.5h1M230 758.5h1M103 759.5h1M112 759.5h1M118 759.5h1M148 759.5h1M176 759.5h1M103 762.5h1M109 762.5h2M127 762.5h1M132 762.5h1M145 762.5h1M146 762.5h2M153 762.5h1M208 762.5h2M102 763.5h1M108 763.5h1M123 763.5h1M134 763.5h1M135 763.5h2M138 763.5h1M159 763.5h1M163 763.5h1M165 763.5h1M179 763.5h1M111 764.5h1M119 764.5h1M122 764.5h1M129 764.5h1M140 764.5h2M156 764.5h2M166 764.5h2M173 764.5h1M98 767.5h1M99 767.5h2M117 767.5h1M134 767.5h1M150 767.5h1M186 767.5h1M104 768.5h2M107 768.5h1M109 768.5h2M120 768.5h2M138 768.5h1M156 768.5h2M171 768.5h2M89 769.5h2M112 769.5h1M125 769.5h2M139 769.5h1M144 769.5h1M148 769.5h1M165 769.5h1M186 769.5h1M205 769.5h1M94 772.5h2M117 772.5h1M125 772.5h2M146 772.5h2M149 772.5h1M151 772.5h2M155 772.5h1M156 772.5h2M160 772.5h1M189 772.5h1M91 773.5h1M133 773.5h1M146 773.5h2M149 773.5h1M159 773.5h1M104 774.5h2M119 774.5h1M123 774.5h1M124 774.5h1M165 774.5h1M169 774.5h1M180 774.5h1M181 774.5h1M102 777.5h1M113 777.5h1M122 777.5h1M127 777.5h1M138 777.5h1M151 777.5h2M161 777.5h2M192 777.5h2M115 778.5h2M149 778.5h1M168 778.5h1M180 778.5h1M195 778.5h1M201 778.5h1M91 779.5h1M108 779.5h1M112 779.5h1M120 779.5h2M123 779.5h1M125 779.5h2M135 779.5h2M139 779.5h1M118 782.5h1M129 782.5h1M146 782.5h2M151 782.5h2M156 782.5h2M158 782.5h1M163 782.5h1M92 783.5h1M97 783.5h1M106 783.5h1M122 783.5h1M124 783.5h1M142 783.5h1M146 783.5h2M158 783.5h1M159 783.5h1M164 783.5h1M166 783.5h2M175 783.5h1M192 783.5h2M106 784.5h1M138 784.5h1M181 784.5h1M186 784.5h1M196 784.5h1M197 784.5h2M94 787.5h2M101 787.5h1M106 787.5h1M109 787.5h2M115 787.5h2M117 787.5h1M145 787.5h1M155 787.5h1M158 787.5h1M160 787.5h1M161 787.5h2M163 787.5h1M168 787.5h1M98 788.5h1M104 788.5h2M124 788.5h1M142 788.5h1M145 788.5h1M148 788.5h1M169 788.5h1M170 788.5h1M171 788.5h2M197 788.5h2M202 788.5h2M207 788.5h1M98 789.5h1M102 789.5h1M107 789.5h1M154 789.5h1M158 789.5h1M181 789.5h1M195 789.5h1M196 789.5h1M102 790.5h1M106 790.5h1M127 790.5h1M128 790.5h1M208 790.5h2M212 790.5h1M232 790.5h1M109 793.5h2M118 793.5h1M128 793.5h1M140 793.5h2M143 793.5h1M164 793.5h1M166 793.5h2M191 793.5h1M82 794.5h1M98 794.5h1M99 794.5h2M103 794.5h1M113 794.5h1M124 794.5h1M153 794.5h1M158 794.5h1M159 794.5h1M171 794.5h2M186 794.5h1M187 794.5h2M191 794.5h1M204 794.5h1M93 795.5h1M108 795.5h1M109 795.5h2M117 795.5h1M123 795.5h1M129 795.5h1M165 795.5h1M191 795.5h1M192 795.5h2M94 798.5h2M108 798.5h1M120 798.5h2M139 798.5h1M158 798.5h1M163 798.5h1M171 798.5h2M174 798.5h1M93 799.5h1M97 799.5h1M102 799.5h1M124 799.5h1M142 799.5h1M153 799.5h1M161 799.5h2M181 799.5h1M86 800.5h1M91 800.5h1M106 800.5h1M107 800.5h1M111 800.5h1M170 800.5h1M176 800.5h1M179 800.5h1M199 800.5h1M82 803.5h1M83 803.5h1M104 803.5h2M122 803.5h1M150 803.5h1M163 803.5h1M169 803.5h1M181 803.5h1M196 803.5h1M93 804.5h1M111 804.5h1M118 804.5h1M120 804.5h2M165 804.5h1M84 805.5h2M137 805.5h1M149 805.5h1M168 805.5h1M180 805.5h1M194 805.5h1M197 805.5h2M82 808.5h1M112 808.5h1M144 808.5h1M158 808.5h1M159 808.5h1M165 808.5h1M175 808.5h1M176 808.5h1M82 809.5h1M181 809.5h1M91 810.5h1M140 810.5h2M180 810.5h1M190 810.5h1M101 813.5h1M103 813.5h1M106 813.5h1M143 813.5h1M149 813.5h1M155 813.5h1M158 813.5h1M83 814.5h1M84 814.5h2M88 814.5h1M99 814.5h2M118 814.5h1M175 814.5h1M176 814.5h1M179 814.5h1M180 814.5h1M83 815.5h1M103 815.5h1M122 815.5h1M143 815.5h1M150 815.5h1M169 815.5h1M83 818.5h1M96 818.5h1M158 818.5h1M160 818.5h1M170 818.5h1M206 818.5h1M87 819.5h1M93 819.5h1M103 819.5h1M132 819.5h1M151 819.5h2M168 819.5h1M174 819.5h1M175 819.5h1M83 820.5h1M84 820.5h2M96 820.5h1M148 820.5h1M161 820.5h2M163 820.5h1M174 820.5h1M177 820.5h2M196 820.5h1M82 821.5h1M94 821.5h2M98 821.5h1M142 821.5h1M160 821.5h1M155 824.5h1M158 824.5h1M163 824.5h1M169 824.5h1M174 824.5h1M151 825.5h2M170 825.5h1M149 826.5h1M158 826.5h1M160 826.5h1M165 826.5h1M146 829.5h2M151 829.5h2M153 829.5h1M168 829.5h1M151 830.5h2M169 830.5h1M177 830.5h2M132 831.5h1M156 831.5h2M160 831.5h1M163 831.5h1M164 831.5h1M123 834.5h1M145 834.5h1M150 834.5h1M156 834.5h2M149 835.5h1M150 835.5h1M156 835.5h2M166 835.5h2M142 836.5h1M160 836.5h1M151 839.5h2M155 839.5h1M148 840.5h1M145 841.5h1M146 841.5h2M148 841.5h1M140 844.5h2M139 845.5h1"/><path stroke="#385cb0" d="M171 545.5h2M326 545.5h2M365 545.5h1M191 695.5h1M135 715.5h2M192 720.5h2M112 731.5h1M168 746.5h1M174 746.5h1M129 747.5h1M137 748.5h1M148 753.5h1M144 756.5h1M142 757.5h1M128 758.5h1M158 758.5h1M176 758.5h1M139 759.5h1M133 763.5h1M137 763.5h1M139 763.5h1M144 763.5h1M175 763.5h1M181 763.5h1M135 764.5h2M143 764.5h1M180 764.5h1M184 764.5h1M120 767.5h2M142 767.5h1M144 767.5h1M146 767.5h2M161 767.5h2M119 768.5h1M160 768.5h1M161 768.5h2M170 768.5h1M150 772.5h1M173 772.5h1M118 773.5h1M124 773.5h1M144 773.5h1M155 773.5h1M134 774.5h1M142 774.5h1M145 774.5h1M155 774.5h1M158 774.5h1M107 777.5h1M124 777.5h1M125 777.5h2M181 777.5h1M114 778.5h1M123 778.5h1M134 778.5h1M138 778.5h1M142 778.5h1M150 778.5h1M151 778.5h2M134 779.5h1M143 779.5h1M151 779.5h2M160 779.5h1M93 782.5h1M130 782.5h2M138 782.5h1M155 782.5h1M108 783.5h1M130 783.5h2M132 783.5h1M134 783.5h1M140 783.5h2M144 783.5h1M150 783.5h1M151 783.5h2M155 783.5h1M108 784.5h1M112 784.5h1M113 784.5h1M115 784.5h2M127 784.5h1M128 784.5h1M129 784.5h1M130 784.5h2M134 784.5h1M139 784.5h1M153 784.5h1M155 784.5h1M92 787.5h1M111 787.5h1M112 787.5h1M114 787.5h1M119 787.5h1M123 787.5h1M130 787.5h2M132 787.5h1M148 787.5h1M149 787.5h1M153 787.5h1M154 787.5h1M93 788.5h1M109 788.5h2M112 788.5h1M115 788.5h2M119 788.5h1M122 788.5h1M123 788.5h1M130 788.5h2M137 788.5h1M139 788.5h1M144 788.5h1M146 788.5h2M161 788.5h2M164 788.5h1M103 789.5h1M109 789.5h2M112 789.5h1M120 789.5h2M122 789.5h1M123 789.5h1M124 789.5h1M132 789.5h1M135 789.5h2M137 789.5h1M138 789.5h1M142 789.5h1M144 789.5h1M153 789.5h1M159 789.5h1M160 789.5h1M111 790.5h1M115 790.5h2M119 790.5h1M120 790.5h2M135 790.5h2M140 790.5h2M146 790.5h2M149 790.5h1M150 790.5h1M153 790.5h1M159 790.5h1M108 793.5h1M111 793.5h1M113 793.5h1M114 793.5h1M115 793.5h2M134 793.5h1M135 793.5h2M142 793.5h1M144 793.5h1M149 793.5h1M150 793.5h1M151 793.5h2M154 793.5h1M155 793.5h1M161 793.5h2M102 794.5h1M111 794.5h1M129 794.5h1M132 794.5h1M137 794.5h1M140 794.5h2M145 794.5h1M146 794.5h2M149 794.5h1M96 795.5h1M97 795.5h1M111 795.5h1M113 795.5h1M115 795.5h2M120 795.5h2M127 795.5h1M137 795.5h1M140 795.5h2M145 795.5h1M146 795.5h2M149 795.5h1M151 795.5h2M153 795.5h1M154 795.5h1M179 795.5h1M96 798.5h1M112 798.5h1M114 798.5h1M118 798.5h1M132 798.5h1M134 798.5h1M137 798.5h1M140 798.5h2M144 798.5h1M146 798.5h2M148 798.5h1M151 798.5h2M161 798.5h2M164 798.5h1M170 798.5h1M112 799.5h1M113 799.5h1M117 799.5h1M118 799.5h1M125 799.5h2M129 799.5h1M130 799.5h2M133 799.5h1M134 799.5h1M135 799.5h2M139 799.5h1M143 799.5h1M146 799.5h2M151 799.5h2M160 799.5h1M94 800.5h2M101 800.5h1M102 800.5h1M109 800.5h2M114 800.5h1M119 800.5h1M124 800.5h1M129 800.5h1M130 800.5h2M139 800.5h1M142 800.5h1M144 800.5h1M156 800.5h2M158 800.5h1M159 800.5h1M161 800.5h2M164 800.5h1M93 803.5h1M94 803.5h2M96 803.5h1M102 803.5h1M107 803.5h1M112 803.5h1M124 803.5h1M128 803.5h1M130 803.5h2M134 803.5h1M137 803.5h1M139 803.5h1M143 803.5h1M144 803.5h1M149 803.5h1M155 803.5h1M159 803.5h1M81 804.5h1M97 804.5h1M104 804.5h2M117 804.5h1M123 804.5h1M125 804.5h2M127 804.5h1M132 804.5h1M133 804.5h1M135 804.5h2M140 804.5h2M153 804.5h1M154 804.5h1M155 804.5h1M159 804.5h1M163 804.5h1M164 804.5h1M97 805.5h1M103 805.5h1M107 805.5h1M108 805.5h1M113 805.5h1M115 805.5h2M117 805.5h1M123 805.5h1M128 805.5h1M142 805.5h1M144 805.5h1M145 805.5h1M148 805.5h1M163 805.5h1M166 805.5h2M195 805.5h1M94 808.5h2M96 808.5h1M103 808.5h1M107 808.5h1M117 808.5h1M120 808.5h2M124 808.5h1M125 808.5h2M130 808.5h2M137 808.5h1M140 808.5h2M143 808.5h1M148 808.5h1M151 808.5h2M155 808.5h1M83 809.5h1M92 809.5h1M97 809.5h1M99 809.5h2M104 809.5h2M108 809.5h1M109 809.5h2M113 809.5h1M118 809.5h1M124 809.5h1M132 809.5h1M133 809.5h1M135 809.5h2M139 809.5h1M144 809.5h1M146 809.5h2M158 809.5h1M101 810.5h1M102 810.5h1M106 810.5h1M108 810.5h1M112 810.5h1M114 810.5h1M117 810.5h1M123 810.5h1M133 810.5h1M137 810.5h1M144 810.5h1M146 810.5h2M149 810.5h1M153 810.5h1M159 810.5h1M92 813.5h1M97 813.5h1M108 813.5h1M109 813.5h2M112 813.5h1M118 813.5h1M123 813.5h1M124 813.5h1M130 813.5h2M132 813.5h1M135 813.5h2M138 813.5h1M148 813.5h1M154 813.5h1M164 813.5h1M177 813.5h2M81 814.5h1M89 814.5h2M91 814.5h1M92 814.5h1M94 814.5h2M106 814.5h1M112 814.5h1M115 814.5h2M117 814.5h1M119 814.5h1M125 814.5h2M133 814.5h1M144 814.5h1M145 814.5h1M146 814.5h2M153 814.5h1M154 814.5h1M158 814.5h1M163 814.5h1M164 814.5h1M165 814.5h1M89 815.5h2M91 815.5h1M94 815.5h2M96 815.5h1M97 815.5h1M101 815.5h1M108 815.5h1M112 815.5h1M113 815.5h1M115 815.5h2M120 815.5h2M123 815.5h1M130 815.5h2M144 815.5h1M146 815.5h2M149 815.5h1M151 815.5h2M153 815.5h1M158 815.5h1M164 815.5h1M176 815.5h1M87 818.5h1M89 818.5h2M93 818.5h1M97 818.5h1M99 818.5h2M106 818.5h1M113 818.5h1M114 818.5h1M115 818.5h2M119 818.5h1M132 818.5h1M135 818.5h2M139 818.5h1M144 818.5h1M145 818.5h1M146 818.5h2M153 818.5h1M166 818.5h2M98 819.5h1M102 819.5h1M104 819.5h2M129 819.5h1M130 819.5h2M137 819.5h1M138 819.5h1M140 819.5h2M146 819.5h2M148 819.5h1M149 819.5h1M91 820.5h1M93 820.5h1M99 820.5h2M106 820.5h1M107 820.5h1M108 820.5h1M111 820.5h1M114 820.5h1M118 820.5h1M122 820.5h1M124 820.5h1M127 820.5h1M129 820.5h1M135 820.5h2M137 820.5h1M142 820.5h1M143 820.5h1M158 820.5h1M88 821.5h1M89 821.5h2M97 821.5h1M99 821.5h2M104 821.5h2M106 821.5h1M107 821.5h1M109 821.5h2M114 821.5h1M118 821.5h1M120 821.5h2M124 821.5h1M133 821.5h1M134 821.5h1M135 821.5h2M137 821.5h1M144 821.5h1M145 821.5h1M146 821.5h2M155 821.5h1M165 821.5h1M81 824.5h1M84 824.5h2M88 824.5h1M91 824.5h1M92 824.5h1M93 824.5h1M96 824.5h1M99 824.5h2M101 824.5h1M103 824.5h1M104 824.5h2M114 824.5h1M115 824.5h2M118 824.5h1M124 824.5h1M125 824.5h2M127 824.5h1M134 824.5h1M135 824.5h2M137 824.5h1M139 824.5h1M140 824.5h2M142 824.5h1M144 824.5h1M146 824.5h2M150 824.5h1M156 824.5h2M160 824.5h1M161 824.5h2M83 825.5h1M87 825.5h1M91 825.5h1M94 825.5h2M97 825.5h1M101 825.5h1M102 825.5h1M108 825.5h1M115 825.5h2M117 825.5h1M119 825.5h1M133 825.5h1M137 825.5h1M138 825.5h1M142 825.5h1M144 825.5h1M148 825.5h1M150 825.5h1M81 826.5h1M82 826.5h1M83 826.5h1M87 826.5h1M89 826.5h2M102 826.5h1M111 826.5h1M113 826.5h1M118 826.5h1M122 826.5h1M124 826.5h1M125 826.5h2M127 826.5h1M130 826.5h2M132 826.5h1M135 826.5h2M137 826.5h1M139 826.5h1M142 826.5h1M143 826.5h1M145 826.5h1M146 826.5h2M161 826.5h2M82 829.5h1M102 829.5h1M122 829.5h1M124 829.5h1M125 829.5h2M128 829.5h1M129 829.5h1M130 829.5h2M132 829.5h1M139 829.5h1M144 829.5h1M156 829.5h2M163 829.5h1M81 830.5h1M101 830.5h1M114 830.5h1M115 830.5h2M118 830.5h1M128 830.5h1M134 830.5h1M135 830.5h2M137 830.5h1M138 830.5h1M140 830.5h2M142 830.5h1M155 830.5h1M163 830.5h1M81 831.5h1M114 831.5h1M124 831.5h1M134 831.5h1M138 831.5h1M139 831.5h1M140 831.5h2M142 831.5h1M149 831.5h1M155 831.5h1M159 831.5h1M103 834.5h1M114 834.5h1M124 834.5h1M132 834.5h1M133 834.5h1M134 834.5h1M142 834.5h1M143 834.5h1M144 834.5h1M148 834.5h1M149 834.5h1M155 834.5h1M112 835.5h1M125 835.5h2M132 835.5h1M112 836.5h1M132 836.5h1M137 836.5h1M138 836.5h1M146 836.5h2M148 836.5h1M149 836.5h1M128 839.5h1M133 839.5h1M138 839.5h1M143 839.5h1M144 839.5h1M150 839.5h1M134 840.5h1M139 840.5h1M142 840.5h1M144 840.5h1M143 841.5h1M144 841.5h1M142 844.5h1M138 845.5h1M135 846.5h2M102 856.5h1M106 856.5h1M107 856.5h1"/><path stroke="#3485ba" d="M154 779.5h1M142 782.5h1M133 783.5h1M154 783.5h1M133 784.5h1M143 784.5h1M120 787.5h2M122 787.5h1M133 787.5h1M135 788.5h2M148 789.5h1M138 793.5h1M159 793.5h1M151 794.5h2M133 795.5h1M134 795.5h1M143 795.5h1M148 795.5h1M145 798.5h1M115 799.5h2M119 799.5h1M132 799.5h1M115 800.5h2M117 800.5h1M134 800.5h1M143 800.5h1M114 803.5h1M115 803.5h2M125 803.5h2M127 803.5h1M132 803.5h1M135 803.5h2M153 803.5h1M115 804.5h2M130 804.5h2M146 804.5h2M149 804.5h1M124 805.5h1M133 805.5h1M146 805.5h2M156 805.5h2M108 808.5h1M114 808.5h1M115 808.5h2M119 808.5h1M128 808.5h1M129 808.5h1M139 808.5h1M149 808.5h1M102 809.5h1M119 809.5h1M120 809.5h2M125 809.5h2M128 809.5h1M138 809.5h1M145 809.5h1M118 810.5h1M119 810.5h1M120 810.5h2M128 810.5h1M129 810.5h1M130 810.5h2M138 810.5h1M150 810.5h1M93 813.5h1M107 813.5h1M111 813.5h1M114 813.5h1M128 813.5h1M134 813.5h1M137 813.5h1M139 813.5h1M146 813.5h2M113 814.5h1M127 814.5h1M128 814.5h1M129 814.5h1M134 814.5h1M135 814.5h2M137 814.5h1M138 814.5h1M139 814.5h1M107 815.5h1M109 815.5h2M114 815.5h1M124 815.5h1M125 815.5h2M135 815.5h2M137 815.5h1M139 815.5h1M140 815.5h2M145 815.5h1M154 815.5h1M91 818.5h1M108 818.5h1M109 818.5h2M111 818.5h1M122 818.5h1M125 818.5h2M128 818.5h1M101 819.5h1M108 819.5h1M111 819.5h1M114 819.5h1M117 819.5h1M120 819.5h2M122 819.5h1M135 819.5h2M139 819.5h1M115 820.5h2M119 820.5h1M128 820.5h1M156 820.5h2M92 821.5h1M111 821.5h1M130 821.5h2M94 824.5h2M97 824.5h1M98 824.5h1M112 824.5h1M119 824.5h1M122 824.5h1M130 824.5h2M133 824.5h1M82 825.5h1M88 825.5h1M98 825.5h1M103 825.5h1M104 825.5h2M106 825.5h1M109 825.5h2M111 825.5h1M112 825.5h1M114 825.5h1M127 825.5h1M128 825.5h1M143 825.5h1M86 826.5h1M88 826.5h1M96 826.5h1M97 826.5h1M103 826.5h1M106 826.5h1M107 826.5h1M109 826.5h2M114 826.5h1M128 826.5h1M81 829.5h1M83 829.5h1M84 829.5h2M91 829.5h1M92 829.5h1M93 829.5h1M98 829.5h1M99 829.5h2M101 829.5h1M104 829.5h2M106 829.5h1M108 829.5h1M112 829.5h1M113 829.5h1M119 829.5h1M120 829.5h2M123 829.5h1M127 829.5h1M82 830.5h1M84 830.5h2M87 830.5h1M88 830.5h1M91 830.5h1M92 830.5h1M94 830.5h2M99 830.5h2M104 830.5h2M107 830.5h1M108 830.5h1M111 830.5h1M112 830.5h1M117 830.5h1M119 830.5h1M122 830.5h1M123 830.5h1M125 830.5h2M129 830.5h1M139 830.5h1M146 830.5h2M160 830.5h1M91 831.5h1M94 831.5h2M97 831.5h1M98 831.5h1M99 831.5h2M103 831.5h1M104 831.5h2M107 831.5h1M108 831.5h1M109 831.5h2M111 831.5h1M112 831.5h1M117 831.5h1M119 831.5h1M120 831.5h2M123 831.5h1M125 831.5h2M127 831.5h1M91 834.5h1M98 834.5h1M99 834.5h2M102 834.5h1M107 834.5h1M111 834.5h1M112 834.5h1M115 834.5h2M117 834.5h1M118 834.5h1M119 834.5h1M135 834.5h2M139 834.5h1M92 835.5h1M99 835.5h2M102 835.5h1M103 835.5h1M104 835.5h2M106 835.5h1M107 835.5h1M108 835.5h1M113 835.5h1M114 835.5h1M115 835.5h2M120 835.5h2M122 835.5h1M129 835.5h1M137 835.5h1M81 836.5h1M97 836.5h1M103 836.5h1M104 836.5h2M106 836.5h1M107 836.5h1M108 836.5h1M111 836.5h1M117 836.5h1M119 836.5h1M120 836.5h2M122 836.5h1M123 836.5h1M124 836.5h1M127 836.5h1M128 836.5h1M135 836.5h2M102 839.5h1M107 839.5h1M108 839.5h1M111 839.5h1M112 839.5h1M117 839.5h1M120 839.5h2M129 839.5h1M132 839.5h1M135 839.5h2M137 839.5h1M102 840.5h1M106 840.5h1M108 840.5h1M109 840.5h2M111 840.5h1M112 840.5h1M113 840.5h1M129 840.5h1M132 840.5h1M138 840.5h1M102 841.5h1M104 841.5h2M106 841.5h1M111 841.5h1M134 841.5h1M135 841.5h2M138 841.5h1M140 841.5h2M102 844.5h1M137 844.5h1M138 844.5h1M139 844.5h1M107 845.5h1M134 845.5h1M135 845.5h2M137 845.5h1M134 846.5h1M107 849.5h1M118 849.5h1M127 849.5h1M104 850.5h2M124 850.5h1M125 850.5h2M102 851.5h1M103 851.5h1M120 851.5h2M102 852.5h1M103 852.5h1M115 852.5h2M117 852.5h1M101 855.5h1M102 855.5h1M104 855.5h2M107 855.5h1M108 855.5h1M109 855.5h2M112 855.5h1M101 856.5h1M103 856.5h1M99 857.5h2M102 857.5h1M103 857.5h1"/><path stroke="#3ca08c" d="M88 829.5h1M94 829.5h2M97 829.5h1M111 829.5h1M86 830.5h1M89 830.5h2M97 830.5h1M98 830.5h1M82 831.5h1M83 831.5h1M84 831.5h2M86 831.5h1M87 831.5h1M88 831.5h1M89 831.5h2M92 831.5h1M93 831.5h1M96 831.5h1M106 831.5h1M81 834.5h1M82 834.5h1M89 834.5h2M93 834.5h1M97 834.5h1M106 834.5h1M109 834.5h2M81 835.5h1M82 835.5h1M93 835.5h1M96 835.5h1M97 835.5h1M98 835.5h1M109 835.5h2M83 836.5h1M89 836.5h2M91 836.5h1M94 836.5h2M96 836.5h1M98 836.5h1M99 836.5h2M101 836.5h1M109 836.5h2M114 836.5h1M115 836.5h2M118 836.5h1M96 839.5h1M97 839.5h1M98 839.5h1M99 839.5h2M101 839.5h1M103 839.5h1M114 839.5h1M115 839.5h2M119 839.5h1M122 839.5h1M123 839.5h1M124 839.5h1M125 839.5h2M127 839.5h1M130 839.5h2M96 840.5h1M101 840.5h1M103 840.5h1M104 840.5h2M114 840.5h1M115 840.5h2M117 840.5h1M118 840.5h1M119 840.5h1M120 840.5h2M123 840.5h1M125 840.5h2M127 840.5h1M103 841.5h1M107 841.5h1M109 841.5h2M112 841.5h1M114 841.5h1M115 841.5h2M117 841.5h1M118 841.5h1M119 841.5h1M120 841.5h2M123 841.5h1M124 841.5h1M128 841.5h1M129 841.5h1M130 841.5h2M132 841.5h1M107 844.5h1M108 844.5h1M109 844.5h2M113 844.5h1M114 844.5h1M115 844.5h2M117 844.5h1M118 844.5h1M119 844.5h1M120 844.5h2M122 844.5h1M130 844.5h2M133 844.5h1M134 844.5h1M135 844.5h2M94 845.5h2M113 845.5h1M115 845.5h2M117 845.5h1M118 845.5h1M132 845.5h1M133 845.5h1M104 846.5h2M106 846.5h1M107 846.5h1M108 846.5h1M111 846.5h1M112 846.5h1M115 846.5h2M130 846.5h2M133 846.5h1M98 849.5h1M99 849.5h2M102 849.5h1M103 849.5h1M106 849.5h1M108 849.5h1M109 849.5h2M112 849.5h1M114 849.5h1M115 849.5h2M123 849.5h1M124 849.5h1M125 849.5h2M128 849.5h1M96 850.5h1M98 850.5h1M99 850.5h2M101 850.5h1M102 850.5h1M103 850.5h1M106 850.5h1M107 850.5h1M108 850.5h1M109 850.5h2M111 850.5h1M114 850.5h1M117 850.5h1M118 850.5h1M119 850.5h1M120 850.5h2M122 850.5h1M123 850.5h1M127 850.5h1M97 851.5h1M98 851.5h1M101 851.5h1M104 851.5h2M107 851.5h1M108 851.5h1M109 851.5h2M112 851.5h1M113 851.5h1M114 851.5h1M115 851.5h2M117 851.5h1M118 851.5h1M119 851.5h1M96 852.5h1M99 852.5h2M107 852.5h1M108 852.5h1M109 852.5h2M112 852.5h1M113 852.5h1M114 852.5h1M94 855.5h2M97 855.5h1M98 855.5h1M106 855.5h1M94 856.5h2M96 856.5h1M97 856.5h1M99 856.5h2M96 857.5h1M97 857.5h1M98 857.5h1"/><path stroke="#5ab252" d="M83 834.5h1M84 834.5h2M86 834.5h1M87 834.5h1M88 834.5h1M83 835.5h1M84 835.5h2M86 835.5h1M87 835.5h1M88 835.5h1M89 835.5h2M91 835.5h1M82 836.5h1M84 836.5h2M86 836.5h1M87 836.5h1M88 836.5h1M92 836.5h1M81 839.5h1M82 839.5h1M83 839.5h1M84 839.5h2M89 839.5h2M91 839.5h1M92 839.5h1M93 839.5h1M94 839.5h2M81 840.5h1M84 840.5h2M91 840.5h1M92 840.5h1M94 840.5h2M97 840.5h1M98 840.5h1M99 840.5h2M124 840.5h1M93 841.5h1M96 841.5h1M97 841.5h1M98 841.5h1M99 841.5h2M113 841.5h1M122 841.5h1M127 841.5h1M81 844.5h1M93 844.5h1M94 844.5h2M96 844.5h1M97 844.5h1M98 844.5h1M99 844.5h2M101 844.5h1M104 844.5h2M111 844.5h1M112 844.5h1M123 844.5h1M124 844.5h1M127 844.5h1M128 844.5h1M129 844.5h1M132 844.5h1M93 845.5h1M96 845.5h1M97 845.5h1M98 845.5h1M101 845.5h1M102 845.5h1M103 845.5h1M108 845.5h1M111 845.5h1M112 845.5h1M114 845.5h1M120 845.5h2M123 845.5h1M128 845.5h1M129 845.5h1M130 845.5h2M93 846.5h1M94 846.5h2M96 846.5h1M97 846.5h1M98 846.5h1M99 846.5h2M101 846.5h1M102 846.5h1M103 846.5h1M109 846.5h2M114 846.5h1M117 846.5h1M118 846.5h1M119 846.5h1M120 846.5h2M125 846.5h2M127 846.5h1M128 846.5h1M132 846.5h1M94 849.5h2M96 849.5h1M97 849.5h1M104 849.5h2M111 849.5h1M113 849.5h1M117 849.5h1M119 849.5h1M120 849.5h2M122 849.5h1M94 850.5h2M97 850.5h1M113 850.5h1M115 850.5h2M92 851.5h1M93 851.5h1M94 851.5h2M111 851.5h1M93 852.5h1M94 852.5h2M98 852.5h1M93 855.5h1M99 855.5h2M98 856.5h1M93 857.5h1M94 857.5h2"/><path stroke="#94c83f" d="M86 839.5h1M87 839.5h1M88 839.5h1M82 840.5h1M83 840.5h1M86 840.5h1M87 840.5h1M89 840.5h2M93 840.5h1M83 841.5h1M84 841.5h2M86 841.5h1M87 841.5h1M88 841.5h1M89 841.5h2M91 841.5h1M94 841.5h2M86 844.5h1M91 844.5h1M92 844.5h1M125 844.5h2M91 845.5h1M92 845.5h1M99 845.5h2M119 845.5h1M124 845.5h1M125 845.5h2M127 845.5h1M81 846.5h1M91 846.5h1M113 846.5h1M122 846.5h1M124 846.5h1M129 846.5h1M81 849.5h1M91 849.5h1M92 849.5h1M93 849.5h1M92 850.5h1M93 850.5h1M92 852.5h1M92 855.5h1M92 856.5h1M93 856.5h1M81 857.5h1M91 857.5h1M92 857.5h1"/><path stroke="#f0e137" d="M88 840.5h1M81 841.5h1M82 841.5h1M82 844.5h1M83 844.5h1M84 844.5h2M87 844.5h1M88 844.5h1M89 844.5h2M81 845.5h1M82 845.5h1M83 845.5h1M86 845.5h1M87 845.5h1M88 845.5h1M89 845.5h2M89 846.5h2M92 846.5h1M81 850.5h1M89 850.5h2M91 850.5h1M81 851.5h1M91 851.5h1M91 852.5h1M91 855.5h1M81 856.5h1M91 856.5h1M88 857.5h1"/><path stroke="#f4ab29" d="M84 845.5h2M82 846.5h1M83 846.5h1M86 846.5h1M87 846.5h1M82 849.5h1M88 849.5h1M89 849.5h2M82 850.5h1M83 850.5h1M88 850.5h1M87 851.5h1M88 851.5h1M89 851.5h2M81 852.5h1M87 852.5h1M88 852.5h1M89 852.5h2M81 855.5h1M88 855.5h1M89 855.5h2M82 856.5h1M88 856.5h1M89 856.5h2M82 857.5h1M83 857.5h1M86 857.5h1M87 857.5h1M89 857.5h2"/><path stroke="#ef7020" d="M84 846.5h2M88 846.5h1M83 849.5h1M84 849.5h2M86 849.5h1M84 850.5h2M86 850.5h1M87 850.5h1M82 851.5h1M83 851.5h1M86 851.5h1M84 852.5h2M86 852.5h1M82 855.5h1M86 855.5h1M87 855.5h1M83 856.5h1M84 856.5h2M86 856.5h1M87 856.5h1M84 857.5h2"/><path stroke="#e4321c" d="M87 849.5h1M84 851.5h2M82 852.5h1M83 852.5h1M83 855.5h1M84 855.5h2"/></g>
<g stroke-width="2" fill="none"><path stroke="#384698" d="M210 626h1M156 683h2M196 693h1M211 704h1M114 730h1M138 735h1M186 735h1M222 735h1M173 740h1M112 771h1M175 776h1M171 781h2M91 797h1M182 797h2M202 802h2M87 807h1"/><path stroke="#3851a4" d="M236 606h1M204 621h1M149 662h1M190 662h1M194 683h1M159 693h1M163 704h1M160 709h1M177 709h2M216 709h1M148 714h1M96 719h1M206 719h1M133 724h1M160 724h1M165 724h1M191 724h1M124 730h1M168 730h1M175 730h1M112 735h1M125 735h2M143 735h1M150 735h1M156 735h2M163 735h1M127 740h1M130 740h2M155 740h1M171 740h2M191 740h1M119 745h1M153 745h1M163 745h1M166 745h2M134 750h1M144 750h1M151 750h2M160 750h1M165 750h1M175 750h1M200 750h1M101 755h1M119 755h1M120 755h2M123 755h1M148 755h1M154 755h1M159 755h1M175 755h1M109 761h2M120 761h2M129 761h1M133 761h1M140 761h2M145 761h1M155 761h1M168 761h1M187 761h2M103 766h1M113 766h1M123 766h1M130 766h2M146 766h2M158 766h1M160 766h1M169 766h1M189 766h1M101 771h1M120 771h2M163 771h1M170 771h1M210 771h1M137 776h1M139 776h1M158 776h1M199 776h1M246 776h1M107 781h1M114 781h1M145 781h1M186 781h1M191 781h1M195 781h1M196 781h1M89 786h2M97 786h1M98 786h1M99 786h2M111 786h1M123 786h1M128 786h1M154 786h1M177 786h2M181 786h1M163 792h1M184 792h1M187 792h2M190 792h1M112 797h1M122 797h1M125 797h2M127 797h1M155 797h1M165 797h1M173 797h1M177 797h2M200 797h1M86 802h1M89 802h2M98 802h1M108 802h1M113 802h1M122 802h1M156 802h2M81 807h1M89 807h2M93 807h1M96 807h1M113 807h1M151 807h2M159 807h1M181 807h1M84 812h2M101 812h1M104 812h2M156 812h2M175 812h1M99 817h2M112 817h1M169 817h1M115 823h2M139 823h1M151 823h2M165 828h1M187 828h2M129 833h1M144 833h1M156 838h2M159 838h1"/><path stroke="#385cb0" d="M155 730h1M173 745h1M125 761h2M128 761h1M154 761h1M144 766h1M148 766h1M168 766h1M170 766h1M180 766h1M96 771h1M133 771h1M151 771h2M169 771h1M118 776h1M119 776h1M123 776h1M128 776h1M134 776h1M155 776h1M160 776h1M132 781h1M133 781h1M142 781h1M144 781h1M148 781h1M150 781h1M151 781h2M154 781h1M155 781h1M165 781h1M109 786h2M118 786h1M120 786h2M133 786h1M135 786h2M143 786h1M148 786h1M153 786h1M117 792h1M122 792h1M130 792h2M133 792h1M134 792h1M139 792h1M140 792h2M149 792h1M151 792h2M159 792h1M160 792h1M102 797h1M103 797h1M108 797h1M119 797h1M123 797h1M135 797h2M142 797h1M143 797h1M148 797h1M153 797h1M166 797h2M93 802h1M97 802h1M107 802h1M114 802h1M115 802h2M117 802h1M125 802h2M132 802h1M134 802h1M135 802h2M139 802h1M151 802h2M158 802h1M159 802h1M99 807h2M102 807h1M104 807h2M114 807h1M118 807h1M119 807h1M120 807h2M123 807h1M130 807h2M132 807h1M133 807h1M134 807h1M135 807h2M139 807h1M143 807h1M146 807h2M148 807h1M149 807h1M154 807h1M89 812h2M91 812h1M93 812h1M98 812h1M99 812h2M106 812h1M109 812h2M111 812h1M120 812h2M130 812h2M138 812h1M139 812h1M144 812h1M148 812h1M149 812h1M150 812h1M153 812h1M160 812h1M96 817h1M98 817h1M102 817h1M103 817h1M106 817h1M107 817h1M117 817h1M118 817h1M120 817h2M122 817h1M123 817h1M124 817h1M127 817h1M128 817h1M134 817h1M140 817h2M146 817h2M150 817h1M156 817h2M158 817h1M164 817h1M94 823h2M97 823h1M106 823h1M111 823h1M112 823h1M118 823h1M120 823h2M122 823h1M124 823h1M125 823h2M128 823h1M146 823h2M150 823h1M176 823h1M81 828h1M86 828h1M94 828h2M106 828h1M115 828h2M118 828h1M124 828h1M129 828h1M135 828h2M142 828h1M143 828h1M146 828h2M148 828h1M155 828h1M163 828h1M101 833h1M120 833h2M133 833h1M135 833h2M138 833h1M140 833h2M149 833h1M150 833h1M153 833h1M156 833h2M112 838h1M128 838h1M135 838h2M148 838h1M142 843h1M143 843h1M145 843h1M113 854h1M101 859h1"/><path stroke="#3485ba" d="M113 786h1M134 786h1M132 792h1M114 797h1M115 797h2M134 797h1M144 797h1M145 797h1M127 802h1M128 802h1M129 802h1M130 802h2M153 802h1M154 802h1M106 807h1M107 807h1M108 807h1M122 807h1M124 807h1M128 807h1M129 807h1M140 807h2M142 807h1M144 807h1M115 812h2M118 812h1M119 812h1M123 812h1M124 812h1M128 812h1M129 812h1M133 812h1M109 817h2M114 817h1M130 817h2M137 817h1M138 817h1M139 817h1M142 817h1M92 823h1M119 823h1M129 823h1M130 823h2M133 823h1M135 823h2M137 823h1M82 828h1M88 828h1M89 828h2M92 828h1M93 828h1M97 828h1M102 828h1M103 828h1M104 828h2M107 828h1M109 828h2M111 828h1M112 828h1M120 828h2M122 828h1M128 828h1M81 833h1M83 833h1M91 833h1M99 833h2M102 833h1M103 833h1M104 833h2M106 833h1M107 833h1M108 833h1M109 833h2M112 833h1M117 833h1M122 833h1M128 833h1M106 838h1M107 838h1M108 838h1M113 838h1M114 838h1M118 838h1M120 838h2M122 838h1M123 838h1M125 838h2M129 838h1M137 838h1M106 843h1M109 843h2M128 843h1M134 843h1M135 843h2M137 843h1M138 843h1M139 843h1M102 854h1M103 854h1M106 854h1M108 854h1M114 854h1M94 859h2M96 859h1M98 859h1"/><path stroke="#3ca08c" d="M125 812h2M91 828h1M125 828h2M84 833h2M86 833h1M88 833h1M89 833h2M93 833h1M94 833h2M96 833h1M97 833h1M94 838h2M97 838h1M98 838h1M99 838h2M101 838h1M102 838h1M119 838h1M127 838h1M101 843h1M103 843h1M104 843h2M107 843h1M108 843h1M111 843h1M115 843h2M117 843h1M118 843h1M119 843h1M123 843h1M129 843h1M130 843h2M132 843h1M133 843h1M97 848h1M102 848h1M104 848h2M106 848h1M107 848h1M108 848h1M109 848h2M113 848h1M114 848h1M115 848h2M128 848h1M130 848h2M132 848h1M96 854h1M97 854h1M98 854h1M99 854h2M101 854h1M107 854h1M109 854h2M111 854h1M112 854h1M92 859h1M97 859h1"/><path stroke="#5ab252" d="M87 833h1M81 838h1M82 838h1M83 838h1M86 838h1M87 838h1M88 838h1M89 838h2M91 838h1M92 838h1M93 838h1M117 838h1M92 843h1M93 843h1M94 843h2M97 843h1M98 843h1M112 843h1M113 843h1M114 843h1M120 843h2M122 843h1M124 843h1M125 843h2M127 843h1M93 848h1M94 848h2M96 848h1M99 848h2M101 848h1M103 848h1M111 848h1M112 848h1M117 848h1M118 848h1M119 848h1M120 848h2M122 848h1M123 848h1M125 848h2M127 848h1M81 859h1"/><path stroke="#94c83f" d="M84 838h2M81 843h1M82 843h1M88 843h1M91 843h1M96 843h1M124 848h1M89 859h2M91 859h1"/><path stroke="#f0e137" d="M83 843h1M84 843h2M86 843h1M87 843h1M89 843h2M81 848h1M89 848h2M91 848h1M92 848h1M91 854h1M92 854h1M82 859h1M83 859h1M84 859h2M87 859h1M88 859h1"/><path stroke="#f4ab29" d="M82 848h1M83 848h1M87 848h1M88 848h1M81 854h1M88 854h1M89 854h2M86 859h1"/><path stroke="#ef7020" d="M84 848h2M86 848h1M82 854h1M84 854h2M86 854h1M87 854h1"/><path stroke="#e4321c" d="M83 854h1"/></g>
<rect x="141.2" y="655.4" width="175.7" height="99.1" fill="#fff" opacity="0.8"/>
<rect x="79.5" y="544.7" width="317.8" height="317.3" fill="none" stroke="#4d4d4d" stroke-width="1.25"/>
<path d="M70.5 861H79.5M70.5 785.7H79.5M70.5 710.4H79.5M70.5 635.1H79.5M70.5 559.8H79.5" stroke="#000" stroke-width="2.8" fill="none"/>
<path d="M75.5 842.2H79.5M75.5 823.4H79.5M75.5 804.5H79.5M75.5 766.9H79.5M75.5 748H79.5M75.5 729.2H79.5M75.5 691.6H79.5M75.5 672.8H79.5M75.5 653.9H79.5M75.5 616.3H79.5M75.5 597.5H79.5M75.5 578.6H79.5" stroke="#000" stroke-width="1.5" fill="none"/>
<text class="t" x="61.5" y="790" text-anchor="end" textLength="22.4" lengthAdjust="spacingAndGlyphs">1.0M</text>
<text class="t" x="61.5" y="714.7" text-anchor="end" textLength="22.4" lengthAdjust="spacingAndGlyphs">2.0M</text>
<text class="t" x="61.5" y="639.4" text-anchor="end" textLength="22.4" lengthAdjust="spacingAndGlyphs">3.0M</text>
<text class="t" x="61.5" y="564.1" text-anchor="end" textLength="22.4" lengthAdjust="spacingAndGlyphs">4.0M</text>
<text class="t" x="64.5" y="859.7" text-anchor="end">0</text>
<path d="M80.2 862V870.7M155.2 862V870.7M230.2 862V870.7M305.2 862V870.7M380.2 862V870.7" stroke="#000" stroke-width="2.8" fill="none"/>
<path d="M99 862V866M117.7 862V866M136.4 862V866M173.9 862V866M192.7 862V866M211.4 862V866M248.9 862V866M267.7 862V866M286.4 862V866M323.9 862V866M342.7 862V866M361.4 862V866" stroke="#000" stroke-width="1.5" fill="none"/>
<text class="t" x="153.5" y="883.9" text-anchor="middle" textLength="22.4" lengthAdjust="spacingAndGlyphs">1.0M</text>
<text class="t" x="228.5" y="883.9" text-anchor="middle" textLength="22.4" lengthAdjust="spacingAndGlyphs">2.0M</text>
<text class="t" x="303.5" y="883.9" text-anchor="middle" textLength="22.4" lengthAdjust="spacingAndGlyphs">3.0M</text>
<text class="t" x="378.5" y="883.9" text-anchor="middle" textLength="22.4" lengthAdjust="spacingAndGlyphs">4.0M</text>
<text class="t" x="81.3" y="883.9" text-anchor="middle">0</text>
<polygon points="84.3,553.5 357.4,553.5 374,567.7 369.5,842.8 112.4,856.2 91.8,803.7" fill="none" stroke="#000" stroke-width="2.1" stroke-linejoin="miter"/>
<text x="141.09" y="694.2" class="g" textLength="167.55" lengthAdjust="spacingAndGlyphs">Lymphocytes</text>
<text x="199.14" y="733.3" class="g" textLength="52.9" lengthAdjust="spacingAndGlyphs">40.8</text>
<text x="204.02" y="923.3" class="a" textLength="54.8" lengthAdjust="spacingAndGlyphs">FSC-A</text>
<text class="v" transform="translate(16.2 736.89) rotate(-90)" textLength="55.29" lengthAdjust="spacingAndGlyphs">SSC-A</text>
<g stroke-width="1" fill="none"><path stroke="#384698" d="M675 742.5h1M706 746.5h1M675 747.5h1M683 751.5h2M693 752.5h2M678 756.5h2M681 762.5h1M635 763.5h1M662 763.5h2M626 768.5h2M633 768.5h1M665 768.5h1M641 773.5h1M621 774.5h2M623 774.5h1M673 774.5h2M619 777.5h1M633 777.5h1M667 777.5h2M615 778.5h1M641 778.5h1M614 779.5h1M615 779.5h1M645 779.5h1M603 783.5h1M626 783.5h2M605 784.5h2M634 784.5h1M657 784.5h2M619 787.5h1M610 788.5h1M584 789.5h1M588 789.5h1M613 790.5h1M615 790.5h1M652 790.5h2M624 793.5h1M628 793.5h1M609 794.5h1M625 795.5h1M554 799.5h2M559 799.5h2M599 799.5h1M603 799.5h1M669 799.5h1M607 800.5h1M616 800.5h2M605 803.5h2M598 804.5h1M620 804.5h1M595 805.5h2M607 805.5h1M599 808.5h1M623 808.5h1M541 810.5h1M583 810.5h1M593 810.5h1M578 814.5h1M576 815.5h1M584 815.5h1M578 818.5h1M527 820.5h1M574 820.5h2M579 820.5h1M574 821.5h2M605 821.5h2M571 824.5h1M540 825.5h1M566 825.5h1M552 835.5h1M578 836.5h1M525 840.5h1M528 849.5h2M520 850.5h1M520 852.5h1M522 852.5h1"/><path stroke="#3851a4" d="M670 751.5h1M669 759.5h1M661 764.5h1M670 767.5h1M623 772.5h1M624 773.5h1M631 773.5h2M614 774.5h1M624 774.5h1M625 774.5h1M665 774.5h1M614 777.5h1M616 777.5h2M669 777.5h1M608 778.5h1M609 778.5h1M610 778.5h1M614 778.5h1M616 778.5h2M610 779.5h1M613 779.5h1M592 782.5h1M603 782.5h1M609 782.5h1M610 782.5h1M614 782.5h1M604 783.5h1M610 783.5h1M611 783.5h2M625 783.5h1M641 783.5h1M600 784.5h2M602 784.5h1M603 784.5h1M608 784.5h1M609 784.5h1M613 784.5h1M599 787.5h1M603 787.5h1M598 788.5h1M599 788.5h1M603 788.5h1M605 788.5h2M609 788.5h1M604 789.5h1M607 789.5h1M608 789.5h1M593 790.5h1M595 790.5h2M600 793.5h2M602 793.5h1M641 793.5h1M687 793.5h1M583 794.5h1M584 794.5h1M598 794.5h1M625 794.5h1M647 794.5h2M582 795.5h1M584 795.5h1M599 795.5h1M657 795.5h2M580 798.5h2M595 798.5h2M599 798.5h1M577 799.5h1M582 799.5h1M594 799.5h1M577 800.5h1M598 800.5h1M592 803.5h1M593 803.5h1M613 803.5h1M571 805.5h1M572 805.5h1M554 808.5h2M566 808.5h1M585 808.5h2M564 809.5h2M580 809.5h2M559 813.5h2M577 813.5h1M580 813.5h2M583 813.5h1M584 813.5h1M585 813.5h2M625 813.5h1M576 814.5h1M583 815.5h1M647 815.5h2M552 818.5h1M571 818.5h1M587 818.5h1M571 819.5h1M549 820.5h2M542 825.5h1M532 834.5h1M547 835.5h1M546 836.5h1M520 844.5h1M535 844.5h1M520 846.5h1M531 846.5h1M532 846.5h1M554 846.5h2M520 849.5h1M520 851.5h1"/><path stroke="#385cb0" d="M613 777.5h1M611 782.5h2M599 783.5h1M600 787.5h2M602 787.5h1M608 787.5h1M609 787.5h1M597 788.5h1M600 788.5h2M602 788.5h1M594 789.5h1M597 789.5h1M599 789.5h1M600 789.5h2M602 789.5h1M603 789.5h1M600 790.5h2M605 790.5h2M592 793.5h1M593 793.5h1M594 793.5h1M595 793.5h2M598 793.5h1M603 793.5h1M589 794.5h1M595 794.5h2M597 794.5h1M599 794.5h1M585 795.5h2M588 795.5h1M593 795.5h1M597 795.5h1M603 795.5h1M584 798.5h1M585 798.5h2M594 798.5h1M592 799.5h1M593 799.5h1M578 800.5h1M579 800.5h1M580 800.5h2M582 800.5h1M592 800.5h1M593 800.5h1M589 803.5h1M590 803.5h2M573 804.5h1M585 804.5h2M587 804.5h1M574 805.5h2M583 805.5h1M584 805.5h1M585 805.5h2M568 808.5h1M580 808.5h2M582 808.5h1M566 809.5h1M567 809.5h1M566 810.5h1M558 814.5h1M573 814.5h1M584 814.5h1M558 815.5h1M572 815.5h1M553 818.5h1M569 818.5h2M568 819.5h1M566 821.5h1M542 826.5h1M554 829.5h2M557 829.5h1M554 830.5h2M552 831.5h1M533 834.5h2M549 834.5h2M530 836.5h1M527 839.5h1M526 840.5h1M538 840.5h2M541 840.5h1M526 841.5h1M522 844.5h1M523 844.5h2M532 844.5h1M522 845.5h1M530 845.5h1M521 846.5h1M522 846.5h1M528 846.5h2M523 849.5h2M525 849.5h1M521 850.5h1M522 850.5h1M525 850.5h1"/><path stroke="#3485ba" d="M598 790.5h1M599 790.5h1M602 790.5h1M590 793.5h2M599 793.5h1M590 794.5h2M593 794.5h1M589 795.5h1M590 795.5h2M592 795.5h1M594 795.5h1M595 795.5h2M592 798.5h1M584 799.5h1M585 799.5h2M583 800.5h1M588 800.5h1M590 800.5h2M577 803.5h1M578 803.5h1M579 803.5h1M580 803.5h2M582 803.5h1M583 803.5h1M584 803.5h1M585 803.5h2M587 803.5h1M588 803.5h1M576 804.5h1M579 804.5h1M580 804.5h2M583 804.5h1M584 804.5h1M577 805.5h1M569 808.5h2M578 808.5h1M568 809.5h1M569 809.5h2M577 810.5h1M579 810.5h1M563 813.5h1M564 813.5h2M572 813.5h1M573 813.5h1M574 813.5h2M561 814.5h1M562 814.5h1M571 815.5h1M554 818.5h2M554 819.5h2M567 819.5h1M552 820.5h1M566 820.5h1M567 820.5h1M549 821.5h2M564 821.5h2M547 824.5h1M561 824.5h1M559 825.5h2M540 829.5h1M532 835.5h1M546 835.5h1M528 839.5h2M542 839.5h1M527 840.5h1M540 840.5h1M525 844.5h1M526 844.5h1M525 845.5h1M526 845.5h1M527 845.5h1M528 845.5h2M525 846.5h1M526 846.5h1M522 849.5h1"/><path stroke="#3ca08c" d="M594 794.5h1M587 798.5h1M588 798.5h1M590 798.5h2M587 799.5h1M588 799.5h1M589 799.5h1M590 799.5h2M584 800.5h1M585 800.5h2M587 800.5h1M589 800.5h1M578 804.5h1M582 804.5h1M576 805.5h1M578 805.5h1M579 805.5h1M580 805.5h2M582 805.5h1M571 808.5h1M572 808.5h1M577 808.5h1M579 808.5h1M568 810.5h1M571 810.5h1M572 810.5h1M574 810.5h2M576 810.5h1M563 814.5h1M571 814.5h1M572 814.5h1M559 815.5h2M561 815.5h1M569 815.5h2M556 818.5h1M553 819.5h1M553 820.5h1M564 820.5h2M551 821.5h1M559 824.5h2M546 825.5h1M545 826.5h1M541 829.5h1M540 830.5h1M551 830.5h1M552 830.5h1M538 831.5h2M551 831.5h1M535 834.5h1M547 834.5h1M545 835.5h1M532 836.5h1M543 836.5h2M530 839.5h1M537 839.5h1M540 839.5h1M528 840.5h2M536 840.5h1M537 840.5h1M527 841.5h1M528 841.5h2M535 841.5h1M536 841.5h1M527 844.5h1M528 844.5h2M530 844.5h1M531 844.5h1M531 845.5h1M523 846.5h2"/><path stroke="#5ab252" d="M589 798.5h1M573 808.5h1M574 808.5h2M576 808.5h1M571 809.5h1M572 809.5h1M573 809.5h1M574 809.5h2M576 809.5h1M577 809.5h1M569 810.5h2M573 810.5h1M566 813.5h1M569 813.5h2M571 813.5h1M564 814.5h2M562 815.5h1M557 818.5h1M567 818.5h1M556 819.5h1M552 821.5h1M562 821.5h1M563 821.5h1M548 824.5h1M547 825.5h1M558 825.5h1M557 826.5h1M542 829.5h1M548 831.5h1M549 831.5h2M536 834.5h1M546 834.5h1M533 835.5h2M535 835.5h1M533 836.5h2M535 836.5h1M542 836.5h1M531 839.5h1M538 839.5h2M530 840.5h1M533 840.5h2M535 840.5h1M533 841.5h2"/><path stroke="#94c83f" d="M567 813.5h1M568 813.5h1M568 814.5h1M569 814.5h2M563 815.5h1M568 815.5h1M562 818.5h1M566 818.5h1M557 819.5h1M554 820.5h2M563 820.5h1M553 821.5h1M558 824.5h1M557 825.5h1M556 826.5h1M551 829.5h1M552 829.5h1M541 830.5h1M549 830.5h2M540 831.5h1M537 834.5h1M545 834.5h1M536 835.5h1M543 835.5h2M536 836.5h1M541 836.5h1M532 839.5h1M533 839.5h2M535 839.5h1M536 839.5h1M531 840.5h1M532 840.5h1"/><path stroke="#f0e137" d="M566 814.5h1M567 814.5h1M564 815.5h2M566 815.5h1M567 815.5h1M558 818.5h1M559 818.5h2M561 818.5h1M563 818.5h1M564 818.5h2M558 819.5h1M561 819.5h1M562 819.5h1M563 819.5h1M564 819.5h2M556 820.5h1M562 820.5h1M559 821.5h2M561 821.5h1M549 824.5h2M551 824.5h1M548 825.5h1M546 826.5h1M547 826.5h1M554 826.5h2M543 829.5h2M549 829.5h2M542 830.5h1M546 830.5h1M548 830.5h1M547 831.5h1M538 834.5h2M537 835.5h1M541 835.5h1M537 836.5h1M540 836.5h1M530 841.5h1M531 841.5h1M532 841.5h1"/><path stroke="#f4ab29" d="M559 819.5h2M557 820.5h1M559 820.5h2M561 820.5h1M554 821.5h2M556 821.5h1M557 821.5h1M558 821.5h1M557 824.5h1M556 825.5h1M548 826.5h1M545 829.5h1M546 829.5h1M548 829.5h1M543 830.5h2M545 830.5h1M541 831.5h1M542 831.5h1M545 831.5h1M546 831.5h1M543 834.5h2M538 835.5h2M540 835.5h1M542 835.5h1M538 836.5h2"/><path stroke="#ef7020" d="M558 820.5h1M552 824.5h1M556 824.5h1M549 825.5h2M554 825.5h2M551 826.5h1M552 826.5h1M553 826.5h1M547 829.5h1M547 830.5h1M543 831.5h2M540 834.5h1M541 834.5h1M542 834.5h1"/><path stroke="#e4321c" d="M553 824.5h1M554 824.5h2M551 825.5h1M552 825.5h1M553 825.5h1M549 826.5h2"/></g>
<g stroke-width="2" fill="none"><path stroke="#384698" d="M636 761h2M662 771h2M625 776h1M630 776h1M626 781h2M647 781h2M662 786h2M660 792h1M582 797h1M598 797h1M630 797h1M664 802h1M563 807h1M609 807h1M558 812h1M580 812h2M573 817h1M589 817h1M569 823h2M580 823h2M525 833h1"/><path stroke="#3851a4" d="M635 761h1M630 766h1M623 771h1M613 776h1M616 776h2M619 776h1M623 776h1M610 781h1M613 781h1M599 786h1M603 786h1M607 786h1M608 786h1M610 786h1M628 786h1M629 786h1M630 786h1M585 792h2M590 792h2M597 792h1M604 792h1M657 792h2M672 792h1M584 797h1M597 797h1M639 797h1M577 802h1M578 802h1M569 807h2M561 812h1M562 812h1M578 812h1M590 812h2M646 812h1M554 817h2M545 823h1M540 828h1M563 833h1M587 833h1M536 843h1M537 843h1M520 848h1M527 848h1M530 848h1"/><path stroke="#385cb0" d="M609 786h1M592 792h1M594 792h1M595 792h2M599 792h1M603 792h1M587 797h1M595 797h2M579 802h1M571 807h1M582 807h1M577 812h1M564 823h2M541 828h1M557 828h1M558 828h1M535 833h1M551 833h1M522 843h1M523 843h2M526 843h1M521 848h1M526 848h1"/><path stroke="#3485ba" d="M598 792h1M585 797h2M588 797h1M589 797h1M590 797h2M592 797h1M594 797h1M582 802h1M583 802h1M585 802h2M587 802h1M579 807h1M580 807h2M564 812h2M557 817h1M548 823h1M563 823h1M533 833h2M549 833h2M530 838h1M543 838h2M525 843h1M533 843h2M522 848h1M523 848h2M525 848h1"/><path stroke="#3ca08c" d="M593 797h1M584 802h1M588 802h1M572 807h1M573 807h1M574 807h2M576 807h1M577 807h1M578 807h1M566 812h1M567 812h1M572 812h1M573 812h1M574 812h2M569 817h2M562 823h1M542 828h1M537 833h1M548 833h1M542 838h1"/><path stroke="#5ab252" d="M568 812h1M558 817h1M559 817h2M561 817h1M567 817h1M568 817h1M549 823h2M561 823h1M554 828h2M547 833h1M531 838h1M532 838h1M538 838h2M541 838h1M527 843h1M528 843h2M530 843h1M532 843h1"/><path stroke="#94c83f" d="M569 812h2M571 812h1M562 817h1M551 823h1M559 823h2M543 828h2M545 828h1M553 828h1M538 833h2M533 838h2M535 838h1M536 838h1M537 838h1M531 843h1"/><path stroke="#f0e137" d="M563 817h1M564 817h2M566 817h1M552 823h1M558 823h1M545 833h1M546 833h1M540 838h1"/><path stroke="#f4ab29" d="M546 828h1M551 828h1M552 828h1M540 833h1"/><path stroke="#ef7020" d="M556 823h1M557 823h1M547 828h1M548 828h1M541 833h1M542 833h1M543 833h2"/><path stroke="#e4321c" d="M553 823h1M554 823h2M549 828h2"/></g>
<rect x="580" y="671.2" width="150.2" height="100.2" fill="#fff" opacity="0.8"/>
<rect x="507.3" y="544.7" width="317.3" height="317.3" fill="none" stroke="#4d4d4d" stroke-width="1.25"/>
<path d="M498.3 861H507.3M498.3 785.7H507.3M498.3 710.4H507.3M498.3 635.1H507.3M498.3 559.8H507.3" stroke="#000" stroke-width="2.8" fill="none"/>
<path d="M503.3 842.2H507.3M503.3 823.4H507.3M503.3 804.5H507.3M503.3 766.9H507.3M503.3 748H507.3M503.3 729.2H507.3M503.3 691.6H507.3M503.3 672.8H507.3M503.3 653.9H507.3M503.3 616.3H507.3M503.3 597.5H507.3M503.3 578.6H507.3" stroke="#000" stroke-width="1.5" fill="none"/>
<text class="t" x="489.3" y="790" text-anchor="end" textLength="22.4" lengthAdjust="spacingAndGlyphs">1.0M</text>
<text class="t" x="489.3" y="714.7" text-anchor="end" textLength="22.4" lengthAdjust="spacingAndGlyphs">2.0M</text>
<text class="t" x="489.3" y="639.4" text-anchor="end" textLength="22.4" lengthAdjust="spacingAndGlyphs">3.0M</text>
<text class="t" x="489.3" y="564.1" text-anchor="end" textLength="22.4" lengthAdjust="spacingAndGlyphs">4.0M</text>
<text class="t" x="492.3" y="859.7" text-anchor="end">0</text>
<path d="M508 862V870.7M583 862V870.7M658 862V870.7M733 862V870.7M808 862V870.7" stroke="#000" stroke-width="2.8" fill="none"/>
<path d="M526.8 862V866M545.5 862V866M564.2 862V866M601.8 862V866M620.5 862V866M639.2 862V866M676.8 862V866M695.5 862V866M714.2 862V866M751.8 862V866M770.5 862V866M789.2 862V866" stroke="#000" stroke-width="1.5" fill="none"/>
<text class="t" x="581.3" y="883.9" text-anchor="middle" textLength="22.4" lengthAdjust="spacingAndGlyphs">1.0M</text>
<text class="t" x="656.3" y="883.9" text-anchor="middle" textLength="22.4" lengthAdjust="spacingAndGlyphs">2.0M</text>
<text class="t" x="731.3" y="883.9" text-anchor="middle" textLength="22.4" lengthAdjust="spacingAndGlyphs">3.0M</text>
<text class="t" x="806.3" y="883.9" text-anchor="middle" textLength="22.4" lengthAdjust="spacingAndGlyphs">4.0M</text>
<text class="t" x="509.1" y="883.9" text-anchor="middle">0</text>
<polygon points="514.2,742.9 672.5,584.1 799.7,625.8 519.1,856.7" fill="none" stroke="#000" stroke-width="2.1" stroke-linejoin="miter"/>
<text x="581.05" y="710" class="g" textLength="140.85" lengthAdjust="spacingAndGlyphs">Single Cells</text>
<text x="627.4" y="750.2" class="g" textLength="52.84" lengthAdjust="spacingAndGlyphs">87.4</text>
<text x="630.9" y="923.3" class="a" textLength="55.42" lengthAdjust="spacingAndGlyphs">FSC-A</text>
<text class="v" transform="translate(443.3 736.29) rotate(-90)" textLength="56.19" lengthAdjust="spacingAndGlyphs">FSC-H</text>
<g stroke-width="1" fill="none"><path stroke="#384698" d="M1048 753.5h2M1059 759.5h2M1038 762.5h2M1043 763.5h2M1047 763.5h1M1033 764.5h2M1035 764.5h1M1045 764.5h1M1048 764.5h2M1050 764.5h1M1038 767.5h2M1032 768.5h1M1043 768.5h2M1046 768.5h1M1051 768.5h1M1056 768.5h1M1026 769.5h1M1042 769.5h1M1022 772.5h1M1038 772.5h2M1022 773.5h1M1022 774.5h1M1026 774.5h1M1025 777.5h1M1036 777.5h1M1016 778.5h1M1022 779.5h1M1032 782.5h1M1014 783.5h1M1005 789.5h1M1021 789.5h1M1001 790.5h1M994 793.5h1M1022 795.5h1M1012 799.5h2M1012 805.5h2M980 809.5h1M1002 809.5h2M978 810.5h1M997 813.5h2M996 814.5h1M997 814.5h2M974 815.5h1M970 819.5h1M991 821.5h1M965 826.5h1M955 831.5h2M939 855.5h1M939 857.5h1"/><path stroke="#3851a4" d="M1050 756.5h1M1046 758.5h1M1047 759.5h1M1052 762.5h1M1031 768.5h1M1033 768.5h2M1035 768.5h1M1045 768.5h1M1047 768.5h1M1030 769.5h1M1031 769.5h1M1041 769.5h1M1023 772.5h2M1027 772.5h1M1030 772.5h1M1033 772.5h2M1035 772.5h1M1040 772.5h1M1051 772.5h1M1026 773.5h1M1027 773.5h1M1031 773.5h1M1033 773.5h2M1037 773.5h1M1043 773.5h2M1017 774.5h2M1023 774.5h2M1025 774.5h1M1028 774.5h2M1031 774.5h1M1032 774.5h1M1033 774.5h2M1035 774.5h1M1023 777.5h2M1027 777.5h1M1028 777.5h2M1030 777.5h1M1031 777.5h1M1033 777.5h2M1015 778.5h1M1020 778.5h1M1022 778.5h1M1025 778.5h1M1026 778.5h1M1035 778.5h1M1019 779.5h1M1023 779.5h2M1025 779.5h1M1028 779.5h2M1033 779.5h2M1005 782.5h1M1014 782.5h1M1015 782.5h1M1023 782.5h2M1026 782.5h1M1028 782.5h2M1007 783.5h2M1009 783.5h1M1010 783.5h1M1010 784.5h1M1028 784.5h2M1005 787.5h1M1007 787.5h2M1010 787.5h1M1021 787.5h1M1025 787.5h1M1028 787.5h2M1002 788.5h2M1025 788.5h1M1011 789.5h1M1005 790.5h1M1007 790.5h2M1017 790.5h2M1020 790.5h1M1022 790.5h1M1023 790.5h2M1002 793.5h2M1021 793.5h1M999 794.5h1M1000 794.5h1M1020 794.5h1M1017 795.5h2M1020 795.5h1M996 798.5h1M1012 798.5h2M1010 799.5h1M1014 799.5h1M991 800.5h1M992 800.5h2M995 800.5h1M1007 800.5h2M1011 800.5h1M1007 803.5h2M990 804.5h1M1006 804.5h1M1001 808.5h1M985 809.5h1M999 809.5h1M1000 810.5h1M980 813.5h1M995 813.5h1M976 814.5h2M978 815.5h1M992 815.5h2M994 815.5h1M989 819.5h1M968 824.5h1M981 826.5h2M963 829.5h1M975 830.5h1M978 830.5h1M975 831.5h1M948 841.5h1M947 844.5h1M943 850.5h1M942 851.5h1M940 852.5h2M938 856.5h1"/><path stroke="#385cb0" d="M1030 773.5h1M1036 774.5h1M1026 777.5h1M1032 778.5h1M1021 779.5h1M1026 779.5h1M1027 779.5h1M1017 782.5h2M1019 782.5h1M1022 782.5h1M1027 782.5h1M1015 783.5h1M1016 783.5h1M1020 783.5h1M1021 783.5h1M1023 783.5h2M1026 783.5h1M1030 783.5h1M1014 784.5h1M1015 784.5h1M1021 784.5h1M1022 784.5h1M1023 784.5h2M1025 784.5h1M1026 784.5h1M1011 787.5h1M1014 787.5h1M1020 787.5h1M1022 787.5h1M1023 787.5h2M1011 788.5h1M1012 788.5h2M1017 788.5h2M1019 788.5h1M1020 788.5h1M1021 788.5h1M1022 788.5h1M1006 789.5h1M1014 789.5h1M1015 789.5h1M1019 789.5h1M1020 789.5h1M1009 790.5h1M1010 790.5h1M1011 790.5h1M1012 790.5h2M1015 790.5h1M1004 793.5h1M1005 793.5h1M1006 793.5h1M1010 793.5h1M1015 793.5h1M1016 793.5h1M1001 794.5h1M1005 794.5h1M1010 794.5h1M1011 794.5h1M1015 794.5h1M1016 794.5h1M999 795.5h1M1000 795.5h1M1001 795.5h1M1004 795.5h1M1005 795.5h1M1006 795.5h1M1012 795.5h2M1015 795.5h1M999 798.5h1M1000 798.5h1M1007 798.5h2M1009 798.5h1M1010 798.5h1M992 799.5h2M997 799.5h2M1005 799.5h1M997 800.5h2M1000 800.5h1M992 803.5h2M995 803.5h1M1005 803.5h1M1006 803.5h1M1009 803.5h1M992 804.5h2M995 804.5h1M1005 804.5h1M986 805.5h2M990 805.5h1M1005 805.5h1M1006 805.5h1M989 808.5h1M997 808.5h2M1000 808.5h1M984 809.5h1M986 809.5h2M997 809.5h2M1000 809.5h1M1001 809.5h1M983 810.5h1M985 810.5h1M996 810.5h1M999 810.5h1M979 813.5h1M991 813.5h1M992 813.5h2M994 813.5h1M991 814.5h1M989 818.5h1M988 819.5h1M973 820.5h1M986 820.5h2M984 821.5h1M985 821.5h1M969 824.5h1M974 830.5h1M959 834.5h1M970 834.5h1M961 841.5h2M959 844.5h1M955 846.5h2M948 851.5h1M949 851.5h1M942 852.5h1M944 852.5h1M947 852.5h1"/><path stroke="#3485ba" d="M1020 782.5h1M1021 782.5h1M1017 783.5h2M1022 783.5h1M1016 784.5h1M1019 784.5h1M1020 784.5h1M1012 787.5h2M1015 787.5h1M1016 787.5h1M1017 787.5h2M1014 788.5h1M1015 788.5h1M1016 788.5h1M1012 789.5h2M1016 789.5h1M1014 790.5h1M1019 790.5h1M1007 793.5h2M1009 793.5h1M1011 793.5h1M1012 793.5h2M1014 793.5h1M1006 794.5h1M1009 794.5h1M1002 795.5h2M1007 795.5h2M1009 795.5h1M1010 795.5h1M1011 795.5h1M1001 798.5h1M1002 798.5h2M1004 798.5h1M1005 798.5h1M1006 798.5h1M999 799.5h1M1000 799.5h1M1002 799.5h2M1006 799.5h1M1007 799.5h2M1009 799.5h1M999 800.5h1M994 803.5h1M996 803.5h1M1000 803.5h1M1004 803.5h1M991 804.5h1M994 804.5h1M1004 804.5h1M991 805.5h1M992 805.5h2M994 805.5h1M1001 805.5h1M1002 805.5h2M1004 805.5h1M999 808.5h1M988 809.5h1M989 809.5h1M994 809.5h1M995 809.5h1M996 809.5h1M986 810.5h2M990 810.5h1M994 810.5h1M995 810.5h1M983 813.5h1M984 813.5h1M988 813.5h1M981 814.5h2M983 814.5h1M979 815.5h1M980 815.5h1M991 815.5h1M986 819.5h2M973 821.5h1M970 824.5h1M981 824.5h2M968 825.5h1M969 825.5h1M979 825.5h1M978 826.5h1M979 826.5h1M964 829.5h1M965 829.5h1M975 829.5h1M964 830.5h1M961 831.5h2M964 831.5h1M971 831.5h2M973 831.5h1M969 834.5h1M957 835.5h1M968 835.5h1M954 836.5h1M955 836.5h2M965 836.5h1M963 840.5h1M960 841.5h1M958 844.5h1M947 845.5h1M945 846.5h2M944 849.5h1M944 851.5h1M945 851.5h2M947 851.5h1M943 852.5h1M945 852.5h2"/><path stroke="#3ca08c" d="M1007 794.5h2M1001 799.5h1M1004 799.5h1M1001 800.5h1M1002 800.5h2M1004 800.5h1M1005 800.5h1M997 803.5h2M999 803.5h1M1001 803.5h1M996 804.5h1M997 804.5h2M999 804.5h1M1000 804.5h1M1001 804.5h1M1002 804.5h2M995 805.5h1M996 805.5h1M997 805.5h2M999 805.5h1M990 808.5h1M991 808.5h1M992 808.5h2M995 808.5h1M996 808.5h1M990 809.5h1M991 809.5h1M988 810.5h1M989 810.5h1M991 810.5h1M985 813.5h1M986 813.5h2M989 813.5h1M990 813.5h1M985 814.5h1M986 814.5h2M989 814.5h1M990 814.5h1M981 815.5h2M988 815.5h1M989 815.5h1M990 815.5h1M976 818.5h2M986 818.5h2M988 818.5h1M984 820.5h1M974 821.5h1M980 825.5h1M976 826.5h2M974 829.5h1M965 830.5h1M973 830.5h1M963 831.5h1M960 834.5h1M958 835.5h1M965 835.5h1M966 835.5h2M957 836.5h1M961 839.5h2M963 839.5h1M961 840.5h2M948 844.5h1M957 845.5h1M947 846.5h1M954 846.5h1M945 849.5h2M952 849.5h1M945 850.5h2M947 850.5h1M948 850.5h1M949 850.5h1M943 851.5h1"/><path stroke="#5ab252" d="M1002 803.5h2M994 808.5h1M992 809.5h2M984 814.5h1M988 814.5h1M983 815.5h1M978 818.5h1M985 818.5h1M976 819.5h2M984 819.5h1M985 819.5h1M975 820.5h1M983 820.5h1M975 821.5h1M971 824.5h2M973 824.5h1M980 824.5h1M970 825.5h1M973 825.5h1M976 825.5h2M978 825.5h1M969 826.5h1M974 826.5h1M966 829.5h2M963 834.5h1M966 834.5h2M968 834.5h1M964 835.5h1M964 836.5h1M953 840.5h1M960 840.5h1M950 841.5h2M957 844.5h1M948 845.5h1M955 845.5h2M947 849.5h1M950 849.5h2"/><path stroke="#94c83f" d="M984 815.5h1M985 815.5h1M986 815.5h2M979 818.5h1M984 818.5h1M978 819.5h1M979 819.5h1M983 819.5h1M981 821.5h2M975 824.5h1M978 824.5h1M979 824.5h1M971 825.5h2M974 825.5h1M975 825.5h1M970 826.5h1M971 826.5h2M975 826.5h1M971 829.5h2M973 829.5h1M966 830.5h2M971 830.5h2M965 831.5h1M970 831.5h1M961 834.5h2M964 834.5h1M965 834.5h1M959 835.5h1M961 835.5h2M963 835.5h1M958 836.5h1M963 836.5h1M954 839.5h1M959 841.5h1M949 844.5h1M948 846.5h1M948 849.5h1M949 849.5h1"/><path stroke="#f0e137" d="M980 818.5h1M981 818.5h2M983 818.5h1M980 819.5h1M981 819.5h2M976 820.5h2M978 820.5h1M979 820.5h1M981 820.5h2M976 821.5h2M979 821.5h1M980 821.5h1M974 824.5h1M976 824.5h2M973 826.5h1M968 829.5h1M970 829.5h1M968 830.5h1M970 830.5h1M966 831.5h2M968 831.5h1M969 831.5h1M960 835.5h1M959 836.5h1M960 836.5h1M960 839.5h1M954 840.5h1M959 840.5h1M952 841.5h1M953 841.5h1M955 844.5h2M949 845.5h1M953 846.5h1"/><path stroke="#f4ab29" d="M980 820.5h1M978 821.5h1M969 829.5h1M969 830.5h1M961 836.5h2M955 839.5h2M957 839.5h1M958 841.5h1M950 844.5h2M954 844.5h1M950 845.5h2M954 845.5h1M949 846.5h1M952 846.5h1"/><path stroke="#ef7020" d="M958 839.5h1M959 839.5h1M955 840.5h2M958 840.5h1M954 841.5h1M952 845.5h1M953 845.5h1M950 846.5h2"/><path stroke="#e4321c" d="M957 840.5h1M955 841.5h2M957 841.5h1M952 844.5h1M953 844.5h1"/></g>
<g stroke-width="2" fill="none"><path stroke="#384698" d="M1042 761h1M1036 771h1M1032 781h1M1031 786h1M1033 786h2M1009 802h1M1010 802h1M1001 812h1M997 817h2M986 823h2"/><path stroke="#3851a4" d="M1040 766h1M1048 766h2M1028 771h2M1032 771h1M1038 771h2M1015 776h1M1022 776h1M1028 776h2M1031 776h1M1036 776h1M1009 781h1M1015 781h1M1017 781h2M1019 781h1M1021 781h1M1023 781h2M1026 781h1M1025 786h1M1004 792h1M995 797h1M996 797h1M999 797h1M1014 797h1M994 802h1M1006 802h1M989 807h1M1004 807h1M980 812h1M981 812h2M996 812h1M1000 812h1M975 817h1M995 817h1M970 823h1M939 854h1M947 854h1"/><path stroke="#385cb0" d="M1041 766h1M1035 776h1M1016 781h1M1020 781h1M1028 781h2M1012 786h2M1015 786h1M1017 786h2M1019 786h1M1020 786h1M1022 786h1M1023 786h2M1026 786h1M1027 786h1M1028 786h2M1005 792h1M1009 792h1M1010 792h1M1016 792h1M1017 792h2M1021 792h1M997 797h2M1000 797h1M1011 797h1M991 802h1M995 802h1M996 802h1M1005 802h1M1007 802h2M988 807h1M990 807h1M1000 807h1M1001 807h1M1005 807h1M983 812h1M984 812h1M976 817h2M990 817h1M991 817h1M992 817h2M983 823h1M984 823h1M978 828h1M971 833h2M944 848h1M942 854h1M943 854h1"/><path stroke="#3485ba" d="M1014 786h1M1016 786h1M1006 792h1M1007 792h2M1011 792h1M1012 792h2M1002 797h2M1004 797h1M1005 797h1M1006 797h1M1007 797h2M1009 797h1M1010 797h1M997 802h2M999 802h1M1001 802h1M994 807h1M996 807h1M997 807h2M999 807h1M1002 807h2M985 812h1M986 812h2M991 812h1M994 812h1M995 812h1M979 817h1M989 817h1M975 828h1M960 833h1M970 833h1M949 843h1M945 848h2M953 848h1"/><path stroke="#3ca08c" d="M1000 802h1M1002 802h2M1004 802h1M991 807h1M995 807h1M989 812h1M990 812h1M992 812h2M988 817h1M971 823h2M973 823h1M966 828h2M961 833h2M964 838h1M959 843h1"/><path stroke="#5ab252" d="M988 812h1M980 817h1M986 817h2M980 823h1M981 823h2M968 828h1M974 828h1M963 833h1M968 833h1M955 838h2M963 838h1"/><path stroke="#94c83f" d="M981 817h2M983 817h1M984 817h1M985 817h1M974 823h1M975 823h1M978 823h1M979 823h1M969 828h1M973 828h1M964 833h1M969 833h1M961 838h2M947 848h1M948 848h1M952 848h1"/><path stroke="#f0e137" d="M976 823h2M965 833h1M966 833h2M957 838h1M960 838h1M950 843h2M958 843h1M950 848h2"/><path stroke="#f4ab29" d="M970 828h1M971 828h2M957 843h1M949 848h1"/><path stroke="#ef7020" d="M958 838h1M952 843h1M954 843h1M955 843h2"/><path stroke="#e4321c" d="M959 838h1M953 843h1"/></g>
<rect x="1014.7" y="668" width="149.7" height="99.9" fill="#fff" opacity="0.8"/>
<rect x="934.2" y="544.7" width="317.3" height="317.3" fill="none" stroke="#4d4d4d" stroke-width="1.25"/>
<path d="M925.2 861H934.2M925.2 785.7H934.2M925.2 710.4H934.2M925.2 635.1H934.2M925.2 559.8H934.2" stroke="#000" stroke-width="2.8" fill="none"/>
<path d="M930.2 842.2H934.2M930.2 823.4H934.2M930.2 804.5H934.2M930.2 766.9H934.2M930.2 748H934.2M930.2 729.2H934.2M930.2 691.6H934.2M930.2 672.8H934.2M930.2 653.9H934.2M930.2 616.3H934.2M930.2 597.5H934.2M930.2 578.6H934.2" stroke="#000" stroke-width="1.5" fill="none"/>
<text class="t" x="916.2" y="790" text-anchor="end" textLength="22.4" lengthAdjust="spacingAndGlyphs">1.0M</text>
<text class="t" x="916.2" y="714.7" text-anchor="end" textLength="22.4" lengthAdjust="spacingAndGlyphs">2.0M</text>
<text class="t" x="916.2" y="639.4" text-anchor="end" textLength="22.4" lengthAdjust="spacingAndGlyphs">3.0M</text>
<text class="t" x="916.2" y="564.1" text-anchor="end" textLength="22.4" lengthAdjust="spacingAndGlyphs">4.0M</text>
<text class="t" x="919.2" y="859.7" text-anchor="end">0</text>
<path d="M934.9 862V870.7M1009.9 862V870.7M1084.9 862V870.7M1159.9 862V870.7M1234.9 862V870.7" stroke="#000" stroke-width="2.8" fill="none"/>
<path d="M953.7 862V866M972.4 862V866M991.2 862V866M1028.7 862V866M1047.4 862V866M1066.2 862V866M1103.7 862V866M1122.4 862V866M1141.2 862V866M1178.7 862V866M1197.4 862V866M1216.2 862V866" stroke="#000" stroke-width="1.5" fill="none"/>
<text class="t" x="1008.2" y="883.9" text-anchor="middle" textLength="22.4" lengthAdjust="spacingAndGlyphs">1.0M</text>
<text class="t" x="1083.2" y="883.9" text-anchor="middle" textLength="22.4" lengthAdjust="spacingAndGlyphs">2.0M</text>
<text class="t" x="1158.2" y="883.9" text-anchor="middle" textLength="22.4" lengthAdjust="spacingAndGlyphs">3.0M</text>
<text class="t" x="1233.2" y="883.9" text-anchor="middle" textLength="22.4" lengthAdjust="spacingAndGlyphs">4.0M</text>
<text class="t" x="936" y="883.9" text-anchor="middle">0</text>
<polygon points="954.3,719.3 1042.1,612.2 1190.7,575.2 1239.5,613.8 945.2,859.4" fill="none" stroke="#000" stroke-width="2.1" stroke-linejoin="miter"/>
<text x="1015.75" y="706.8" class="g" textLength="140.34" lengthAdjust="spacingAndGlyphs">Single Cells</text>
<text x="1062.56" y="746.7" class="g" textLength="52.99" lengthAdjust="spacingAndGlyphs">95.2</text>
<text x="1057.52" y="923.3" class="a" textLength="54.98" lengthAdjust="spacingAndGlyphs">SSC-A</text>
<text class="v" transform="translate(870.6 736.69) rotate(-90)" textLength="56.55" lengthAdjust="spacingAndGlyphs">SSC-H</text>
<g stroke-width="1" fill="none"><path stroke="#384698" d="M1511 588.5h1M1533 596.5h1M1495 603.5h1M1498 604.5h2M1545 608.5h2M1557 612.5h1M1462 619.5h2M1440 622.5h1M1477 622.5h1M1490 623.5h1M1490 627.5h1M1443 628.5h1M1444 628.5h1M1466 628.5h1M1441 629.5h2M1459 629.5h1M1436 632.5h2M1465 632.5h1M1474 632.5h1M1487 632.5h1M1440 633.5h1M1446 633.5h1M1476 633.5h1M1445 634.5h1M1460 634.5h1M1431 635.5h2M1477 635.5h1M1498 635.5h2M1519 635.5h2M1439 638.5h1M1544 638.5h1M1548 638.5h1M1574 638.5h1M1492 639.5h1M1539 639.5h1M1486 640.5h1M1538 640.5h1M1555 643.5h2M1413 644.5h1M1425 644.5h1M1485 644.5h1M1491 644.5h1M1521 644.5h1M1522 644.5h1M1536 644.5h1M1547 644.5h1M1419 645.5h1M1423 645.5h1M1428 645.5h1M1502 645.5h1M1517 645.5h1M1532 645.5h1M1590 645.5h1M1416 648.5h2M1425 648.5h1M1533 648.5h1M1555 648.5h2M1557 648.5h1M1425 649.5h1M1522 649.5h1M1536 649.5h1M1540 649.5h2M1426 650.5h2M1503 650.5h2M1514 650.5h2M1521 650.5h1M1545 650.5h2M1550 650.5h2M1553 650.5h1M1555 650.5h2M1429 653.5h1M1497 653.5h1M1506 653.5h1M1517 653.5h1M1519 653.5h2M1431 654.5h2M1496 654.5h1M1507 654.5h1M1536 654.5h1M1560 654.5h2M1584 654.5h1M1588 654.5h1M1430 655.5h1M1513 655.5h1M1516 655.5h1M1521 655.5h1M1559 655.5h1M1415 658.5h1M1491 658.5h1M1513 658.5h1M1522 658.5h1M1549 658.5h1M1558 658.5h1M1565 658.5h2M1569 658.5h1M1581 658.5h2M1588 658.5h1M1428 659.5h1M1493 659.5h2M1496 659.5h1M1507 659.5h1M1559 659.5h1M1562 659.5h1M1578 659.5h1M1491 660.5h1M1501 660.5h1M1512 660.5h1M1533 660.5h1M1545 660.5h2M1560 660.5h2M1573 660.5h1M1495 663.5h1M1514 663.5h2M1583 663.5h1M1424 664.5h1M1431 664.5h2M1495 664.5h1M1500 664.5h1M1505 664.5h1M1562 664.5h1M1570 664.5h1M1580 664.5h1M1584 664.5h1M1429 665.5h1M1485 665.5h1M1558 665.5h1M1560 665.5h2M1565 665.5h2M1576 665.5h2M1579 665.5h1M1423 666.5h1M1482 666.5h1M1493 666.5h2M1506 666.5h1M1507 666.5h1M1517 666.5h1M1583 666.5h1M1428 669.5h1M1492 669.5h1M1500 669.5h1M1571 669.5h2M1584 669.5h1M1428 670.5h1M1433 670.5h1M1439 670.5h1M1478 670.5h2M1573 670.5h1M1586 670.5h2M1433 671.5h1M1488 671.5h2M1584 671.5h1M1477 674.5h1M1584 674.5h1M1434 675.5h1M1464 675.5h1M1472 675.5h2M1476 675.5h1M1481 675.5h1M1512 675.5h1M1573 675.5h1M1466 676.5h1M1517 676.5h1M1555 676.5h2M1571 676.5h2M1431 679.5h2M1441 679.5h2M1450 679.5h1M1456 679.5h1M1461 679.5h1M1465 679.5h1M1516 679.5h1M1574 679.5h1M1445 680.5h1M1471 680.5h1M1480 680.5h1M1580 680.5h1M1486 681.5h1M1509 681.5h2M1454 684.5h1M1503 684.5h2M1509 684.5h2M1521 684.5h1M1565 684.5h2M1570 684.5h1M1575 684.5h1M1496 685.5h1M1508 685.5h1M1511 685.5h1M1513 685.5h1M1558 685.5h1M1570 685.5h1M1445 686.5h1M1460 686.5h1M1500 686.5h1M1517 686.5h1M1540 686.5h2M1578 686.5h1M1557 689.5h1M1456 690.5h1M1508 690.5h1M1517 690.5h1M1519 690.5h2M1447 691.5h2M1451 691.5h1M1466 691.5h1M1565 691.5h2M1569 691.5h1M1573 691.5h1M1462 694.5h2M1513 694.5h1M1521 694.5h1M1447 695.5h2M1450 695.5h1M1459 695.5h1M1472 695.5h2M1477 695.5h1M1511 695.5h1M1569 695.5h1M1454 696.5h1M1462 696.5h2M1465 696.5h1M1474 696.5h1M1482 696.5h1M1558 696.5h1M1444 697.5h1M1450 697.5h1M1478 697.5h2M1571 697.5h2M1439 700.5h1M1460 700.5h1M1465 700.5h1M1555 700.5h2M1574 700.5h1M1441 701.5h2M1445 701.5h1M1451 701.5h1M1455 701.5h1M1464 701.5h1M1469 701.5h1M1476 701.5h1M1507 701.5h1M1513 701.5h1M1521 701.5h1M1526 701.5h1M1532 701.5h1M1439 702.5h1M1450 702.5h1M1485 702.5h1M1505 702.5h1M1562 702.5h1M1573 702.5h1M1450 705.5h1M1451 705.5h1M1480 705.5h1M1485 705.5h1M1563 705.5h1M1471 706.5h1M1549 706.5h1M1569 706.5h1M1404 707.5h1M1476 707.5h1M1488 707.5h2M1495 707.5h1M1497 707.5h1M1558 707.5h1M1562 707.5h1M1567 707.5h1M1430 710.5h1M1434 710.5h1M1470 710.5h1M1436 711.5h2M1480 711.5h1M1503 711.5h2M1567 711.5h1M1477 712.5h1M1505 712.5h1M1559 712.5h1M1568 712.5h1M1471 715.5h1M1509 715.5h2M1513 715.5h1M1555 715.5h2M1562 715.5h1M1431 716.5h2M1454 716.5h1M1492 716.5h1M1501 716.5h1M1567 716.5h1M1571 716.5h2M1438 717.5h1M1467 717.5h2M1497 717.5h1M1568 717.5h1M1570 717.5h1M1428 720.5h1M1439 720.5h1M1466 720.5h1M1486 720.5h1M1491 720.5h1M1568 720.5h1M1430 721.5h1M1435 721.5h1M1492 721.5h1M1500 721.5h1M1433 722.5h1M1439 722.5h1M1467 722.5h2M1509 722.5h2M1571 722.5h2M1574 722.5h1M1507 725.5h1M1563 725.5h1M1570 725.5h1M1571 725.5h2M1426 726.5h2M1429 726.5h1M1438 726.5h1M1496 726.5h1M1506 726.5h1M1580 726.5h1M1485 727.5h1M1516 727.5h1M1568 727.5h1M1571 727.5h2M1574 727.5h1M1434 728.5h1M1511 728.5h1M1570 728.5h1M1579 728.5h1M1470 731.5h1M1487 731.5h1M1496 731.5h1M1507 731.5h1M1508 731.5h1M1436 732.5h2M1490 732.5h1M1496 732.5h1M1511 732.5h1M1559 732.5h1M1568 732.5h1M1570 732.5h1M1575 732.5h1M1576 732.5h2M1431 733.5h2M1435 733.5h1M1487 733.5h1M1501 733.5h1M1521 733.5h1M1540 733.5h2M1549 733.5h1M1490 736.5h1M1513 736.5h1M1522 736.5h1M1570 736.5h1M1578 736.5h1M1580 736.5h1M1418 737.5h1M1431 737.5h2M1490 737.5h1M1514 737.5h2M1523 737.5h1M1528 737.5h1M1536 737.5h1M1429 738.5h1M1445 738.5h1M1521 738.5h1M1549 738.5h1M1557 738.5h1M1509 741.5h2M1512 741.5h1M1522 741.5h1M1529 741.5h2M1544 741.5h1M1568 741.5h1M1446 742.5h1M1491 742.5h1M1522 742.5h1M1539 742.5h1M1571 742.5h2M1436 743.5h2M1490 743.5h1M1509 743.5h2M1529 743.5h2M1531 743.5h1M1536 743.5h1M1554 743.5h1M1565 743.5h2M1434 746.5h1M1482 746.5h1M1509 746.5h2M1533 746.5h1M1542 746.5h1M1554 746.5h1M1560 746.5h2M1433 747.5h1M1483 747.5h2M1498 747.5h2M1519 747.5h2M1526 747.5h1M1529 747.5h2M1439 748.5h1M1482 748.5h1M1487 748.5h1M1528 748.5h1M1532 748.5h1M1552 748.5h1M1567 748.5h1M1568 748.5h1M1435 751.5h1M1438 751.5h1M1441 751.5h2M1519 751.5h2M1540 751.5h2M1544 751.5h1M1554 751.5h1M1567 751.5h1M1480 752.5h1M1531 752.5h1M1542 752.5h1M1555 752.5h2M1567 752.5h1M1445 753.5h1M1533 753.5h1M1445 756.5h1M1450 756.5h1M1456 756.5h1M1548 756.5h1M1447 757.5h2M1449 757.5h1M1454 757.5h1M1486 757.5h1M1527 757.5h1M1532 757.5h1M1428 758.5h1M1459 758.5h1M1474 758.5h1M1539 758.5h1M1434 759.5h1M1450 762.5h1M1454 762.5h1M1472 762.5h2M1500 762.5h1M1466 763.5h1M1481 763.5h1M1542 763.5h1M1445 764.5h1M1445 767.5h1M1483 767.5h2M1464 769.5h1M1456 772.5h1M1471 772.5h1"/><path stroke="#3851a4" d="M1471 627.5h1M1451 628.5h1M1461 628.5h1M1464 628.5h1M1471 628.5h1M1450 629.5h1M1454 629.5h1M1464 629.5h1M1469 629.5h1M1470 629.5h1M1452 632.5h2M1455 632.5h1M1481 633.5h1M1435 634.5h1M1466 634.5h1M1467 634.5h2M1472 634.5h2M1481 634.5h1M1482 634.5h1M1434 635.5h1M1441 635.5h2M1454 635.5h1M1455 635.5h1M1456 635.5h1M1466 635.5h1M1472 635.5h2M1482 635.5h1M1433 638.5h1M1434 638.5h1M1440 638.5h1M1444 638.5h1M1446 638.5h1M1450 638.5h1M1459 638.5h1M1464 638.5h1M1467 638.5h2M1470 638.5h1M1471 638.5h1M1478 638.5h2M1481 638.5h1M1483 638.5h2M1485 638.5h1M1443 639.5h1M1449 639.5h1M1456 639.5h1M1457 639.5h2M1459 639.5h1M1472 639.5h2M1474 639.5h1M1476 639.5h1M1477 639.5h1M1478 639.5h2M1482 639.5h1M1433 640.5h1M1443 640.5h1M1445 640.5h1M1447 640.5h2M1450 640.5h1M1451 640.5h1M1454 640.5h1M1455 640.5h1M1460 640.5h1M1462 640.5h2M1472 640.5h2M1478 640.5h2M1480 640.5h1M1482 640.5h1M1485 640.5h1M1428 643.5h1M1429 643.5h1M1430 643.5h1M1433 643.5h1M1435 643.5h1M1440 643.5h1M1441 643.5h2M1443 643.5h1M1454 643.5h1M1455 643.5h1M1457 643.5h2M1459 643.5h1M1461 643.5h1M1469 643.5h1M1471 643.5h1M1472 643.5h2M1569 643.5h1M1571 643.5h2M1576 643.5h2M1436 644.5h2M1446 644.5h1M1447 644.5h2M1449 644.5h1M1452 644.5h2M1461 644.5h1M1471 644.5h1M1476 644.5h1M1477 644.5h1M1482 644.5h1M1492 644.5h1M1526 644.5h1M1565 644.5h2M1569 644.5h1M1571 644.5h2M1574 644.5h1M1576 644.5h2M1578 644.5h1M1581 644.5h2M1430 645.5h1M1436 645.5h2M1440 645.5h1M1445 645.5h1M1451 645.5h1M1478 645.5h2M1480 645.5h1M1481 645.5h1M1483 645.5h2M1493 645.5h2M1578 645.5h1M1579 645.5h1M1430 648.5h1M1434 648.5h1M1441 648.5h2M1478 648.5h2M1480 648.5h1M1483 648.5h2M1485 648.5h1M1487 648.5h1M1495 648.5h1M1527 648.5h1M1564 648.5h1M1571 648.5h2M1583 648.5h1M1430 649.5h1M1433 649.5h1M1436 649.5h2M1439 649.5h1M1441 649.5h2M1477 649.5h1M1480 649.5h1M1482 649.5h1M1493 649.5h2M1496 649.5h1M1527 649.5h1M1562 649.5h1M1563 649.5h1M1570 649.5h1M1571 649.5h2M1578 649.5h1M1580 649.5h1M1430 650.5h1M1433 650.5h1M1441 650.5h2M1477 650.5h1M1480 650.5h1M1495 650.5h1M1526 650.5h1M1533 650.5h1M1539 650.5h1M1563 650.5h1M1564 650.5h1M1569 650.5h1M1578 650.5h1M1420 653.5h1M1435 653.5h1M1438 653.5h1M1481 653.5h1M1482 653.5h1M1485 653.5h1M1486 653.5h1M1488 653.5h2M1490 653.5h1M1524 653.5h2M1532 653.5h1M1533 653.5h1M1568 653.5h1M1570 653.5h1M1580 653.5h1M1478 654.5h2M1482 654.5h1M1492 654.5h1M1516 654.5h1M1526 654.5h1M1547 654.5h1M1550 654.5h2M1569 654.5h1M1570 654.5h1M1573 654.5h1M1580 654.5h1M1423 655.5h1M1428 655.5h1M1439 655.5h1M1440 655.5h1M1480 655.5h1M1524 655.5h2M1540 655.5h2M1543 655.5h1M1547 655.5h1M1568 655.5h1M1573 655.5h1M1575 655.5h1M1576 655.5h2M1424 658.5h1M1426 658.5h2M1429 658.5h1M1431 658.5h2M1433 658.5h1M1438 658.5h1M1477 658.5h1M1483 658.5h2M1488 658.5h2M1527 658.5h1M1531 658.5h1M1536 658.5h1M1537 658.5h1M1544 658.5h1M1421 659.5h2M1424 659.5h1M1431 659.5h2M1439 659.5h1M1440 659.5h1M1444 659.5h1M1478 659.5h2M1480 659.5h1M1527 659.5h1M1531 659.5h1M1536 659.5h1M1538 659.5h1M1543 659.5h1M1553 659.5h1M1555 659.5h2M1571 659.5h2M1423 660.5h1M1424 660.5h1M1425 660.5h1M1439 660.5h1M1440 660.5h1M1475 660.5h1M1476 660.5h1M1481 660.5h1M1482 660.5h1M1486 660.5h1M1521 660.5h1M1529 660.5h2M1540 660.5h2M1552 660.5h1M1554 660.5h1M1433 663.5h1M1434 663.5h1M1440 663.5h1M1444 663.5h1M1476 663.5h1M1480 663.5h1M1481 663.5h1M1486 663.5h1M1521 663.5h1M1523 663.5h1M1528 663.5h1M1531 663.5h1M1534 663.5h2M1537 663.5h1M1543 663.5h1M1547 663.5h1M1549 663.5h1M1552 663.5h1M1559 663.5h1M1436 664.5h2M1438 664.5h1M1443 664.5h1M1446 664.5h1M1451 664.5h1M1455 664.5h1M1459 664.5h1M1474 664.5h1M1477 664.5h1M1480 664.5h1M1490 664.5h1M1509 664.5h2M1519 664.5h2M1521 664.5h1M1527 664.5h1M1536 664.5h1M1538 664.5h1M1542 664.5h1M1545 664.5h2M1547 664.5h1M1548 664.5h1M1553 664.5h1M1555 664.5h2M1571 664.5h2M1574 664.5h1M1440 665.5h1M1443 665.5h1M1445 665.5h1M1447 665.5h2M1452 665.5h2M1460 665.5h1M1475 665.5h1M1490 665.5h1M1511 665.5h1M1512 665.5h1M1513 665.5h1M1533 665.5h1M1540 665.5h2M1544 665.5h1M1550 665.5h2M1436 666.5h2M1439 666.5h1M1440 666.5h1M1441 666.5h2M1443 666.5h1M1452 666.5h2M1454 666.5h1M1456 666.5h1M1460 666.5h1M1474 666.5h1M1476 666.5h1M1477 666.5h1M1478 666.5h2M1488 666.5h2M1491 666.5h1M1533 666.5h1M1536 666.5h1M1538 666.5h1M1547 666.5h1M1549 666.5h1M1550 666.5h2M1554 666.5h1M1555 666.5h2M1445 669.5h1M1449 669.5h1M1452 669.5h2M1462 669.5h2M1466 669.5h1M1467 669.5h2M1469 669.5h1M1475 669.5h1M1480 669.5h1M1482 669.5h1M1486 669.5h1M1487 669.5h1M1511 669.5h1M1514 669.5h2M1517 669.5h1M1529 669.5h2M1532 669.5h1M1544 669.5h1M1552 669.5h1M1554 669.5h1M1564 669.5h1M1444 670.5h1M1447 670.5h2M1450 670.5h1M1457 670.5h2M1459 670.5h1M1460 670.5h1M1465 670.5h1M1467 670.5h2M1472 670.5h2M1474 670.5h1M1481 670.5h1M1485 670.5h1M1518 670.5h1M1521 670.5h1M1522 670.5h1M1534 670.5h2M1536 670.5h1M1538 670.5h1M1549 670.5h1M1553 670.5h1M1555 670.5h2M1557 670.5h1M1558 670.5h1M1559 670.5h1M1564 670.5h1M1565 670.5h2M1567 670.5h1M1439 671.5h1M1444 671.5h1M1446 671.5h1M1449 671.5h1M1461 671.5h1M1467 671.5h2M1474 671.5h1M1475 671.5h1M1482 671.5h1M1512 671.5h1M1513 671.5h1M1517 671.5h1M1519 671.5h2M1526 671.5h1M1540 671.5h2M1542 671.5h1M1553 671.5h1M1559 671.5h1M1567 671.5h1M1568 671.5h1M1570 671.5h1M1585 671.5h1M1435 674.5h1M1440 674.5h1M1462 674.5h2M1480 674.5h1M1486 674.5h1M1522 674.5h1M1527 674.5h1M1531 674.5h1M1543 674.5h1M1545 674.5h2M1549 674.5h1M1553 674.5h1M1557 674.5h1M1563 674.5h1M1564 674.5h1M1568 674.5h1M1471 675.5h1M1527 675.5h1M1528 675.5h1M1529 675.5h2M1532 675.5h1M1534 675.5h2M1538 675.5h1M1550 675.5h2M1552 675.5h1M1558 675.5h1M1565 675.5h2M1569 675.5h1M1581 675.5h2M1438 676.5h1M1439 676.5h1M1444 676.5h1M1455 676.5h1M1531 676.5h1M1542 676.5h1M1568 676.5h1M1569 676.5h1M1477 679.5h1M1509 679.5h2M1511 679.5h1M1512 679.5h1M1531 679.5h1M1532 679.5h1M1533 679.5h1M1539 679.5h1M1542 679.5h1M1543 679.5h1M1544 679.5h1M1547 679.5h1M1549 679.5h1M1562 679.5h1M1567 679.5h1M1568 679.5h1M1569 679.5h1M1475 680.5h1M1512 680.5h1M1517 680.5h1M1521 680.5h1M1522 680.5h1M1526 680.5h1M1527 680.5h1M1529 680.5h2M1531 680.5h1M1532 680.5h1M1536 680.5h1M1538 680.5h1M1540 680.5h2M1543 680.5h1M1547 680.5h1M1548 680.5h1M1553 680.5h1M1555 680.5h2M1557 680.5h1M1563 680.5h1M1564 680.5h1M1569 680.5h1M1474 681.5h1M1518 681.5h1M1519 681.5h2M1524 681.5h2M1529 681.5h2M1533 681.5h1M1540 681.5h2M1545 681.5h2M1550 681.5h2M1553 681.5h1M1563 681.5h1M1564 681.5h1M1575 681.5h1M1519 684.5h2M1523 684.5h1M1528 684.5h1M1531 684.5h1M1536 684.5h1M1540 684.5h2M1542 684.5h1M1545 684.5h2M1552 684.5h1M1523 685.5h1M1526 685.5h1M1527 685.5h1M1529 685.5h2M1531 685.5h1M1532 685.5h1M1534 685.5h2M1536 685.5h1M1543 685.5h1M1544 685.5h1M1548 685.5h1M1549 685.5h1M1563 685.5h1M1564 685.5h1M1531 686.5h1M1537 686.5h1M1548 686.5h1M1552 686.5h1M1554 686.5h1M1562 686.5h1M1564 686.5h1M1459 689.5h1M1460 689.5h1M1527 689.5h1M1528 689.5h1M1531 689.5h1M1532 689.5h1M1538 689.5h1M1542 689.5h1M1547 689.5h1M1552 689.5h1M1553 689.5h1M1564 689.5h1M1565 689.5h2M1524 690.5h2M1528 690.5h1M1529 690.5h2M1531 690.5h1M1537 690.5h1M1539 690.5h1M1543 690.5h1M1547 690.5h1M1549 690.5h1M1555 690.5h2M1522 691.5h1M1531 691.5h1M1532 691.5h1M1536 691.5h1M1538 691.5h1M1544 691.5h1M1547 691.5h1M1553 691.5h1M1555 691.5h2M1558 691.5h1M1559 691.5h1M1560 691.5h2M1562 691.5h1M1456 694.5h1M1517 694.5h1M1522 694.5h1M1526 694.5h1M1528 694.5h1M1532 694.5h1M1534 694.5h2M1537 694.5h1M1540 694.5h2M1550 694.5h2M1557 694.5h1M1456 695.5h1M1533 695.5h1M1537 695.5h1M1539 695.5h1M1544 695.5h1M1545 695.5h2M1553 695.5h1M1563 695.5h1M1449 696.5h1M1472 696.5h2M1517 696.5h1M1518 696.5h1M1527 696.5h1M1540 696.5h2M1542 696.5h1M1544 696.5h1M1547 696.5h1M1549 696.5h1M1553 696.5h1M1562 696.5h1M1440 697.5h1M1454 697.5h1M1513 697.5h1M1514 697.5h2M1523 697.5h1M1537 697.5h1M1542 697.5h1M1545 697.5h2M1549 697.5h1M1562 697.5h1M1565 697.5h2M1567 697.5h1M1568 697.5h1M1528 700.5h1M1536 700.5h1M1539 700.5h1M1542 700.5h1M1548 700.5h1M1550 700.5h2M1552 700.5h1M1564 700.5h1M1567 700.5h1M1517 701.5h1M1534 701.5h2M1537 701.5h1M1539 701.5h1M1543 701.5h1M1549 701.5h1M1563 701.5h1M1457 702.5h2M1470 702.5h1M1471 702.5h1M1518 702.5h1M1532 702.5h1M1536 702.5h1M1540 702.5h2M1554 702.5h1M1557 702.5h1M1558 702.5h1M1559 702.5h1M1567 702.5h1M1568 702.5h1M1569 702.5h1M1436 705.5h2M1454 705.5h1M1455 705.5h1M1459 705.5h1M1460 705.5h1M1465 705.5h1M1478 705.5h2M1512 705.5h1M1521 705.5h1M1529 705.5h2M1532 705.5h1M1534 705.5h2M1539 705.5h1M1540 705.5h2M1544 705.5h1M1545 705.5h2M1553 705.5h1M1562 705.5h1M1435 706.5h1M1438 706.5h1M1441 706.5h2M1455 706.5h1M1456 706.5h1M1467 706.5h2M1508 706.5h1M1512 706.5h1M1517 706.5h1M1524 706.5h2M1531 706.5h1M1533 706.5h1M1537 706.5h1M1542 706.5h1M1552 706.5h1M1560 706.5h2M1441 707.5h2M1443 707.5h1M1451 707.5h1M1460 707.5h1M1462 707.5h2M1466 707.5h1M1467 707.5h2M1480 707.5h1M1482 707.5h1M1483 707.5h2M1505 707.5h1M1512 707.5h1M1517 707.5h1M1522 707.5h1M1523 707.5h1M1527 707.5h1M1528 707.5h1M1531 707.5h1M1536 707.5h1M1435 710.5h1M1439 710.5h1M1446 710.5h1M1449 710.5h1M1451 710.5h1M1452 710.5h2M1454 710.5h1M1455 710.5h1M1456 710.5h1M1459 710.5h1M1461 710.5h1M1474 710.5h1M1477 710.5h1M1506 710.5h1M1517 710.5h1M1523 710.5h1M1524 710.5h2M1528 710.5h1M1531 710.5h1M1532 710.5h1M1538 710.5h1M1540 710.5h2M1542 710.5h1M1549 710.5h1M1552 710.5h1M1553 710.5h1M1555 710.5h2M1557 710.5h1M1580 710.5h1M1441 711.5h2M1444 711.5h1M1447 711.5h2M1459 711.5h1M1461 711.5h1M1462 711.5h2M1469 711.5h1M1474 711.5h1M1475 711.5h1M1485 711.5h1M1486 711.5h1M1487 711.5h1M1507 711.5h1M1513 711.5h1M1516 711.5h1M1521 711.5h1M1522 711.5h1M1524 711.5h2M1526 711.5h1M1532 711.5h1M1542 711.5h1M1543 711.5h1M1557 711.5h1M1558 711.5h1M1573 711.5h1M1576 711.5h2M1579 711.5h1M1445 712.5h1M1447 712.5h2M1451 712.5h1M1454 712.5h1M1455 712.5h1M1457 712.5h2M1461 712.5h1M1464 712.5h1M1466 712.5h1M1467 712.5h2M1472 712.5h2M1474 712.5h1M1513 712.5h1M1517 712.5h1M1518 712.5h1M1524 712.5h2M1529 712.5h2M1531 712.5h1M1543 712.5h1M1544 712.5h1M1545 712.5h2M1547 712.5h1M1575 712.5h1M1578 712.5h1M1428 715.5h1M1438 715.5h1M1444 715.5h1M1445 715.5h1M1451 715.5h1M1464 715.5h1M1469 715.5h1M1478 715.5h2M1483 715.5h2M1521 715.5h1M1528 715.5h1M1543 715.5h1M1547 715.5h1M1552 715.5h1M1576 715.5h2M1581 715.5h2M1428 716.5h1M1445 716.5h1M1449 716.5h1M1457 716.5h2M1462 716.5h2M1466 716.5h1M1472 716.5h2M1476 716.5h1M1503 716.5h2M1523 716.5h1M1524 716.5h2M1527 716.5h1M1529 716.5h2M1537 716.5h1M1543 716.5h1M1549 716.5h1M1580 716.5h1M1428 717.5h1M1430 717.5h1M1447 717.5h2M1450 717.5h1M1451 717.5h1M1456 717.5h1M1457 717.5h2M1465 717.5h1M1476 717.5h1M1478 717.5h2M1509 717.5h2M1511 717.5h1M1513 717.5h1M1529 717.5h2M1534 717.5h2M1542 717.5h1M1550 717.5h2M1554 717.5h1M1446 720.5h1M1451 720.5h1M1456 720.5h1M1469 720.5h1M1470 720.5h1M1471 720.5h1M1474 720.5h1M1478 720.5h2M1482 720.5h1M1511 720.5h1M1512 720.5h1M1519 720.5h2M1524 720.5h2M1527 720.5h1M1533 720.5h1M1537 720.5h1M1553 720.5h1M1557 720.5h1M1563 720.5h1M1564 720.5h1M1571 720.5h2M1575 720.5h1M1439 721.5h1M1443 721.5h1M1446 721.5h1M1450 721.5h1M1451 721.5h1M1454 721.5h1M1455 721.5h1M1462 721.5h2M1475 721.5h1M1477 721.5h1M1481 721.5h1M1490 721.5h1M1512 721.5h1M1517 721.5h1M1521 721.5h1M1522 721.5h1M1526 721.5h1M1531 721.5h1M1533 721.5h1M1538 721.5h1M1539 721.5h1M1547 721.5h1M1563 721.5h1M1444 722.5h1M1450 722.5h1M1451 722.5h1M1477 722.5h1M1482 722.5h1M1485 722.5h1M1488 722.5h2M1518 722.5h1M1522 722.5h1M1527 722.5h1M1532 722.5h1M1534 722.5h2M1547 722.5h1M1548 722.5h1M1552 722.5h1M1553 722.5h1M1554 722.5h1M1440 725.5h1M1449 725.5h1M1455 725.5h1M1456 725.5h1M1467 725.5h2M1472 725.5h2M1477 725.5h1M1478 725.5h2M1490 725.5h1M1512 725.5h1M1523 725.5h1M1538 725.5h1M1555 725.5h2M1559 725.5h1M1431 726.5h2M1443 726.5h1M1444 726.5h1M1450 726.5h1M1451 726.5h1M1467 726.5h2M1472 726.5h2M1482 726.5h1M1487 726.5h1M1488 726.5h2M1521 726.5h1M1524 726.5h2M1536 726.5h1M1538 726.5h1M1540 726.5h2M1545 726.5h2M1552 726.5h1M1555 726.5h2M1565 726.5h2M1440 727.5h1M1449 727.5h1M1460 727.5h1M1469 727.5h1M1472 727.5h2M1474 727.5h1M1475 727.5h1M1476 727.5h1M1480 727.5h1M1481 727.5h1M1482 727.5h1M1521 727.5h1M1524 727.5h2M1529 727.5h2M1531 727.5h1M1547 727.5h1M1549 727.5h1M1552 727.5h1M1554 727.5h1M1558 727.5h1M1559 727.5h1M1565 727.5h2M1438 728.5h1M1441 728.5h2M1443 728.5h1M1445 728.5h1M1449 728.5h1M1450 728.5h1M1451 728.5h1M1457 728.5h2M1469 728.5h1M1478 728.5h2M1491 728.5h1M1516 728.5h1M1523 728.5h1M1524 728.5h2M1527 728.5h1M1532 728.5h1M1536 728.5h1M1537 728.5h1M1560 728.5h2M1562 728.5h1M1563 728.5h1M1567 728.5h1M1445 731.5h1M1449 731.5h1M1457 731.5h2M1460 731.5h1M1461 731.5h1M1462 731.5h2M1465 731.5h1M1472 731.5h2M1476 731.5h1M1477 731.5h1M1478 731.5h2M1480 731.5h1M1492 731.5h1M1531 731.5h1M1532 731.5h1M1547 731.5h1M1552 731.5h1M1553 731.5h1M1440 732.5h1M1441 732.5h2M1444 732.5h1M1446 732.5h1M1449 732.5h1M1450 732.5h1M1451 732.5h1M1457 732.5h2M1461 732.5h1M1467 732.5h2M1472 732.5h2M1474 732.5h1M1475 732.5h1M1476 732.5h1M1480 732.5h1M1527 732.5h1M1531 732.5h1M1543 732.5h1M1544 732.5h1M1552 732.5h1M1553 732.5h1M1439 733.5h1M1441 733.5h2M1447 733.5h2M1452 733.5h2M1456 733.5h1M1461 733.5h1M1462 733.5h2M1466 733.5h1M1471 733.5h1M1472 733.5h2M1475 733.5h1M1476 733.5h1M1477 733.5h1M1481 733.5h1M1488 733.5h2M1517 733.5h1M1527 733.5h1M1528 733.5h1M1554 733.5h1M1435 736.5h1M1436 736.5h2M1440 736.5h1M1443 736.5h1M1444 736.5h1M1446 736.5h1M1447 736.5h2M1450 736.5h1M1455 736.5h1M1459 736.5h1M1460 736.5h1M1462 736.5h2M1464 736.5h1M1467 736.5h2M1469 736.5h1M1475 736.5h1M1476 736.5h1M1529 736.5h2M1531 736.5h1M1533 736.5h1M1544 736.5h1M1545 736.5h2M1434 737.5h1M1438 737.5h1M1439 737.5h1M1444 737.5h1M1451 737.5h1M1456 737.5h1M1462 737.5h2M1471 737.5h1M1480 737.5h1M1485 737.5h1M1508 737.5h1M1540 737.5h2M1542 737.5h1M1544 737.5h1M1564 737.5h1M1436 738.5h2M1450 738.5h1M1452 738.5h2M1454 738.5h1M1459 738.5h1M1469 738.5h1M1477 738.5h1M1481 738.5h1M1482 738.5h1M1483 738.5h2M1485 738.5h1M1544 738.5h1M1547 738.5h1M1564 738.5h1M1444 741.5h1M1447 741.5h2M1450 741.5h1M1456 741.5h1M1457 741.5h2M1466 741.5h1M1467 741.5h2M1477 741.5h1M1480 741.5h1M1519 741.5h2M1526 741.5h1M1440 742.5h1M1456 742.5h1M1466 742.5h1M1470 742.5h1M1471 742.5h1M1477 742.5h1M1526 742.5h1M1538 742.5h1M1443 743.5h1M1449 743.5h1M1452 743.5h2M1456 743.5h1M1461 743.5h1M1467 743.5h2M1476 743.5h1M1477 743.5h1M1485 743.5h1M1537 743.5h1M1443 746.5h1M1446 746.5h1M1449 746.5h1M1452 746.5h2M1456 746.5h1M1465 746.5h1M1469 746.5h1M1470 746.5h1M1476 746.5h1M1478 746.5h2M1480 746.5h1M1557 746.5h1M1569 746.5h1M1447 747.5h2M1451 747.5h1M1457 747.5h2M1459 747.5h1M1464 747.5h1M1536 747.5h1M1537 747.5h1M1557 747.5h1M1558 747.5h1M1443 748.5h1M1445 748.5h1M1446 748.5h1M1447 748.5h2M1450 748.5h1M1455 748.5h1M1460 748.5h1M1462 748.5h2M1466 748.5h1M1467 748.5h2M1536 748.5h1M1443 751.5h1M1445 751.5h1M1447 751.5h2M1451 751.5h1M1454 751.5h1M1461 751.5h1M1465 751.5h1M1469 751.5h1M1471 751.5h1M1475 751.5h1M1483 751.5h2M1438 752.5h1M1450 752.5h1M1457 752.5h2M1459 752.5h1M1465 752.5h1M1467 752.5h2M1469 752.5h1M1478 752.5h2M1536 752.5h1M1439 753.5h1M1440 753.5h1M1451 753.5h1M1452 753.5h2M1457 753.5h2M1459 756.5h1M1460 756.5h1M1543 756.5h1M1543 757.5h1M1544 757.5h1M1467 758.5h2M1538 758.5h1M1547 758.5h1M1455 759.5h1M1466 759.5h1M1469 759.5h1M1460 762.5h1M1469 762.5h1M1467 763.5h2"/><path stroke="#385cb0" d="M1461 638.5h1M1466 639.5h1M1462 643.5h2M1466 643.5h1M1443 644.5h1M1457 644.5h2M1459 644.5h1M1464 644.5h1M1466 644.5h1M1441 645.5h2M1443 645.5h1M1454 645.5h1M1455 645.5h1M1457 645.5h2M1462 645.5h2M1465 645.5h1M1470 645.5h1M1471 645.5h1M1449 648.5h1M1450 648.5h1M1456 648.5h1M1461 648.5h1M1464 648.5h1M1465 648.5h1M1471 648.5h1M1475 648.5h1M1575 648.5h1M1445 649.5h1M1449 649.5h1M1454 649.5h1M1459 649.5h1M1469 649.5h1M1576 649.5h2M1444 650.5h1M1450 650.5h1M1459 650.5h1M1461 650.5h1M1462 650.5h2M1470 650.5h1M1471 650.5h1M1472 650.5h2M1474 650.5h1M1476 650.5h1M1440 653.5h1M1441 653.5h2M1445 653.5h1M1450 653.5h1M1454 653.5h1M1455 653.5h1M1460 653.5h1M1462 653.5h2M1464 653.5h1M1465 653.5h1M1466 653.5h1M1467 653.5h2M1469 653.5h1M1470 653.5h1M1471 653.5h1M1474 653.5h1M1475 653.5h1M1478 653.5h2M1439 654.5h1M1440 654.5h1M1441 654.5h2M1443 654.5h1M1450 654.5h1M1455 654.5h1M1459 654.5h1M1460 654.5h1M1469 654.5h1M1472 654.5h2M1445 655.5h1M1447 655.5h2M1450 655.5h1M1452 655.5h2M1454 655.5h1M1460 655.5h1M1467 655.5h2M1469 655.5h1M1471 655.5h1M1474 655.5h1M1446 658.5h1M1450 658.5h1M1454 658.5h1M1455 658.5h1M1459 658.5h1M1461 658.5h1M1462 658.5h2M1465 658.5h1M1471 658.5h1M1446 659.5h1M1447 659.5h2M1450 659.5h1M1451 659.5h1M1455 659.5h1M1460 659.5h1M1464 659.5h1M1465 659.5h1M1470 659.5h1M1472 659.5h2M1474 659.5h1M1445 660.5h1M1449 660.5h1M1452 660.5h2M1456 660.5h1M1460 660.5h1M1464 660.5h1M1466 660.5h1M1467 660.5h2M1477 660.5h1M1478 660.5h2M1441 663.5h2M1443 663.5h1M1447 663.5h2M1449 663.5h1M1454 663.5h1M1456 663.5h1M1461 663.5h1M1462 663.5h2M1466 663.5h1M1469 663.5h1M1471 663.5h1M1472 663.5h2M1450 664.5h1M1460 664.5h1M1461 664.5h1M1469 664.5h1M1470 664.5h1M1469 665.5h1M1542 665.5h1M1543 665.5h1M1450 666.5h1M1457 666.5h2M1462 666.5h2M1465 666.5h1M1467 666.5h2M1469 666.5h1M1470 666.5h1M1543 666.5h1M1545 666.5h2M1447 669.5h2M1540 669.5h2M1542 669.5h1M1543 669.5h1M1532 671.5h1M1547 674.5h1M1545 675.5h2M1547 676.5h1M1549 680.5h1M1539 706.5h1M1539 707.5h1M1534 710.5h2M1536 710.5h1M1545 710.5h2M1533 711.5h1M1536 711.5h1M1545 711.5h2M1534 715.5h2M1545 715.5h2M1534 716.5h2M1544 716.5h1M1545 716.5h2M1547 716.5h1M1462 717.5h2M1545 717.5h2M1547 717.5h1M1457 721.5h2M1459 721.5h1M1460 721.5h1M1542 721.5h1M1544 721.5h1M1456 722.5h1M1460 722.5h1M1539 722.5h1M1543 722.5h1M1460 725.5h1M1542 725.5h1M1543 725.5h1M1460 726.5h1M1461 726.5h1M1464 726.5h1M1544 726.5h1M1461 727.5h1M1464 727.5h1M1455 728.5h1M1456 728.5h1M1461 728.5h1M1462 728.5h2M1534 728.5h2M1538 728.5h1M1544 728.5h1M1451 731.5h1M1455 731.5h1M1544 731.5h1M1454 732.5h1M1464 737.5h1"/><path stroke="#3ca08c" d="M1480 633.5h1M1436 634.5h2M1449 640.5h1M1465 644.5h1M1469 644.5h1M1461 645.5h1M1568 645.5h1M1462 648.5h2M1470 648.5h1M1455 649.5h1M1476 649.5h1M1464 650.5h1M1547 650.5h1M1465 654.5h1M1464 655.5h1M1469 658.5h1M1469 659.5h1M1471 659.5h1M1474 660.5h1M1570 660.5h1M1470 663.5h1M1436 665.5h2M1509 665.5h2M1547 665.5h1M1449 666.5h1M1522 671.5h1M1554 674.5h1M1478 680.5h2M1528 685.5h1M1550 685.5h2M1544 686.5h1M1542 690.5h1M1539 694.5h1M1555 705.5h2M1539 710.5h1M1547 710.5h1M1446 712.5h1M1533 712.5h1M1539 712.5h1M1533 715.5h1M1544 715.5h1M1536 720.5h1M1543 720.5h1M1544 720.5h1M1461 722.5h1M1464 722.5h1M1493 731.5h2M1459 732.5h1M1449 733.5h1M1531 733.5h1M1547 733.5h1M1471 736.5h1M1569 737.5h1M1542 742.5h1M1433 743.5h1M1464 743.5h1M1456 748.5h1M1477 753.5h1"/><path stroke="#5ab252" d="M1460 638.5h1M1465 638.5h1M1447 639.5h2M1450 639.5h1M1429 640.5h1M1465 640.5h1M1474 643.5h1M1450 645.5h1M1472 648.5h2M1574 648.5h1M1475 649.5h1M1534 649.5h2M1574 649.5h1M1438 650.5h1M1446 650.5h1M1456 650.5h1M1460 650.5h1M1469 650.5h1M1570 650.5h1M1439 653.5h1M1449 653.5h1M1545 653.5h2M1447 654.5h2M1452 654.5h2M1464 654.5h1M1554 654.5h1M1470 655.5h1M1501 655.5h1M1571 655.5h2M1443 658.5h1M1452 658.5h2M1456 658.5h1M1466 658.5h1M1452 659.5h2M1461 659.5h1M1450 660.5h1M1454 660.5h1M1459 663.5h1M1519 663.5h2M1462 664.5h2M1464 664.5h1M1477 665.5h1M1555 665.5h2M1565 669.5h2M1540 670.5h2M1543 670.5h1M1481 671.5h1M1531 671.5h1M1534 671.5h2M1452 674.5h2M1443 675.5h1M1518 675.5h1M1522 679.5h1M1524 679.5h2M1533 680.5h1M1544 680.5h1M1553 685.5h1M1534 690.5h2M1526 696.5h1M1475 702.5h1M1542 702.5h1M1483 705.5h2M1445 706.5h1M1538 706.5h1M1573 710.5h1M1506 711.5h1M1486 712.5h1M1548 712.5h1M1430 715.5h1M1524 715.5h2M1474 716.5h1M1524 717.5h2M1545 721.5h2M1462 722.5h2M1521 722.5h1M1457 725.5h2M1500 725.5h1M1547 725.5h1M1477 726.5h1M1480 726.5h1M1512 726.5h1M1547 726.5h1M1436 727.5h2M1578 731.5h1M1456 732.5h1M1532 736.5h1M1464 738.5h1M1465 738.5h1M1531 738.5h1M1545 738.5h2M1440 741.5h1M1464 741.5h1M1443 742.5h1M1464 742.5h1M1444 748.5h1M1456 752.5h1M1464 752.5h1M1470 753.5h1M1537 756.5h1"/><path stroke="#94c83f" d="M1502 639.5h1M1446 640.5h1M1464 640.5h1M1471 640.5h1M1436 643.5h2M1465 643.5h1M1567 644.5h1M1460 645.5h1M1469 645.5h1M1444 648.5h1M1482 648.5h1M1580 648.5h1M1443 649.5h1M1444 649.5h1M1446 649.5h1M1461 649.5h1M1474 649.5h1M1451 650.5h1M1466 650.5h1M1573 650.5h1M1452 653.5h2M1576 653.5h2M1578 653.5h1M1454 654.5h1M1487 654.5h1M1456 655.5h1M1478 655.5h2M1449 658.5h1M1457 658.5h2M1543 658.5h1M1454 659.5h1M1455 660.5h1M1480 660.5h1M1464 663.5h1M1467 663.5h2M1465 664.5h1M1472 664.5h2M1444 665.5h1M1457 665.5h2M1462 665.5h2M1471 666.5h1M1528 669.5h1M1531 669.5h1M1539 669.5h1M1547 669.5h1M1521 671.5h1M1580 671.5h1M1542 674.5h1M1548 679.5h1M1523 680.5h1M1532 681.5h1M1513 696.5h1M1519 700.5h2M1456 705.5h1M1554 706.5h1M1509 707.5h2M1537 710.5h1M1450 711.5h1M1516 712.5h1M1555 717.5h2M1472 720.5h2M1475 720.5h1M1552 720.5h1M1459 722.5h1M1483 722.5h2M1538 722.5h1M1519 725.5h2M1531 725.5h1M1539 725.5h1M1533 726.5h1M1456 727.5h1M1466 728.5h1M1539 728.5h1M1452 731.5h2M1466 731.5h1M1563 731.5h1M1557 732.5h1M1454 733.5h1M1555 733.5h2M1452 741.5h2M1441 743.5h2M1475 743.5h1M1460 751.5h1M1472 751.5h2M1476 752.5h1M1536 756.5h1"/><path stroke="#f0e137" d="M1465 629.5h1M1443 635.5h1M1466 640.5h1M1459 645.5h1M1557 645.5h1M1569 645.5h1M1581 645.5h2M1445 648.5h1M1565 648.5h2M1570 648.5h1M1579 648.5h1M1462 649.5h2M1471 649.5h1M1567 649.5h1M1455 650.5h1M1457 650.5h2M1467 650.5h2M1444 653.5h1M1447 653.5h2M1456 653.5h1M1459 653.5h1M1476 653.5h1M1564 653.5h1M1581 653.5h2M1445 654.5h1M1446 654.5h1M1444 655.5h1M1451 655.5h1M1459 655.5h1M1580 655.5h1M1460 658.5h1M1472 658.5h2M1445 659.5h1M1459 659.5h1M1466 659.5h1M1526 663.5h1M1467 664.5h2M1540 664.5h2M1449 665.5h1M1534 665.5h2M1524 666.5h2M1522 669.5h1M1528 670.5h1M1443 671.5h1M1548 671.5h1M1536 674.5h1M1540 674.5h2M1470 675.5h1M1544 676.5h1M1513 681.5h1M1552 681.5h1M1555 681.5h2M1545 686.5h2M1533 689.5h1M1527 694.5h1M1533 694.5h1M1563 694.5h1M1447 701.5h2M1524 702.5h2M1457 705.5h2M1466 705.5h1M1523 705.5h1M1436 706.5h2M1444 707.5h1M1440 710.5h1M1549 711.5h1M1440 712.5h1M1548 715.5h1M1550 715.5h2M1441 716.5h2M1506 716.5h1M1461 717.5h1M1539 717.5h1M1540 717.5h2M1444 720.5h1M1529 722.5h2M1462 725.5h2M1464 725.5h1M1532 725.5h1M1454 726.5h1M1433 727.5h1M1528 727.5h1M1543 728.5h1M1557 728.5h1M1443 731.5h1M1439 732.5h1M1537 732.5h1M1537 733.5h1M1465 736.5h1M1534 736.5h2M1441 738.5h2M1475 738.5h1M1476 742.5h1M1537 748.5h1M1461 752.5h1M1545 758.5h2M1459 763.5h1M1460 763.5h1"/><path stroke="#f4ab29" d="M1434 634.5h1M1454 634.5h1M1469 639.5h1M1450 644.5h1M1467 644.5h2M1475 645.5h1M1476 645.5h1M1477 645.5h1M1457 648.5h2M1474 648.5h1M1581 648.5h2M1466 649.5h1M1449 650.5h1M1465 650.5h1M1451 653.5h1M1457 653.5h2M1492 653.5h1M1548 653.5h1M1444 654.5h1M1461 654.5h1M1466 654.5h1M1467 654.5h2M1475 654.5h1M1446 655.5h1M1455 655.5h1M1462 655.5h2M1466 655.5h1M1488 655.5h2M1464 658.5h1M1470 658.5h1M1485 658.5h1M1449 659.5h1M1455 663.5h1M1516 663.5h1M1559 664.5h1M1454 665.5h1M1456 665.5h1M1466 666.5h1M1528 666.5h1M1537 666.5h1M1457 669.5h2M1485 669.5h1M1536 669.5h1M1549 669.5h1M1516 670.5h1M1560 670.5h2M1563 670.5h1M1443 674.5h1M1444 675.5h1M1536 675.5h1M1579 675.5h1M1550 680.5h2M1534 689.5h2M1544 689.5h1M1536 690.5h1M1563 690.5h1M1457 691.5h2M1559 696.5h1M1542 701.5h1M1552 701.5h1M1554 701.5h1M1570 702.5h1M1524 705.5h2M1547 705.5h1M1533 707.5h1M1554 707.5h1M1462 710.5h2M1544 710.5h1M1440 711.5h1M1429 715.5h1M1538 715.5h1M1438 716.5h1M1548 716.5h1M1517 720.5h1M1444 721.5h1M1474 721.5h1M1483 721.5h2M1528 721.5h1M1536 721.5h1M1447 722.5h2M1542 722.5h1M1430 725.5h1M1454 725.5h1M1459 725.5h1M1459 726.5h1M1554 726.5h1M1534 727.5h2M1540 727.5h2M1544 727.5h1M1465 728.5h1M1518 728.5h1M1548 731.5h1M1478 732.5h2M1507 733.5h1M1553 733.5h1M1433 736.5h1M1454 736.5h1M1466 737.5h1M1451 738.5h1M1460 741.5h1M1467 746.5h2M1443 747.5h1M1518 751.5h1M1529 751.5h2M1475 752.5h1M1537 757.5h1M1545 757.5h2M1467 759.5h2"/><path stroke="#ef7020" d="M1450 628.5h1M1470 628.5h1M1441 638.5h2M1456 643.5h1M1464 643.5h1M1477 643.5h1M1430 644.5h1M1439 645.5h1M1567 645.5h1M1454 648.5h1M1460 648.5h1M1431 649.5h2M1450 649.5h1M1460 649.5h1M1464 649.5h1M1467 649.5h2M1575 649.5h1M1435 650.5h1M1447 650.5h2M1454 650.5h1M1475 650.5h1M1481 650.5h1M1576 650.5h2M1443 653.5h1M1461 653.5h1M1462 654.5h2M1474 654.5h1M1542 654.5h1M1472 655.5h2M1574 658.5h1M1456 659.5h1M1467 659.5h2M1441 660.5h2M1457 660.5h2M1459 660.5h1M1462 660.5h2M1465 660.5h1M1445 663.5h1M1446 663.5h1M1465 663.5h1M1545 663.5h2M1454 664.5h1M1573 664.5h1M1450 665.5h1M1472 665.5h2M1433 666.5h1M1451 666.5h1M1464 666.5h1M1553 666.5h1M1464 669.5h1M1472 669.5h2M1483 671.5h2M1527 671.5h1M1528 671.5h1M1536 671.5h1M1539 675.5h1M1543 675.5h1M1547 675.5h1M1478 676.5h2M1548 676.5h1M1564 679.5h1M1565 680.5h2M1549 681.5h1M1392 684.5h1M1549 686.5h1M1465 691.5h1M1555 694.5h2M1449 700.5h1M1528 705.5h1M1509 706.5h2M1527 706.5h1M1534 707.5h2M1537 711.5h1M1469 712.5h1M1536 712.5h1M1478 716.5h2M1522 716.5h1M1475 717.5h1M1431 720.5h2M1461 720.5h1M1526 720.5h1M1554 720.5h1M1452 721.5h2M1552 721.5h1M1574 721.5h1M1544 722.5h1M1444 725.5h1M1445 725.5h1M1465 725.5h1M1491 725.5h1M1543 726.5h1M1539 727.5h1M1454 728.5h1M1550 728.5h2M1457 736.5h2M1543 737.5h1M1462 738.5h2M1462 741.5h2M1439 743.5h1M1477 746.5h1M1459 762.5h1"/><path stroke="#e4321c" d="M1470 624.5h1M1452 639.5h2M1576 639.5h2M1464 645.5h1M1459 648.5h1M1476 648.5h1M1486 649.5h1M1538 650.5h1M1472 653.5h2M1461 655.5h1M1465 655.5h1M1467 658.5h2M1462 659.5h2M1447 660.5h2M1451 660.5h1M1470 660.5h1M1538 660.5h1M1441 664.5h2M1449 664.5h1M1472 666.5h2M1533 670.5h1M1539 670.5h1M1547 670.5h1M1537 674.5h1M1519 680.5h2M1516 681.5h1M1560 689.5h2M1522 690.5h1M1532 690.5h1M1540 690.5h2M1523 691.5h1M1440 696.5h1M1516 700.5h1M1529 706.5h2M1526 707.5h1M1574 710.5h1M1439 711.5h1M1547 711.5h1M1537 712.5h1M1481 717.5h1M1454 720.5h1M1471 721.5h1M1543 721.5h1M1457 722.5h2M1486 726.5h1M1532 727.5h1M1533 727.5h1M1440 728.5h1M1456 738.5h1M1443 756.5h1M1457 756.5h2"/></g>
<g stroke-width="2" fill="none"><path stroke="#384698" d="M1501 600h1M1517 600h1M1456 626h1M1464 626h1M1459 631h1M1476 631h1M1429 637h1M1488 637h2M1545 642h2M1565 642h2M1571 642h2M1575 642h1M1584 642h1M1585 642h1M1514 647h2M1526 647h1M1528 647h1M1537 647h1M1542 647h1M1547 647h1M1586 647h2M1428 652h1M1500 652h1M1508 652h1M1542 652h1M1590 652h1M1435 657h1M1506 657h1M1511 657h1M1528 657h1M1532 657h1M1550 657h2M1591 657h2M1388 662h1M1418 662h1M1430 662h1M1488 662h2M1508 662h1M1565 662h2M1387 668h1M1519 668h2M1581 668h2M1435 673h1M1455 673h1M1470 673h1M1506 673h1M1508 673h1M1560 673h2M1434 678h1M1446 678h1M1452 678h2M1459 678h1M1460 678h1M1467 678h2M1470 678h1M1487 678h1M1506 678h1M1507 678h1M1521 678h1M1581 678h2M1444 683h1M1462 683h2M1464 683h1M1467 688h2M1503 688h2M1516 688h1M1567 688h1M1569 688h1M1571 688h2M1443 693h1M1461 693h1M1470 693h1M1518 693h1M1433 699h1M1441 704h2M1446 704h1M1477 704h1M1501 704h1M1548 704h1M1425 709h1M1431 709h2M1486 709h1M1578 709h1M1580 709h1M1434 714h1M1509 714h2M1564 714h1M1570 714h1M1574 714h1M1434 719h1M1514 719h2M1559 719h1M1562 719h1M1431 724h2M1508 724h1M1428 730h1M1483 730h2M1488 730h2M1512 730h1M1568 730h1M1571 730h2M1538 735h1M1552 735h1M1559 735h1M1568 735h1M1573 735h1M1471 740h1M1490 740h1M1534 740h2M1542 740h1M1549 740h1M1562 740h1M1573 740h1M1575 740h1M1429 745h1M1431 745h2M1474 745h1M1512 745h1M1519 745h2M1526 745h1M1547 745h1M1548 745h1M1552 745h1M1565 745h2M1476 750h1M1487 750h1M1527 750h1M1539 750h1M1558 750h1M1438 755h1M1464 755h1M1465 755h1M1470 755h1M1475 755h1M1480 755h1M1482 755h1M1485 755h1M1533 755h1M1545 755h2M1553 755h1M1449 761h1M1452 761h2M1475 761h1M1469 766h1"/><path stroke="#3851a4" d="M1455 631h1M1456 631h1M1462 631h2M1464 631h1M1451 637h1M1454 637h1M1461 637h1M1470 637h1M1471 637h1M1433 642h1M1434 642h1M1439 642h1M1441 642h2M1444 642h1M1446 642h1M1447 642h2M1449 642h1M1454 642h1M1471 642h1M1472 642h2M1475 642h1M1476 642h1M1481 642h1M1436 647h2M1439 647h1M1447 647h2M1450 647h1M1480 647h1M1487 647h1M1488 647h2M1490 647h1M1565 647h2M1569 647h1M1570 647h1M1573 647h1M1575 647h1M1576 647h2M1581 647h2M1583 647h1M1434 652h1M1435 652h1M1436 652h2M1438 652h1M1480 652h1M1486 652h1M1519 652h2M1524 652h2M1529 652h2M1533 652h1M1540 652h2M1568 652h1M1573 652h1M1574 652h1M1576 652h2M1586 652h2M1426 657h2M1434 657h1M1443 657h1M1475 657h1M1476 657h1M1481 657h1M1482 657h1M1483 657h2M1487 657h1M1490 657h1M1508 657h1M1522 657h1M1526 657h1M1534 657h2M1536 657h1M1537 657h1M1540 657h2M1548 657h1M1553 657h1M1554 657h1M1555 657h2M1568 657h1M1573 657h1M1433 662h1M1434 662h1M1474 662h1M1476 662h1M1477 662h1M1480 662h1M1482 662h1M1486 662h1M1517 662h1M1518 662h1M1522 662h1M1529 662h2M1531 662h1M1537 662h1M1538 662h1M1539 662h1M1552 662h1M1553 662h1M1554 662h1M1557 662h1M1570 662h1M1441 668h2M1443 668h1M1454 668h1M1460 668h1M1466 668h1M1472 668h2M1476 668h1M1485 668h1M1516 668h1M1524 668h2M1526 668h1M1534 668h2M1538 668h1M1540 668h2M1547 668h1M1555 668h2M1565 668h2M1440 673h1M1445 673h1M1454 673h1M1462 673h2M1464 673h1M1486 673h1M1513 673h1M1521 673h1M1522 673h1M1526 673h1M1528 673h1M1532 673h1M1533 673h1M1536 673h1M1539 673h1M1544 673h1M1547 673h1M1558 673h1M1564 673h1M1456 678h1M1476 678h1M1509 678h2M1524 678h2M1526 678h1M1528 678h1M1533 678h1M1543 678h1M1548 678h1M1560 678h2M1562 678h1M1565 678h2M1474 683h1M1514 683h2M1516 683h1M1517 683h1M1532 683h1M1533 683h1M1540 683h2M1558 683h1M1559 683h1M1562 683h1M1524 688h2M1527 688h1M1533 688h1M1536 688h1M1550 688h2M1552 688h1M1553 688h1M1555 688h2M1563 688h1M1514 693h2M1516 693h1M1526 693h1M1533 693h1M1540 693h2M1543 693h1M1547 693h1M1552 693h1M1553 693h1M1558 693h1M1559 693h1M1560 693h2M1517 699h1M1534 699h2M1539 699h1M1540 699h2M1543 699h1M1544 699h1M1545 699h2M1549 699h1M1564 699h1M1568 699h1M1569 699h1M1456 704h1M1459 704h1M1465 704h1M1467 704h2M1470 704h1M1471 704h1M1516 704h1M1517 704h1M1518 704h1M1521 704h1M1529 704h2M1533 704h1M1534 704h2M1540 704h2M1542 704h1M1555 704h2M1559 704h1M1439 709h1M1441 709h2M1446 709h1M1459 709h1M1460 709h1M1465 709h1M1467 709h2M1480 709h1M1482 709h1M1513 709h1M1517 709h1M1527 709h1M1540 709h2M1543 709h1M1547 709h1M1548 709h1M1552 709h1M1553 709h1M1558 709h1M1441 714h2M1444 714h1M1452 714h2M1455 714h1M1456 714h1M1457 714h2M1460 714h1M1461 714h1M1464 714h1M1467 714h2M1469 714h1M1478 714h2M1482 714h1M1483 714h2M1513 714h1M1519 714h2M1528 714h1M1532 714h1M1538 714h1M1544 714h1M1550 714h2M1578 714h1M1430 719h1M1444 719h1M1452 719h2M1460 719h1M1462 719h2M1464 719h1M1471 719h1M1472 719h2M1474 719h1M1476 719h1M1481 719h1M1517 719h1M1519 719h2M1521 719h1M1529 719h2M1531 719h1M1532 719h1M1536 719h1M1537 719h1M1539 719h1M1542 719h1M1550 719h2M1555 719h2M1564 719h1M1575 719h1M1443 724h1M1444 724h1M1452 724h2M1456 724h1M1465 724h1M1477 724h1M1486 724h1M1491 724h1M1512 724h1M1514 724h2M1516 724h1M1519 724h2M1526 724h1M1531 724h1M1532 724h1M1538 724h1M1549 724h1M1555 724h2M1557 724h1M1565 724h2M1567 724h1M1444 730h1M1447 730h2M1450 730h1M1474 730h1M1492 730h1M1534 730h2M1536 730h1M1538 730h1M1540 730h2M1548 730h1M1550 730h2M1555 730h2M1433 735h1M1440 735h1M1443 735h1M1445 735h1M1456 735h1M1457 735h2M1464 735h1M1465 735h1M1466 735h1M1467 735h2M1471 735h1M1476 735h1M1480 735h1M1517 735h1M1518 735h1M1521 735h1M1528 735h1M1531 735h1M1439 740h1M1443 740h1M1454 740h1M1456 740h1M1460 740h1M1474 740h1M1477 740h1M1481 740h1M1526 740h1M1569 740h1M1439 745h1M1441 745h2M1444 745h1M1449 745h1M1450 745h1M1456 745h1M1461 745h1M1469 745h1M1477 745h1M1540 745h2M1542 745h1M1568 745h1M1569 745h1M1447 750h2M1451 750h1M1455 750h1M1462 750h2M1472 750h2M1441 755h2M1452 755h2M1476 755h1M1455 761h1M1456 761h1M1457 761h2M1467 761h2M1470 761h1M1471 761h1"/><path stroke="#385cb0" d="M1464 642h1M1452 647h2M1454 647h1M1455 647h1M1464 647h1M1467 647h2M1471 647h1M1476 647h1M1477 647h1M1568 647h1M1444 652h1M1447 652h2M1459 652h1M1460 652h1M1464 652h1M1465 652h1M1470 652h1M1472 652h2M1477 652h1M1445 657h1M1446 657h1M1451 657h1M1454 657h1M1456 657h1M1460 657h1M1462 657h2M1465 657h1M1470 657h1M1440 662h1M1443 662h1M1447 662h2M1452 662h2M1454 662h1M1457 662h2M1461 662h1M1462 662h2M1465 662h1M1466 662h1M1467 662h2M1459 668h1M1467 668h2M1469 668h1M1542 668h1M1529 673h2M1531 673h1M1545 688h2M1547 688h1M1534 709h2M1536 709h1M1534 714h2M1537 714h1M1461 719h1M1544 719h1M1545 719h2M1547 719h1M1457 724h2M1459 724h1M1462 724h2M1540 724h2M1548 724h1M1454 730h1M1459 730h1M1460 730h1M1545 730h2M1454 735h1"/><path stroke="#3ca08c" d="M1466 637h1M1451 647h1M1465 647h1M1449 652h1M1450 652h1M1447 657h2M1461 657h1M1450 662h1M1455 662h1M1460 662h1M1555 662h2M1447 668h2M1457 668h2M1523 668h1M1518 673h1M1482 704h1M1451 709h1M1517 724h1M1470 735h1"/><path stroke="#5ab252" d="M1434 637h1M1460 642h1M1457 647h2M1475 647h1M1478 647h2M1481 647h1M1452 657h2M1457 657h2M1464 657h1M1542 657h1M1543 657h1M1471 662h1M1472 662h2M1450 668h1M1563 668h1M1477 678h1M1545 683h2M1550 683h2M1543 688h1M1550 693h2M1454 699h1M1528 699h1M1542 699h1M1570 704h1M1450 719h1M1522 724h1M1461 730h1M1462 730h2M1544 730h1M1562 730h1M1440 740h1M1450 740h1M1480 740h1M1447 745h2M1451 745h1"/><path stroke="#94c83f" d="M1454 631h1M1440 642h1M1465 642h1M1474 642h1M1459 647h1M1462 647h2M1585 652h1M1459 657h1M1466 657h1M1472 657h2M1575 657h1M1451 662h1M1527 662h1M1567 668h1M1475 673h1M1529 678h2M1455 693h1M1523 709h1M1537 709h1M1552 714h1M1548 719h1M1446 724h1M1449 724h1M1539 724h1M1544 724h1M1464 730h1M1478 735h2M1447 740h2M1483 740h2M1563 740h1M1464 745h1"/><path stroke="#f0e137" d="M1476 637h1M1467 642h2M1474 647h1M1446 652h1M1466 652h1M1455 657h1M1469 657h1M1439 662h1M1459 662h1M1464 662h1M1470 662h1M1558 662h1M1462 668h2M1545 668h2M1560 683h2M1528 688h1M1544 688h1M1549 688h1M1545 704h2M1533 709h1M1539 709h1M1512 719h1M1540 719h2M1517 730h1M1459 740h1M1464 740h1M1467 740h2M1452 750h2M1465 750h1M1557 755h1"/><path stroke="#f4ab29" d="M1469 642h1M1456 647h1M1482 647h1M1452 652h2M1455 652h1M1462 652h2M1467 652h2M1469 652h1M1476 652h1M1495 652h1M1471 657h1M1478 657h2M1435 662h1M1449 662h1M1456 662h1M1464 668h1M1528 668h1M1445 683h1M1539 683h1M1464 704h1M1443 714h1M1452 730h2M1456 730h1M1465 730h1M1560 730h2M1462 740h2M1446 750h1M1457 750h2"/><path stroke="#ef7020" d="M1443 647h1M1444 647h1M1470 647h1M1472 647h2M1454 652h1M1482 652h1M1474 657h1M1444 662h1M1547 662h1M1471 668h1M1543 668h1M1544 668h1M1552 668h1M1457 673h2M1537 673h1M1542 673h1M1569 709h1M1523 714h1M1429 719h1M1449 719h1M1549 719h1M1461 724h1M1534 724h2M1455 730h1M1466 730h1M1447 735h2"/><path stroke="#e4321c" d="M1456 637h1M1527 642h1M1466 647h1M1451 652h1M1457 652h2M1475 652h1M1528 652h1M1532 652h1M1441 657h2M1480 657h1M1550 673h2M1538 693h1M1439 699h1M1524 704h2M1544 704h1M1450 714h1M1480 719h1M1511 719h1M1474 724h1M1467 730h2M1469 735h1M1443 755h1M1460 755h1"/></g>
<rect x="1365.1" y="551" width="60.5" height="99.8" fill="#fff" opacity="0.8"/>
<rect x="1584.1" y="551" width="63.2" height="99.8" fill="#fff" opacity="0.8"/>
<rect x="1365.6" y="756.1" width="62.2" height="100.2" fill="#fff" opacity="0.8"/>
<rect x="1522.5" y="755.3" width="142.8" height="101" fill="#fff" opacity="0.8"/>
<rect x="1361.9" y="544.7" width="317.4" height="317.3" fill="none" stroke="#4d4d4d" stroke-width="1.25"/>
<path d="M1352.9 573.1H1361.9M1352.9 632.8H1361.9M1352.9 700.8H1361.9M1352.9 802.4H1361.9" stroke="#000" stroke-width="2.5" fill="none"/>
<path d="M1358.5 546.7H1361.9M1358.5 556.6H1361.9M1358.5 764.2H1361.9M1358.5 769.1H1361.9M1358.5 775.4H1361.9M1358.5 788.9H1361.9M1358.5 793.4H1361.9M1358.5 797.4H1361.9M1358.5 824.8H1361.9M1358.5 837.2H1361.9M1358.5 857.4H1361.9M1358.5 703.9H1361.9M1358.5 707.5H1361.9M1358.5 711.3H1361.9M1358.5 714.7H1361.9M1358.5 725.5H1361.9M1358.5 731.6H1361.9M1358.5 737.2H1361.9M1358.5 742.1H1361.9M1358.5 680.3H1361.9M1358.5 668.4H1361.9M1358.5 659.9H1361.9M1358.5 647.9H1361.9M1358.5 643.3H1361.9M1358.5 639.4H1361.9M1358.5 635.9H1361.9M1358.5 614.8H1361.9M1358.5 604.3H1361.9M1358.5 596.9H1361.9M1358.5 586.3H1361.9M1358.5 582.3H1361.9M1358.5 578.9H1361.9M1358.5 575.8H1361.9" stroke="#000" stroke-width="1.3" fill="none"/>
<path d="M1355.7 719.7H1361.9M1355.7 782H1361.9M1355.7 851.8H1361.9M1355.7 653.3H1361.9M1355.7 591.1H1361.9" stroke="#000" stroke-width="1.6" fill="none"/>
<rect x="1356.7" y="744.6" width="5.2" height="14" fill="#000"/>
<path d="M1352.9 746H1361.9M1352.9 749.5H1361.9M1352.9 753H1361.9M1352.9 756.8H1361.9" stroke="#000" stroke-width="3.0" fill="none"/>
<text class="e" x="1339.3" y="580.1" text-anchor="end" textLength="10" lengthAdjust="spacingAndGlyphs">10</text>
<text class="x" x="1340.6" y="572.9">5</text>
<text class="e" x="1339.3" y="639.8" text-anchor="end" textLength="10" lengthAdjust="spacingAndGlyphs">10</text>
<text class="x" x="1340.6" y="632.6">4</text>
<text class="e" x="1339.3" y="707.8" text-anchor="end" textLength="10" lengthAdjust="spacingAndGlyphs">10</text>
<text class="x" x="1340.6" y="700.6">3</text>
<text class="e" x="1335.9" y="809.2" text-anchor="end" textLength="14.6" lengthAdjust="spacingAndGlyphs">-10</text>
<text class="x" x="1339.5" y="802">3</text>
<text class="e" x="1339.2" y="755.3" text-anchor="end">0</text>
<path d="M1379 862V870.7M1470.7 862V870.7M1549.2 862V870.7M1614.8 862V870.7M1677.7 862V870.7" stroke="#000" stroke-width="2.5" fill="none"/>
<path d="M1383 862V865.4M1386.4 862V865.4M1389.8 862V865.4M1393.1 862V865.4M1404.4 862V865.4M1408.9 862V865.4M1413.4 862V865.4M1435.8 862V865.4M1440.3 862V865.4M1444.8 862V865.4M1456.1 862V865.4M1459.4 862V865.4M1462.8 862V865.4M1466.2 862V865.4M1494.3 862V865.4M1508.2 862V865.4M1518 862V865.4M1531.8 862V865.4M1537 862V865.4M1541.6 862V865.4M1545.6 862V865.4M1568.9 862V865.4M1580.5 862V865.4M1588.7 862V865.4M1600.2 862V865.4M1604.6 862V865.4M1608.4 862V865.4M1611.8 862V865.4M1633.7 862V865.4M1644.8 862V865.4M1652.7 862V865.4M1663.7 862V865.4M1668 862V865.4M1671.6 862V865.4M1674.8 862V865.4" stroke="#000" stroke-width="1.3" fill="none"/>
<path d="M1399.2 862V868.2M1451.1 862V868.2M1525.6 862V868.2M1595.1 862V868.2M1658.8 862V868.2" stroke="#000" stroke-width="1.6" fill="none"/>
<rect x="1419" y="862" width="12.4" height="5.2" fill="#000"/>
<path d="M1420.5 862V870.7M1424 862V870.7M1427.2 862V870.7M1430 862V870.7" stroke="#000" stroke-width="3.0" fill="none"/>
<text class="e" x="1559.4" y="888.9" text-anchor="end" textLength="10" lengthAdjust="spacingAndGlyphs">10</text>
<text class="x" x="1560.7" y="881.7">4</text>
<text class="e" x="1625" y="888.9" text-anchor="end" textLength="10" lengthAdjust="spacingAndGlyphs">10</text>
<text class="x" x="1626.3" y="881.7">5</text>
<text class="e" x="1669.2" y="888.9" text-anchor="end" textLength="10" lengthAdjust="spacingAndGlyphs">10</text>
<text class="x" x="1670.5" y="881.7">6</text>
<text class="e" x="1430.9" y="888.9" text-anchor="middle">0</text>
<path d="M1500.8 544.7L1500.8 862" stroke="#000" stroke-width="2.2"/>
<path d="M1361.9 688.5L1680.3 688.5" stroke="#000" stroke-width="2.2"/>
<text x="1367.25" y="589.8" class="g" textLength="33.74" lengthAdjust="spacingAndGlyphs">Q1</text>
<text x="1367.58" y="629.6" class="g" textLength="49.41" lengthAdjust="spacingAndGlyphs">42.1</text>
<text x="1602.95" y="589.8" class="g" textLength="36.51" lengthAdjust="spacingAndGlyphs">Q2</text>
<text x="1584.99" y="629.6" class="g" textLength="52.81" lengthAdjust="spacingAndGlyphs">21.0</text>
<text x="1367.38" y="794.9" class="g" textLength="35.75" lengthAdjust="spacingAndGlyphs">Q4</text>
<text x="1367.3" y="835.1" class="g" textLength="52.64" lengthAdjust="spacingAndGlyphs">20.8</text>
<text x="1522.61" y="794.1" class="g" textLength="134.35" lengthAdjust="spacingAndGlyphs">Live T Cells</text>
<text x="1538.12" y="835.1" class="g" textLength="50.09" lengthAdjust="spacingAndGlyphs">16.1</text>
<text x="1358.22" y="929.9" class="a" textLength="290.19" lengthAdjust="spacingAndGlyphs">Comp-Spark Blue 574-A :: CD45</text>
<text class="v" transform="translate(1300.2 881.68) rotate(-90)" textLength="320.62" lengthAdjust="spacingAndGlyphs">Comp-LIVE DEAD Blue-A :: Viability</text>
<g stroke-width="1" fill="none"><path stroke="#384698" d="M1835 660.5h1M1813 674.5h1M1826 675.5h2M1880 684.5h1M1849 689.5h1M1821 690.5h2M1816 695.5h2M1824 695.5h1M1808 696.5h1M1813 696.5h1M1815 697.5h1M1818 697.5h1M1867 697.5h1M1821 700.5h2M1844 700.5h1M1823 701.5h1M1828 701.5h1M1830 702.5h1M1818 705.5h1M1829 705.5h1M1840 705.5h1M1806 706.5h2M1808 706.5h1M1836 706.5h1M1830 707.5h1M1850 707.5h1M1851 707.5h1M1830 710.5h1M1834 710.5h1M1888 711.5h2M1826 712.5h2M1898 712.5h1M1809 715.5h1M1857 715.5h2M1896 715.5h1M1815 716.5h1M1825 716.5h1M1842 716.5h2M1816 717.5h2M1819 717.5h1M1829 717.5h1M1840 717.5h1M1882 717.5h1M1818 720.5h1M1823 720.5h1M1835 720.5h1M1883 720.5h2M1813 721.5h1M1811 722.5h2M1883 725.5h2M1824 726.5h1M1849 726.5h1M1860 726.5h1M1890 726.5h1M1924 726.5h2M1828 727.5h1M1813 728.5h1M1823 728.5h1M1871 728.5h1M1885 728.5h1M1806 731.5h2M1811 731.5h2M1815 731.5h1M1828 731.5h1M1842 731.5h2M1846 731.5h1M1808 732.5h1M1829 732.5h1M1823 733.5h1M1828 736.5h1M1844 736.5h1M1806 737.5h2M1828 737.5h1M1840 737.5h1M1860 737.5h1M1825 738.5h1M1826 738.5h2M1831 738.5h2M1836 738.5h1M1856 738.5h1M1937 738.5h1M1823 741.5h1M1893 741.5h2M1809 742.5h1M1861 742.5h1M1815 743.5h1M1821 743.5h2M1813 746.5h1M1815 746.5h1M1825 746.5h1M1826 746.5h2M1836 746.5h1M1865 746.5h1M1872 746.5h1M1930 746.5h2M1818 747.5h1M1821 747.5h2M1839 747.5h1M1850 747.5h1M1890 747.5h1M1818 748.5h1M1819 748.5h1M1821 748.5h2M1825 748.5h1M1837 748.5h2M1841 748.5h1M1805 751.5h1M1823 751.5h1M1809 752.5h1M1819 752.5h1M1823 752.5h1M1826 752.5h2M1834 752.5h1M1840 752.5h1M1849 752.5h1M1882 752.5h1M1811 753.5h2M1826 753.5h2M1831 753.5h2M1850 753.5h1M1809 756.5h1M1825 756.5h1M1826 756.5h2M1830 756.5h1M1871 756.5h1M1809 757.5h1M1828 757.5h1M1835 757.5h1M1867 757.5h1M1826 758.5h2M1839 758.5h1M1859 758.5h1M1890 758.5h1M1813 759.5h1M1847 759.5h2M1855 759.5h1M1824 762.5h1M1828 762.5h1M1837 762.5h2M1842 762.5h2M1816 763.5h2M1818 763.5h1M1819 763.5h1M1835 763.5h1M1837 763.5h2M1850 763.5h1M1861 763.5h1M1867 763.5h1M1813 764.5h1M1850 764.5h1M1813 767.5h1M1820 767.5h1M1823 767.5h1M1825 767.5h1M1840 767.5h1M1865 767.5h1M1810 768.5h1M1809 769.5h1M1824 769.5h1M1837 769.5h2M1823 772.5h1M1829 772.5h1M1852 772.5h2M1810 773.5h1M1885 773.5h1M1808 774.5h1M1828 774.5h1M1844 774.5h1M1852 774.5h2M1831 777.5h2M1824 778.5h1M1849 778.5h1M1855 778.5h1M1813 782.5h1M1824 782.5h1M1847 782.5h2M1815 783.5h1M1829 784.5h1M1833 784.5h1M1810 787.5h1M1825 787.5h1M1837 789.5h2M1850 789.5h1M1818 793.5h1M1805 794.5h1M1818 795.5h1M1835 798.5h1M1871 798.5h1M1828 799.5h1M1833 800.5h1M1841 800.5h1M1815 804.5h1M1823 804.5h1M1851 804.5h1M1815 809.5h1M1837 809.5h2M1873 810.5h2M1815 814.5h1M1861 831.5h1M1854 852.5h1"/><path stroke="#3851a4" d="M1828 691.5h1M1819 697.5h1M1818 701.5h1M1824 701.5h1M1819 702.5h1M1821 702.5h2M1829 702.5h1M1811 710.5h2M1829 710.5h1M1818 712.5h1M1828 712.5h1M1819 720.5h1M1825 720.5h1M1814 721.5h1M1816 721.5h2M1818 721.5h1M1821 721.5h2M1828 721.5h1M1813 722.5h1M1819 722.5h1M1811 725.5h2M1814 725.5h1M1819 726.5h1M1821 726.5h2M1825 726.5h1M1829 726.5h1M1818 727.5h1M1826 727.5h2M1815 728.5h1M1816 728.5h2M1825 728.5h1M1830 728.5h1M1833 728.5h1M1810 731.5h1M1825 731.5h1M1819 732.5h1M1818 733.5h1M1808 736.5h1M1811 736.5h2M1813 736.5h1M1814 736.5h1M1816 736.5h2M1820 736.5h1M1821 736.5h2M1851 736.5h1M1815 737.5h1M1818 737.5h1M1820 737.5h1M1821 741.5h2M1819 742.5h1M1826 742.5h2M1819 743.5h1M1837 743.5h2M1852 743.5h2M1819 746.5h1M1851 746.5h1M1809 747.5h1M1808 748.5h1M1810 748.5h1M1831 748.5h2M1833 748.5h1M1810 751.5h1M1813 751.5h1M1824 751.5h1M1806 752.5h2M1814 752.5h1M1815 752.5h1M1831 752.5h2M1833 752.5h1M1810 753.5h1M1816 753.5h2M1844 753.5h1M1816 756.5h2M1816 757.5h2M1820 757.5h1M1814 758.5h1M1819 758.5h1M1820 758.5h1M1835 758.5h1M1818 759.5h1M1819 759.5h1M1819 764.5h1M1829 767.5h1M1824 768.5h1M1815 777.5h1M1825 777.5h1M1823 782.5h1M1824 787.5h1M1826 788.5h2M1864 789.5h1M1831 793.5h2M1831 795.5h2M1816 798.5h2M1820 798.5h1M1867 809.5h1"/><path stroke="#385cb0" d="M1819 737.5h1M1818 738.5h1M1819 738.5h1M1818 741.5h1M1819 741.5h1"/><path stroke="#f4ab29" d="M1857 711.5h2M1810 720.5h1M1808 721.5h1M1810 726.5h1M1818 732.5h1M1821 737.5h2M1823 737.5h1M1833 741.5h1M1897 742.5h1M1831 751.5h2M1814 756.5h1M1819 757.5h1M1842 759.5h2M1816 772.5h2M1815 787.5h1M1825 788.5h1M1814 795.5h1M1854 819.5h1"/><path stroke="#ef7020" d="M1850 686.5h1M1825 696.5h1M1823 710.5h1M1821 711.5h2M1816 725.5h2M1811 726.5h2M1841 732.5h1M1851 742.5h1M1834 746.5h1M1824 747.5h1M1816 752.5h2M1821 756.5h2M1815 763.5h1M1828 763.5h1M1806 764.5h2M1828 767.5h1M1829 768.5h1M1819 790.5h1M1865 804.5h1M1850 824.5h1"/><path stroke="#e4321c" d="M1826 690.5h2M1813 712.5h1M1808 725.5h1M1820 732.5h1M1880 733.5h1M1813 738.5h1"/></g>
<g stroke-width="2" fill="none"><path stroke="#384698" d="M1810 595h1M1834 693h1M1871 699h1M1809 704h1M1835 704h1M1811 709h2M1815 709h1M1866 709h1M1912 709h1M1821 714h2M1828 714h1M1809 719h1M1823 719h1M1833 719h1M1835 719h1M1839 719h1M1867 719h1M1809 724h1M1816 724h2M1824 724h1M1833 724h1M1854 724h1M1823 730h1M1835 730h1M1809 735h1M1824 735h1M1871 735h1M1907 740h1M1908 740h1M1823 745h1M1825 745h1M1830 745h1M1865 745h1M1839 750h1M1841 750h1M1811 755h2M1823 755h1M1829 755h1M1819 761h1M1834 761h1M1815 766h1M1828 766h1M1882 766h1M1816 771h2M1839 771h1M1857 771h2M1942 771h1M1810 776h1M1815 781h1M1816 781h2M1816 786h2M1818 786h1M1844 786h1M1816 792h2M1852 797h2M1849 807h1M1852 812h2M1862 817h2M1846 838h1"/><path stroke="#3851a4" d="M1818 704h1M1813 714h1M1806 724h2M1821 724h2M1811 735h2M1813 735h1M1815 735h1M1820 735h1M1829 735h1M1814 740h1M1826 740h2M1834 745h1M1810 750h1M1811 750h2M1815 750h1M1831 750h2M1834 750h1M1816 755h2M1819 755h1M1821 755h2M1814 766h1M1821 766h2M1849 766h1M1808 771h1M1818 771h1M1828 786h1M1814 797h1"/><path stroke="#385cb0" d="M1816 740h2M1818 740h1M1819 740h1"/><path stroke="#f4ab29" d="M1823 704h1M1811 714h2M1824 714h1M1830 735h1M1835 745h1M1821 750h2"/><path stroke="#ef7020" d="M1821 688h2M1826 693h2M1821 709h2M1865 714h1M1829 719h1M1813 730h1M1852 745h2M1823 750h1M1805 755h1M1818 761h1M1850 761h1M1823 766h1M1825 797h1"/><path stroke="#e4321c" d="M1839 714h1M1829 740h1M1820 797h1"/></g>
<rect x="1914.7" y="719.4" width="66.5" height="100.2" fill="#fff" opacity="0.8"/>
<rect x="1791.6" y="544.7" width="317" height="317.3" fill="none" stroke="#4d4d4d" stroke-width="1.25"/>
<path d="M1782.6 617.1H1791.6M1782.6 834.7H1791.6" stroke="#000" stroke-width="2.5" fill="none"/>
<path d="M1788.2 556.9H1791.6M1788.2 578.7H1791.6M1788.2 622.7H1791.6M1788.2 628.8H1791.6M1788.2 637.1H1791.6M1788.2 646.7H1791.6M1788.2 668.5H1791.6M1788.2 681.1H1791.6M1788.2 695H1791.6M1788.2 829.1H1791.6M1788.2 823H1791.6M1788.2 814.7H1791.6M1788.2 805.1H1791.6M1788.2 783.3H1791.6M1788.2 770.7H1791.6M1788.2 756.8H1791.6" stroke="#000" stroke-width="1.3" fill="none"/>
<path d="M1785.4 657.3H1791.6M1785.4 793.5H1791.6" stroke="#000" stroke-width="1.6" fill="none"/>
<rect x="1786.4" y="710" width="5.2" height="31.3" fill="#000"/>
<path d="M1782.6 711.9H1791.6M1782.6 718.7H1791.6M1782.6 726.1H1791.6M1782.6 733.3H1791.6M1782.6 739.8H1791.6" stroke="#000" stroke-width="3.0" fill="none"/>
<text class="e" x="1768.8" y="623.6" text-anchor="end" textLength="10" lengthAdjust="spacingAndGlyphs">10</text>
<text class="x" x="1770.1" y="616.4">4</text>
<text class="e" x="1768.6" y="841.3" text-anchor="end" textLength="14.6" lengthAdjust="spacingAndGlyphs">-10</text>
<text class="x" x="1772.2" y="834.1">4</text>
<text class="e" x="1769.2" y="729.2" text-anchor="end">0</text>
<path d="M1792.3 862V870.7M1867.3 862V870.7M1942.3 862V870.7M2017.3 862V870.7M2092.3 862V870.7" stroke="#000" stroke-width="2.8" fill="none"/>
<path d="M1811 862V866M1829.8 862V866M1848.5 862V866M1886 862V866M1904.8 862V866M1923.5 862V866M1961 862V866M1979.8 862V866M1998.5 862V866M2036 862V866M2054.8 862V866M2073.6 862V866" stroke="#000" stroke-width="1.5" fill="none"/>
<text class="t" x="1865.6" y="883.9" text-anchor="middle" textLength="22.4" lengthAdjust="spacingAndGlyphs">1.0M</text>
<text class="t" x="1940.6" y="883.9" text-anchor="middle" textLength="22.4" lengthAdjust="spacingAndGlyphs">2.0M</text>
<text class="t" x="2015.6" y="883.9" text-anchor="middle" textLength="22.4" lengthAdjust="spacingAndGlyphs">3.0M</text>
<text class="t" x="2090.6" y="883.9" text-anchor="middle" textLength="22.4" lengthAdjust="spacingAndGlyphs">4.0M</text>
<text class="t" x="1793.4" y="883.9" text-anchor="middle">0</text>
<rect x="1796.7" y="682.6" width="310.8" height="174.4" fill="none" stroke="#000" stroke-width="2.2"/>
<text x="1916.42" y="757.9" class="g" textLength="56.56" lengthAdjust="spacingAndGlyphs">TCR-</text>
<text x="1922.24" y="798.4" class="g" textLength="49.55" lengthAdjust="spacingAndGlyphs">99.1</text>
<text x="1915.3" y="923.3" class="a" textLength="55.42" lengthAdjust="spacingAndGlyphs">FSC-A</text>
<text class="v" transform="translate(1730 816.04) rotate(-90)" textLength="195.52" lengthAdjust="spacingAndGlyphs">Comp-BV421-A :: TCR</text>
</svg>
</body></html>
